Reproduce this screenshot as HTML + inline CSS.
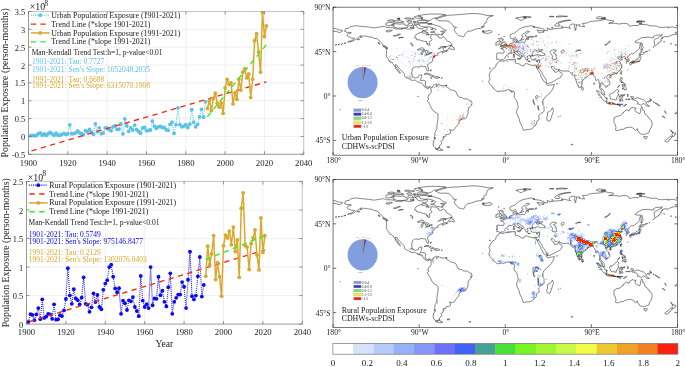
<!DOCTYPE html>
<html><head><meta charset="utf-8"><title>Population Exposure</title>
<style>html,body{margin:0;padding:0;background:#fff;}svg{display:block;}text{font-family:"Liberation Serif","Times New Roman",serif;}</style></head>
<body><svg width="685" height="367" viewBox="0 0 685 367" font-family='"Liberation Serif","Times New Roman",serif'><path d="M67.83 11.5V154.3M107.15 11.5V154.3M146.48 11.5V154.3M185.80 11.5V154.3M225.13 11.5V154.3M264.46 11.5V154.3M28.5 136.45H303.7M28.5 118.60H303.7M28.5 100.75H303.7M28.5 82.90H303.7M28.5 65.05H303.7M28.5 47.20H303.7M28.5 29.35H303.7" stroke="#e4e4e4" stroke-width="0.6" fill="none"/>
<clipPath id="c11"><rect x="28.5" y="9.5" width="275.2" height="144.8"/></clipPath>
<g clip-path="url(#c11)">
<polyline points="30.47,135.66 32.43,135.38 34.40,135.74 36.37,135.49 38.33,133.74 40.30,132.88 42.26,135.24 44.23,133.95 46.20,135.38 48.16,133.74 50.13,132.34 52.10,133.95 54.06,135.24 56.03,133.24 57.99,135.24 59.96,135.24 61.93,134.31 63.89,133.42 65.86,134.42 67.83,133.77 69.79,124.81 71.76,133.74 73.72,133.59 75.69,132.88 77.66,130.92 79.62,132.88 81.59,133.74 83.56,134.66 85.52,130.74 87.49,131.81 89.46,129.49 91.42,131.99 93.39,134.24 95.35,123.95 97.32,131.63 99.29,127.81 101.25,133.67 103.22,132.88 105.19,127.81 107.15,128.24 109.12,129.67 111.08,130.74 113.05,126.81 115.02,125.74 116.98,129.31 118.95,129.31 120.92,123.95 122.88,133.95 124.85,118.96 126.81,125.74 128.78,131.45 130.75,127.88 132.71,130.02 134.68,125.03 136.65,129.67 138.61,131.45 140.58,133.24 142.55,127.88 144.51,127.52 146.48,130.74 148.44,130.38 150.41,130.02 152.38,121.10 154.34,126.10 156.31,128.24 158.28,126.81 160.24,126.45 162.21,127.52 164.17,127.52 166.14,129.67 168.11,130.38 170.07,124.31 172.04,122.17 174.01,133.34 175.97,124.67 177.94,107.89 179.91,124.67 181.87,126.81 183.84,126.10 185.80,124.67 187.77,127.52 189.74,124.13 191.70,109.67 193.67,122.17 195.64,126.81 197.60,124.31 199.57,116.81 201.53,109.32 203.50,117.17 205.47,101.82" stroke="#5bc2e7" stroke-width="1.1" stroke-dasharray="0.9 1.1" fill="none"/>
<circle cx="30.47" cy="135.66" r="1.9" fill="#5bc2e7"/>
<circle cx="32.43" cy="135.38" r="1.9" fill="#5bc2e7"/>
<circle cx="34.40" cy="135.74" r="1.9" fill="#5bc2e7"/>
<circle cx="36.37" cy="135.49" r="1.9" fill="#5bc2e7"/>
<circle cx="38.33" cy="133.74" r="1.9" fill="#5bc2e7"/>
<circle cx="40.30" cy="132.88" r="1.9" fill="#5bc2e7"/>
<circle cx="42.26" cy="135.24" r="1.9" fill="#5bc2e7"/>
<circle cx="44.23" cy="133.95" r="1.9" fill="#5bc2e7"/>
<circle cx="46.20" cy="135.38" r="1.9" fill="#5bc2e7"/>
<circle cx="48.16" cy="133.74" r="1.9" fill="#5bc2e7"/>
<circle cx="50.13" cy="132.34" r="1.9" fill="#5bc2e7"/>
<circle cx="52.10" cy="133.95" r="1.9" fill="#5bc2e7"/>
<circle cx="54.06" cy="135.24" r="1.9" fill="#5bc2e7"/>
<circle cx="56.03" cy="133.24" r="1.9" fill="#5bc2e7"/>
<circle cx="57.99" cy="135.24" r="1.9" fill="#5bc2e7"/>
<circle cx="59.96" cy="135.24" r="1.9" fill="#5bc2e7"/>
<circle cx="61.93" cy="134.31" r="1.9" fill="#5bc2e7"/>
<circle cx="63.89" cy="133.42" r="1.9" fill="#5bc2e7"/>
<circle cx="65.86" cy="134.42" r="1.9" fill="#5bc2e7"/>
<circle cx="67.83" cy="133.77" r="1.9" fill="#5bc2e7"/>
<circle cx="69.79" cy="124.81" r="1.9" fill="#5bc2e7"/>
<circle cx="71.76" cy="133.74" r="1.9" fill="#5bc2e7"/>
<circle cx="73.72" cy="133.59" r="1.9" fill="#5bc2e7"/>
<circle cx="75.69" cy="132.88" r="1.9" fill="#5bc2e7"/>
<circle cx="77.66" cy="130.92" r="1.9" fill="#5bc2e7"/>
<circle cx="79.62" cy="132.88" r="1.9" fill="#5bc2e7"/>
<circle cx="81.59" cy="133.74" r="1.9" fill="#5bc2e7"/>
<circle cx="83.56" cy="134.66" r="1.9" fill="#5bc2e7"/>
<circle cx="85.52" cy="130.74" r="1.9" fill="#5bc2e7"/>
<circle cx="87.49" cy="131.81" r="1.9" fill="#5bc2e7"/>
<circle cx="89.46" cy="129.49" r="1.9" fill="#5bc2e7"/>
<circle cx="91.42" cy="131.99" r="1.9" fill="#5bc2e7"/>
<circle cx="93.39" cy="134.24" r="1.9" fill="#5bc2e7"/>
<circle cx="95.35" cy="123.95" r="1.9" fill="#5bc2e7"/>
<circle cx="97.32" cy="131.63" r="1.9" fill="#5bc2e7"/>
<circle cx="99.29" cy="127.81" r="1.9" fill="#5bc2e7"/>
<circle cx="101.25" cy="133.67" r="1.9" fill="#5bc2e7"/>
<circle cx="103.22" cy="132.88" r="1.9" fill="#5bc2e7"/>
<circle cx="105.19" cy="127.81" r="1.9" fill="#5bc2e7"/>
<circle cx="107.15" cy="128.24" r="1.9" fill="#5bc2e7"/>
<circle cx="109.12" cy="129.67" r="1.9" fill="#5bc2e7"/>
<circle cx="111.08" cy="130.74" r="1.9" fill="#5bc2e7"/>
<circle cx="113.05" cy="126.81" r="1.9" fill="#5bc2e7"/>
<circle cx="115.02" cy="125.74" r="1.9" fill="#5bc2e7"/>
<circle cx="116.98" cy="129.31" r="1.9" fill="#5bc2e7"/>
<circle cx="118.95" cy="129.31" r="1.9" fill="#5bc2e7"/>
<circle cx="120.92" cy="123.95" r="1.9" fill="#5bc2e7"/>
<circle cx="122.88" cy="133.95" r="1.9" fill="#5bc2e7"/>
<circle cx="124.85" cy="118.96" r="1.9" fill="#5bc2e7"/>
<circle cx="126.81" cy="125.74" r="1.9" fill="#5bc2e7"/>
<circle cx="128.78" cy="131.45" r="1.9" fill="#5bc2e7"/>
<circle cx="130.75" cy="127.88" r="1.9" fill="#5bc2e7"/>
<circle cx="132.71" cy="130.02" r="1.9" fill="#5bc2e7"/>
<circle cx="134.68" cy="125.03" r="1.9" fill="#5bc2e7"/>
<circle cx="136.65" cy="129.67" r="1.9" fill="#5bc2e7"/>
<circle cx="138.61" cy="131.45" r="1.9" fill="#5bc2e7"/>
<circle cx="140.58" cy="133.24" r="1.9" fill="#5bc2e7"/>
<circle cx="142.55" cy="127.88" r="1.9" fill="#5bc2e7"/>
<circle cx="144.51" cy="127.52" r="1.9" fill="#5bc2e7"/>
<circle cx="146.48" cy="130.74" r="1.9" fill="#5bc2e7"/>
<circle cx="148.44" cy="130.38" r="1.9" fill="#5bc2e7"/>
<circle cx="150.41" cy="130.02" r="1.9" fill="#5bc2e7"/>
<circle cx="152.38" cy="121.10" r="1.9" fill="#5bc2e7"/>
<circle cx="154.34" cy="126.10" r="1.9" fill="#5bc2e7"/>
<circle cx="156.31" cy="128.24" r="1.9" fill="#5bc2e7"/>
<circle cx="158.28" cy="126.81" r="1.9" fill="#5bc2e7"/>
<circle cx="160.24" cy="126.45" r="1.9" fill="#5bc2e7"/>
<circle cx="162.21" cy="127.52" r="1.9" fill="#5bc2e7"/>
<circle cx="164.17" cy="127.52" r="1.9" fill="#5bc2e7"/>
<circle cx="166.14" cy="129.67" r="1.9" fill="#5bc2e7"/>
<circle cx="168.11" cy="130.38" r="1.9" fill="#5bc2e7"/>
<circle cx="170.07" cy="124.31" r="1.9" fill="#5bc2e7"/>
<circle cx="172.04" cy="122.17" r="1.9" fill="#5bc2e7"/>
<circle cx="174.01" cy="133.34" r="1.9" fill="#5bc2e7"/>
<circle cx="175.97" cy="124.67" r="1.9" fill="#5bc2e7"/>
<circle cx="177.94" cy="107.89" r="1.9" fill="#5bc2e7"/>
<circle cx="179.91" cy="124.67" r="1.9" fill="#5bc2e7"/>
<circle cx="181.87" cy="126.81" r="1.9" fill="#5bc2e7"/>
<circle cx="183.84" cy="126.10" r="1.9" fill="#5bc2e7"/>
<circle cx="185.80" cy="124.67" r="1.9" fill="#5bc2e7"/>
<circle cx="187.77" cy="127.52" r="1.9" fill="#5bc2e7"/>
<circle cx="189.74" cy="124.13" r="1.9" fill="#5bc2e7"/>
<circle cx="191.70" cy="109.67" r="1.9" fill="#5bc2e7"/>
<circle cx="193.67" cy="122.17" r="1.9" fill="#5bc2e7"/>
<circle cx="195.64" cy="126.81" r="1.9" fill="#5bc2e7"/>
<circle cx="197.60" cy="124.31" r="1.9" fill="#5bc2e7"/>
<circle cx="199.57" cy="116.81" r="1.9" fill="#5bc2e7"/>
<circle cx="201.53" cy="109.32" r="1.9" fill="#5bc2e7"/>
<circle cx="203.50" cy="117.17" r="1.9" fill="#5bc2e7"/>
<circle cx="205.47" cy="101.82" r="1.9" fill="#5bc2e7"/>
<path d="M30.47 151.09L266.42 81.83" stroke="#f02818" stroke-width="1.35" stroke-dasharray="5.3 4.4" stroke-dashoffset="-1" fill="none"/>
<polyline points="207.43,108.43 209.40,100.39 211.37,110.39 213.33,98.61 215.30,93.25 217.26,103.25 219.23,107.18 221.20,102.89 223.16,113.42 225.13,87.90 227.10,79.33 229.06,84.33 231.03,82.90 233.00,103.96 234.96,92.54 236.93,99.32 238.89,79.33 240.86,90.04 242.83,72.19 244.79,68.62 246.76,77.90 248.73,73.97 250.69,97.54 252.66,79.33 254.62,40.77 256.59,33.63 258.56,51.84 260.52,72.19 262.49,12.57 264.46,36.49 266.42,25.78" stroke="#d9a82e" stroke-width="1.5" fill="none" stroke-linejoin="round"/>
<circle cx="207.43" cy="108.43" r="1.9" fill="#d9a82e"/>
<circle cx="209.40" cy="100.39" r="1.9" fill="#d9a82e"/>
<circle cx="211.37" cy="110.39" r="1.9" fill="#d9a82e"/>
<circle cx="213.33" cy="98.61" r="1.9" fill="#d9a82e"/>
<circle cx="215.30" cy="93.25" r="1.9" fill="#d9a82e"/>
<circle cx="217.26" cy="103.25" r="1.9" fill="#d9a82e"/>
<circle cx="219.23" cy="107.18" r="1.9" fill="#d9a82e"/>
<circle cx="221.20" cy="102.89" r="1.9" fill="#d9a82e"/>
<circle cx="223.16" cy="113.42" r="1.9" fill="#d9a82e"/>
<circle cx="225.13" cy="87.90" r="1.9" fill="#d9a82e"/>
<circle cx="227.10" cy="79.33" r="1.9" fill="#d9a82e"/>
<circle cx="229.06" cy="84.33" r="1.9" fill="#d9a82e"/>
<circle cx="231.03" cy="82.90" r="1.9" fill="#d9a82e"/>
<circle cx="233.00" cy="103.96" r="1.9" fill="#d9a82e"/>
<circle cx="234.96" cy="92.54" r="1.9" fill="#d9a82e"/>
<circle cx="236.93" cy="99.32" r="1.9" fill="#d9a82e"/>
<circle cx="238.89" cy="79.33" r="1.9" fill="#d9a82e"/>
<circle cx="240.86" cy="90.04" r="1.9" fill="#d9a82e"/>
<circle cx="242.83" cy="72.19" r="1.9" fill="#d9a82e"/>
<circle cx="244.79" cy="68.62" r="1.9" fill="#d9a82e"/>
<circle cx="246.76" cy="77.90" r="1.9" fill="#d9a82e"/>
<circle cx="248.73" cy="73.97" r="1.9" fill="#d9a82e"/>
<circle cx="250.69" cy="97.54" r="1.9" fill="#d9a82e"/>
<circle cx="252.66" cy="79.33" r="1.9" fill="#d9a82e"/>
<circle cx="254.62" cy="40.77" r="1.9" fill="#d9a82e"/>
<circle cx="256.59" cy="33.63" r="1.9" fill="#d9a82e"/>
<circle cx="258.56" cy="51.84" r="1.9" fill="#d9a82e"/>
<circle cx="260.52" cy="72.19" r="1.9" fill="#d9a82e"/>
<circle cx="262.49" cy="12.57" r="1.9" fill="#d9a82e"/>
<circle cx="264.46" cy="36.49" r="1.9" fill="#d9a82e"/>
<circle cx="266.42" cy="25.78" r="1.9" fill="#d9a82e"/>
<path d="M207.43 116.60L266.42 44.70" stroke="#30f020" stroke-width="1.35" stroke-dasharray="5.3 4.4" fill="none"/>
</g>
<path d="M28.5 11.5H303.7V154.3" stroke="#9a9a9a" stroke-width="0.6" fill="none"/>
<path d="M28.5 11.5V154.3H303.7" stroke="#777" stroke-width="0.75" fill="none"/>
<text transform="translate(28.50,165.60) scale(0.955,1)" font-size="9.1" text-anchor="middle" fill="#1a1a1a" >1900</text>
<text transform="translate(67.83,165.60) scale(0.955,1)" font-size="9.1" text-anchor="middle" fill="#1a1a1a" >1920</text>
<text transform="translate(107.15,165.60) scale(0.955,1)" font-size="9.1" text-anchor="middle" fill="#1a1a1a" >1940</text>
<text transform="translate(146.48,165.60) scale(0.955,1)" font-size="9.1" text-anchor="middle" fill="#1a1a1a" >1960</text>
<text transform="translate(185.80,165.60) scale(0.955,1)" font-size="9.1" text-anchor="middle" fill="#1a1a1a" >1980</text>
<text transform="translate(225.13,165.60) scale(0.955,1)" font-size="9.1" text-anchor="middle" fill="#1a1a1a" >2000</text>
<text transform="translate(264.46,165.60) scale(0.955,1)" font-size="9.1" text-anchor="middle" fill="#1a1a1a" >2020</text>
<text transform="translate(303.78,165.60) scale(0.955,1)" font-size="9.1" text-anchor="middle" fill="#1a1a1a" >2040</text>
<text x="25.20" y="157.85" font-size="8.4" text-anchor="end" fill="#1a1a1a" >-0.5</text>
<text x="25.20" y="140.00" font-size="8.4" text-anchor="end" fill="#1a1a1a" >0</text>
<text x="25.20" y="122.15" font-size="8.4" text-anchor="end" fill="#1a1a1a" >0.5</text>
<text x="25.20" y="104.30" font-size="8.4" text-anchor="end" fill="#1a1a1a" >1</text>
<text x="25.20" y="86.45" font-size="8.4" text-anchor="end" fill="#1a1a1a" >1.5</text>
<text x="25.20" y="68.60" font-size="8.4" text-anchor="end" fill="#1a1a1a" >2</text>
<text x="25.20" y="50.75" font-size="8.4" text-anchor="end" fill="#1a1a1a" >2.5</text>
<text x="25.20" y="32.90" font-size="8.4" text-anchor="end" fill="#1a1a1a" >3</text>
<text x="25.20" y="15.05" font-size="8.4" text-anchor="end" fill="#1a1a1a" >3.5</text>
<path d="M28.50 154.3v-3M28.50 11.5v3M67.83 154.3v-3M67.83 11.5v3M107.15 154.3v-3M107.15 11.5v3M146.48 154.3v-3M146.48 11.5v3M185.80 154.3v-3M185.80 11.5v3M225.13 154.3v-3M225.13 11.5v3M264.46 154.3v-3M264.46 11.5v3M303.78 154.3v-3M303.78 11.5v3M28.5 154.30h3M303.7 154.30h-3M28.5 136.45h3M303.7 136.45h-3M28.5 118.60h3M303.7 118.60h-3M28.5 100.75h3M303.7 100.75h-3M28.5 82.90h3M303.7 82.90h-3M28.5 65.05h3M303.7 65.05h-3M28.5 47.20h3M303.7 47.20h-3M28.5 29.35h3M303.7 29.35h-3M28.5 11.50h3M303.7 11.50h-3" stroke="#555" stroke-width="0.6" fill="none"/>
<text x="29.80" y="10.30" font-size="9.8" text-anchor="start" fill="#1a1a1a" >×10</text>
<text x="44.50" y="5.80" font-size="7.2" text-anchor="start" fill="#1a1a1a" >8</text>
<text transform="translate(8.0,82.9) rotate(-90)" font-size="9.8" text-anchor="middle" fill="#1a1a1a">Population Exposure (person-months)</text>
<path d="M30.9 15.2h18.7" stroke="#5bc2e7" stroke-width="1.3" stroke-dasharray="1 1.1"/>
<circle cx="40.25" cy="15.2" r="1.9" fill="#5bc2e7"/>
<text x="51.30" y="17.80" font-size="7.9" text-anchor="start" fill="#1a1a1a" >Urban Population Exposure (1901-2021)</text>
<path d="M30.7 24.07h18.9" stroke="#f02818" stroke-width="1.35" stroke-dasharray="5.3 4.4"/>
<text x="51.30" y="26.67" font-size="7.9" text-anchor="start" fill="#1a1a1a" >Trend Line (*slope 1901-2021)</text>
<path d="M30.9 32.94h18.7" stroke="#d9a82e" stroke-width="1.5"/>
<circle cx="40.25" cy="32.94" r="1.9" fill="#d9a82e"/>
<text x="51.30" y="35.54" font-size="7.9" text-anchor="start" fill="#1a1a1a" >Urban Population Exposure (1991-2021)</text>
<path d="M30.7 41.81h18.9" stroke="#30f020" stroke-width="1.35" stroke-dasharray="5.3 4.4"/>
<text x="51.30" y="44.41" font-size="7.9" text-anchor="start" fill="#1a1a1a" >Trend Line (*slope 1991-2021)</text>
<text x="31.70" y="54.50" font-size="7.5" text-anchor="start" fill="#1a1a1a" >Man-Kendall Trend Test:h=1, p-value&lt;0.01</text>
<text x="32.10" y="64.40" font-size="7.5" text-anchor="start" fill="#5bc2e7" >1901-2021: Tau: 0.7727</text>
<text x="32.10" y="71.50" font-size="7.5" text-anchor="start" fill="#5bc2e7" >1901-2021: Sen's Slope: 1052048.2035</text>
<text x="32.10" y="81.50" font-size="7.5" text-anchor="start" fill="#d9a82e" >1991-2021: Tau: 0.6688</text>
<text x="32.10" y="88.40" font-size="7.5" text-anchor="start" fill="#d9a82e" >1991-2021: Sen's Slope: 6315070.1908</text>
<path d="M65.90 181.45V324.1M105.30 181.45V324.1M144.70 181.45V324.1M184.10 181.45V324.1M223.50 181.45V324.1M262.90 181.45V324.1M26.5 295.57H302.3M26.5 267.04H302.3M26.5 238.51H302.3M26.5 209.98H302.3" stroke="#e4e4e4" stroke-width="0.6" fill="none"/>
<clipPath id="c181"><rect x="26.5" y="179.45" width="275.8" height="144.65000000000003"/></clipPath>
<g clip-path="url(#c181)">
<polyline points="28.47,321.82 30.44,314.06 32.41,314.97 34.38,320.22 36.35,314.40 38.32,308.12 40.29,319.14 42.26,299.39 44.23,317.94 46.20,316.68 48.17,313.83 50.14,314.40 52.11,318.79 54.08,304.36 56.05,319.71 58.02,319.36 59.99,315.26 61.96,316.11 63.93,310.41 65.90,298.99 67.87,268.18 69.84,295.34 71.81,303.79 73.78,289.18 75.75,298.42 77.72,300.13 79.69,304.36 81.66,297.62 83.63,277.31 85.60,303.79 87.57,304.70 89.54,311.78 91.51,307.32 93.48,293.29 95.45,302.02 97.42,295.00 99.39,306.98 101.36,309.26 103.33,289.86 105.30,283.59 107.27,280.16 109.24,267.04 111.21,264.76 113.18,276.74 115.15,288.44 117.12,292.26 119.09,288.15 121.06,313.83 123.03,300.71 125.00,303.27 126.97,310.01 128.94,300.36 130.91,301.28 132.88,297.11 134.85,306.98 136.82,310.98 138.79,316.17 140.76,275.88 142.73,300.71 144.70,306.98 146.67,304.13 148.64,308.12 150.61,267.04 152.58,305.27 154.55,298.42 156.52,298.82 158.49,276.74 160.46,295.17 162.43,290.72 164.40,301.85 166.37,306.41 168.34,287.24 170.31,273.32 172.28,313.83 174.25,301.85 176.22,297.85 178.19,294.60 180.16,294.60 182.13,282.05 184.10,286.73 186.07,308.12 188.04,279.76 190.01,251.63 191.98,296.14 193.95,299.39 195.92,295.57 197.89,276.28 199.86,257.00 201.83,296.54 203.80,284.96" stroke="#0a0af0" stroke-width="1.1" stroke-dasharray="0.9 1.1" fill="none"/>
<circle cx="28.47" cy="321.82" r="1.9" fill="#0a0af0"/>
<circle cx="30.44" cy="314.06" r="1.9" fill="#0a0af0"/>
<circle cx="32.41" cy="314.97" r="1.9" fill="#0a0af0"/>
<circle cx="34.38" cy="320.22" r="1.9" fill="#0a0af0"/>
<circle cx="36.35" cy="314.40" r="1.9" fill="#0a0af0"/>
<circle cx="38.32" cy="308.12" r="1.9" fill="#0a0af0"/>
<circle cx="40.29" cy="319.14" r="1.9" fill="#0a0af0"/>
<circle cx="42.26" cy="299.39" r="1.9" fill="#0a0af0"/>
<circle cx="44.23" cy="317.94" r="1.9" fill="#0a0af0"/>
<circle cx="46.20" cy="316.68" r="1.9" fill="#0a0af0"/>
<circle cx="48.17" cy="313.83" r="1.9" fill="#0a0af0"/>
<circle cx="50.14" cy="314.40" r="1.9" fill="#0a0af0"/>
<circle cx="52.11" cy="318.79" r="1.9" fill="#0a0af0"/>
<circle cx="54.08" cy="304.36" r="1.9" fill="#0a0af0"/>
<circle cx="56.05" cy="319.71" r="1.9" fill="#0a0af0"/>
<circle cx="58.02" cy="319.36" r="1.9" fill="#0a0af0"/>
<circle cx="59.99" cy="315.26" r="1.9" fill="#0a0af0"/>
<circle cx="61.96" cy="316.11" r="1.9" fill="#0a0af0"/>
<circle cx="63.93" cy="310.41" r="1.9" fill="#0a0af0"/>
<circle cx="65.90" cy="298.99" r="1.9" fill="#0a0af0"/>
<circle cx="67.87" cy="268.18" r="1.9" fill="#0a0af0"/>
<circle cx="69.84" cy="295.34" r="1.9" fill="#0a0af0"/>
<circle cx="71.81" cy="303.79" r="1.9" fill="#0a0af0"/>
<circle cx="73.78" cy="289.18" r="1.9" fill="#0a0af0"/>
<circle cx="75.75" cy="298.42" r="1.9" fill="#0a0af0"/>
<circle cx="77.72" cy="300.13" r="1.9" fill="#0a0af0"/>
<circle cx="79.69" cy="304.36" r="1.9" fill="#0a0af0"/>
<circle cx="81.66" cy="297.62" r="1.9" fill="#0a0af0"/>
<circle cx="83.63" cy="277.31" r="1.9" fill="#0a0af0"/>
<circle cx="85.60" cy="303.79" r="1.9" fill="#0a0af0"/>
<circle cx="87.57" cy="304.70" r="1.9" fill="#0a0af0"/>
<circle cx="89.54" cy="311.78" r="1.9" fill="#0a0af0"/>
<circle cx="91.51" cy="307.32" r="1.9" fill="#0a0af0"/>
<circle cx="93.48" cy="293.29" r="1.9" fill="#0a0af0"/>
<circle cx="95.45" cy="302.02" r="1.9" fill="#0a0af0"/>
<circle cx="97.42" cy="295.00" r="1.9" fill="#0a0af0"/>
<circle cx="99.39" cy="306.98" r="1.9" fill="#0a0af0"/>
<circle cx="101.36" cy="309.26" r="1.9" fill="#0a0af0"/>
<circle cx="103.33" cy="289.86" r="1.9" fill="#0a0af0"/>
<circle cx="105.30" cy="283.59" r="1.9" fill="#0a0af0"/>
<circle cx="107.27" cy="280.16" r="1.9" fill="#0a0af0"/>
<circle cx="109.24" cy="267.04" r="1.9" fill="#0a0af0"/>
<circle cx="111.21" cy="264.76" r="1.9" fill="#0a0af0"/>
<circle cx="113.18" cy="276.74" r="1.9" fill="#0a0af0"/>
<circle cx="115.15" cy="288.44" r="1.9" fill="#0a0af0"/>
<circle cx="117.12" cy="292.26" r="1.9" fill="#0a0af0"/>
<circle cx="119.09" cy="288.15" r="1.9" fill="#0a0af0"/>
<circle cx="121.06" cy="313.83" r="1.9" fill="#0a0af0"/>
<circle cx="123.03" cy="300.71" r="1.9" fill="#0a0af0"/>
<circle cx="125.00" cy="303.27" r="1.9" fill="#0a0af0"/>
<circle cx="126.97" cy="310.01" r="1.9" fill="#0a0af0"/>
<circle cx="128.94" cy="300.36" r="1.9" fill="#0a0af0"/>
<circle cx="130.91" cy="301.28" r="1.9" fill="#0a0af0"/>
<circle cx="132.88" cy="297.11" r="1.9" fill="#0a0af0"/>
<circle cx="134.85" cy="306.98" r="1.9" fill="#0a0af0"/>
<circle cx="136.82" cy="310.98" r="1.9" fill="#0a0af0"/>
<circle cx="138.79" cy="316.17" r="1.9" fill="#0a0af0"/>
<circle cx="140.76" cy="275.88" r="1.9" fill="#0a0af0"/>
<circle cx="142.73" cy="300.71" r="1.9" fill="#0a0af0"/>
<circle cx="144.70" cy="306.98" r="1.9" fill="#0a0af0"/>
<circle cx="146.67" cy="304.13" r="1.9" fill="#0a0af0"/>
<circle cx="148.64" cy="308.12" r="1.9" fill="#0a0af0"/>
<circle cx="150.61" cy="267.04" r="1.9" fill="#0a0af0"/>
<circle cx="152.58" cy="305.27" r="1.9" fill="#0a0af0"/>
<circle cx="154.55" cy="298.42" r="1.9" fill="#0a0af0"/>
<circle cx="156.52" cy="298.82" r="1.9" fill="#0a0af0"/>
<circle cx="158.49" cy="276.74" r="1.9" fill="#0a0af0"/>
<circle cx="160.46" cy="295.17" r="1.9" fill="#0a0af0"/>
<circle cx="162.43" cy="290.72" r="1.9" fill="#0a0af0"/>
<circle cx="164.40" cy="301.85" r="1.9" fill="#0a0af0"/>
<circle cx="166.37" cy="306.41" r="1.9" fill="#0a0af0"/>
<circle cx="168.34" cy="287.24" r="1.9" fill="#0a0af0"/>
<circle cx="170.31" cy="273.32" r="1.9" fill="#0a0af0"/>
<circle cx="172.28" cy="313.83" r="1.9" fill="#0a0af0"/>
<circle cx="174.25" cy="301.85" r="1.9" fill="#0a0af0"/>
<circle cx="176.22" cy="297.85" r="1.9" fill="#0a0af0"/>
<circle cx="178.19" cy="294.60" r="1.9" fill="#0a0af0"/>
<circle cx="180.16" cy="294.60" r="1.9" fill="#0a0af0"/>
<circle cx="182.13" cy="282.05" r="1.9" fill="#0a0af0"/>
<circle cx="184.10" cy="286.73" r="1.9" fill="#0a0af0"/>
<circle cx="186.07" cy="308.12" r="1.9" fill="#0a0af0"/>
<circle cx="188.04" cy="279.76" r="1.9" fill="#0a0af0"/>
<circle cx="190.01" cy="251.63" r="1.9" fill="#0a0af0"/>
<circle cx="191.98" cy="296.14" r="1.9" fill="#0a0af0"/>
<circle cx="193.95" cy="299.39" r="1.9" fill="#0a0af0"/>
<circle cx="195.92" cy="295.57" r="1.9" fill="#0a0af0"/>
<circle cx="197.89" cy="276.28" r="1.9" fill="#0a0af0"/>
<circle cx="199.86" cy="257.00" r="1.9" fill="#0a0af0"/>
<circle cx="201.83" cy="296.54" r="1.9" fill="#0a0af0"/>
<circle cx="203.80" cy="284.96" r="1.9" fill="#0a0af0"/>
<path d="M28.47 321.82L264.87 249.92" stroke="#f02818" stroke-width="1.35" stroke-dasharray="5.3 4.4" stroke-dashoffset="-1" fill="none"/>
<polyline points="205.77,276.17 207.74,246.21 209.71,264.76 211.68,253.92 213.65,235.66 215.62,279.59 217.59,262.76 219.56,276.74 221.53,296.14 223.50,245.64 225.47,235.09 227.44,237.94 229.41,231.09 231.38,244.79 233.35,227.10 235.32,251.63 237.29,239.88 239.26,277.31 241.23,208.27 243.20,192.86 245.17,245.64 247.14,247.07 249.11,269.49 251.08,243.65 253.05,237.94 255.02,229.95 256.99,255.06 258.96,269.89 260.93,217.97 262.90,252.38 264.87,235.66" stroke="#d9a82e" stroke-width="1.5" fill="none" stroke-linejoin="round"/>
<circle cx="205.77" cy="276.17" r="1.9" fill="#d9a82e"/>
<circle cx="207.74" cy="246.21" r="1.9" fill="#d9a82e"/>
<circle cx="209.71" cy="264.76" r="1.9" fill="#d9a82e"/>
<circle cx="211.68" cy="253.92" r="1.9" fill="#d9a82e"/>
<circle cx="213.65" cy="235.66" r="1.9" fill="#d9a82e"/>
<circle cx="215.62" cy="279.59" r="1.9" fill="#d9a82e"/>
<circle cx="217.59" cy="262.76" r="1.9" fill="#d9a82e"/>
<circle cx="219.56" cy="276.74" r="1.9" fill="#d9a82e"/>
<circle cx="221.53" cy="296.14" r="1.9" fill="#d9a82e"/>
<circle cx="223.50" cy="245.64" r="1.9" fill="#d9a82e"/>
<circle cx="225.47" cy="235.09" r="1.9" fill="#d9a82e"/>
<circle cx="227.44" cy="237.94" r="1.9" fill="#d9a82e"/>
<circle cx="229.41" cy="231.09" r="1.9" fill="#d9a82e"/>
<circle cx="231.38" cy="244.79" r="1.9" fill="#d9a82e"/>
<circle cx="233.35" cy="227.10" r="1.9" fill="#d9a82e"/>
<circle cx="235.32" cy="251.63" r="1.9" fill="#d9a82e"/>
<circle cx="237.29" cy="239.88" r="1.9" fill="#d9a82e"/>
<circle cx="239.26" cy="277.31" r="1.9" fill="#d9a82e"/>
<circle cx="241.23" cy="208.27" r="1.9" fill="#d9a82e"/>
<circle cx="243.20" cy="192.86" r="1.9" fill="#d9a82e"/>
<circle cx="245.17" cy="245.64" r="1.9" fill="#d9a82e"/>
<circle cx="247.14" cy="247.07" r="1.9" fill="#d9a82e"/>
<circle cx="249.11" cy="269.49" r="1.9" fill="#d9a82e"/>
<circle cx="251.08" cy="243.65" r="1.9" fill="#d9a82e"/>
<circle cx="253.05" cy="237.94" r="1.9" fill="#d9a82e"/>
<circle cx="255.02" cy="229.95" r="1.9" fill="#d9a82e"/>
<circle cx="256.99" cy="255.06" r="1.9" fill="#d9a82e"/>
<circle cx="258.96" cy="269.89" r="1.9" fill="#d9a82e"/>
<circle cx="260.93" cy="217.97" r="1.9" fill="#d9a82e"/>
<circle cx="262.90" cy="252.38" r="1.9" fill="#d9a82e"/>
<circle cx="264.87" cy="235.66" r="1.9" fill="#d9a82e"/>
<path d="M205.77 259.62L264.87 235.66" stroke="#30f020" stroke-width="1.35" stroke-dasharray="5.3 4.4" fill="none"/>
</g>
<path d="M26.5 181.45H302.3V324.1" stroke="#9a9a9a" stroke-width="0.6" fill="none"/>
<path d="M26.5 181.45V324.1H302.3" stroke="#777" stroke-width="0.75" fill="none"/>
<text transform="translate(26.50,335.40) scale(0.955,1)" font-size="9.1" text-anchor="middle" fill="#1a1a1a" >1900</text>
<text transform="translate(65.90,335.40) scale(0.955,1)" font-size="9.1" text-anchor="middle" fill="#1a1a1a" >1920</text>
<text transform="translate(105.30,335.40) scale(0.955,1)" font-size="9.1" text-anchor="middle" fill="#1a1a1a" >1940</text>
<text transform="translate(144.70,335.40) scale(0.955,1)" font-size="9.1" text-anchor="middle" fill="#1a1a1a" >1960</text>
<text transform="translate(184.10,335.40) scale(0.955,1)" font-size="9.1" text-anchor="middle" fill="#1a1a1a" >1980</text>
<text transform="translate(223.50,335.40) scale(0.955,1)" font-size="9.1" text-anchor="middle" fill="#1a1a1a" >2000</text>
<text transform="translate(262.90,335.40) scale(0.955,1)" font-size="9.1" text-anchor="middle" fill="#1a1a1a" >2020</text>
<text transform="translate(302.30,335.40) scale(0.955,1)" font-size="9.1" text-anchor="middle" fill="#1a1a1a" >2040</text>
<text x="23.20" y="327.65" font-size="8.4" text-anchor="end" fill="#1a1a1a" >0</text>
<text x="23.20" y="299.12" font-size="8.4" text-anchor="end" fill="#1a1a1a" >0.5</text>
<text x="23.20" y="270.59" font-size="8.4" text-anchor="end" fill="#1a1a1a" >1</text>
<text x="23.20" y="242.06" font-size="8.4" text-anchor="end" fill="#1a1a1a" >1.5</text>
<text x="23.20" y="213.53" font-size="8.4" text-anchor="end" fill="#1a1a1a" >2</text>
<text x="23.20" y="185.00" font-size="8.4" text-anchor="end" fill="#1a1a1a" >2.5</text>
<path d="M26.50 324.1v-3M26.50 181.45v3M65.90 324.1v-3M65.90 181.45v3M105.30 324.1v-3M105.30 181.45v3M144.70 324.1v-3M144.70 181.45v3M184.10 324.1v-3M184.10 181.45v3M223.50 324.1v-3M223.50 181.45v3M262.90 324.1v-3M262.90 181.45v3M302.30 324.1v-3M302.30 181.45v3M26.5 324.10h3M302.3 324.10h-3M26.5 295.57h3M302.3 295.57h-3M26.5 267.04h3M302.3 267.04h-3M26.5 238.51h3M302.3 238.51h-3M26.5 209.98h3M302.3 209.98h-3M26.5 181.45h3M302.3 181.45h-3" stroke="#555" stroke-width="0.6" fill="none"/>
<text x="27.80" y="180.95" font-size="9.8" text-anchor="start" fill="#1a1a1a" >×10</text>
<text x="42.50" y="176.45" font-size="7.2" text-anchor="start" fill="#1a1a1a" >8</text>
<text transform="translate(8.7,252.8) rotate(-90)" font-size="9.8" text-anchor="middle" fill="#1a1a1a">Population Exposure (person-months)</text>
<text x="164.40" y="346.70" font-size="9.6" text-anchor="middle" fill="#1a1a1a" >Year</text>
<path d="M28.8 185.14999999999998h18.9" stroke="#0a0af0" stroke-width="1.3" stroke-dasharray="1 1.1"/>
<circle cx="38.25" cy="185.14999999999998" r="1.9" fill="#0a0af0"/>
<text x="49.30" y="187.75" font-size="7.9" text-anchor="start" fill="#1a1a1a" >Rural Population Exposure (1901-2021)</text>
<path d="M29.5 194.01999999999998h18.2" stroke="#f02818" stroke-width="1.35" stroke-dasharray="5.3 4.4"/>
<text x="49.30" y="196.62" font-size="7.9" text-anchor="start" fill="#1a1a1a" >Trend Line (*slope 1901-2021)</text>
<path d="M28.8 202.89h18.9" stroke="#d9a82e" stroke-width="1.5"/>
<circle cx="38.25" cy="202.89" r="1.9" fill="#d9a82e"/>
<text x="49.30" y="205.49" font-size="7.9" text-anchor="start" fill="#1a1a1a" >Rural Population Exposure (1991-2021)</text>
<path d="M29.5 211.76h18.2" stroke="#30f020" stroke-width="1.35" stroke-dasharray="5.3 4.4"/>
<text x="49.30" y="214.36" font-size="7.9" text-anchor="start" fill="#1a1a1a" >Trend Line (*slope 1991-2021)</text>
<text x="28.60" y="224.85" font-size="7.5" text-anchor="start" fill="#1a1a1a" >Man-Kendall Trend Test:h=1, p-value&lt;0.01</text>
<text x="28.70" y="236.75" font-size="7.5" text-anchor="start" fill="#0a0af0" >1901-2021: Tau: 0.5749</text>
<text x="28.70" y="243.95" font-size="7.5" text-anchor="start" fill="#0a0af0" >1901-2021: Sen's Slope: 975146.8477</text>
<text x="28.70" y="254.65" font-size="7.5" text-anchor="start" fill="#d9a82e" >1991-2021: Tau: 0.2129</text>
<text x="28.70" y="261.65" font-size="7.5" text-anchor="start" fill="#d9a82e" >1991-2021: Sen's Slope: 1302076.0403</text>
<clipPath id="m1"><rect x="333.05" y="7.2" width="344.45" height="148.0"/></clipPath>
<g clip-path="url(#m1)">
<g><path fill="#4162f6" d="M510.2 45.4h0.8v0.8h-0.8zM506.4 44.5h0.8v0.8h-0.8zM501.8 48.4h0.8v0.8h-0.8zM506.3 48.4h0.55v0.55h-0.55zM510.9 44.4h0.55v0.55h-0.55zM506.9 46.0h0.8v0.8h-0.8zM514.3 51.7h0.8v0.8h-0.8zM513.0 50.6h0.55v0.55h-0.55zM515.5 48.8h0.8v0.8h-0.8zM509.8 49.3h0.55v0.55h-0.55zM524.5 46.2h0.55v0.55h-0.55zM530.4 51.1h0.8v0.8h-0.8zM515.3 45.4h0.55v0.55h-0.55zM528.6 45.7h0.55v0.55h-0.55zM524.3 52.5h0.8v0.8h-0.8zM523.7 43.6h0.55v0.55h-0.55zM506.2 48.3h0.8v0.8h-0.8zM536.9 55.1h0.55v0.55h-0.55zM518.0 49.5h0.55v0.55h-0.55zM522.6 48.3h0.8v0.8h-0.8zM517.4 54.2h0.8v0.8h-0.8zM510.3 46.9h0.8v0.8h-0.8zM523.4 48.6h0.8v0.8h-0.8zM515.5 43.9h0.55v0.55h-0.55zM532.7 51.3h0.8v0.8h-0.8zM517.5 46.0h0.8v0.8h-0.8zM514.0 47.1h0.8v0.8h-0.8zM522.8 49.1h0.55v0.55h-0.55zM513.1 48.6h0.8v0.8h-0.8zM518.3 43.8h0.55v0.55h-0.55zM529.9 49.7h0.8v0.8h-0.8zM538.5 49.1h0.8v0.8h-0.8zM524.3 43.7h0.55v0.55h-0.55zM512.6 46.2h0.55v0.55h-0.55zM544.0 44.5h0.8v0.8h-0.8zM569.1 44.1h0.55v0.55h-0.55zM551.6 42.0h0.8v0.8h-0.8zM532.6 43.6h0.8v0.8h-0.8zM542.8 49.9h0.55v0.55h-0.55zM555.7 41.8h0.8v0.8h-0.8zM540.0 59.2h0.55v0.55h-0.55zM547.2 58.8h0.55v0.55h-0.55zM546.4 55.8h0.55v0.55h-0.55zM534.2 58.4h0.8v0.8h-0.8zM533.8 59.1h0.8v0.8h-0.8zM540.2 60.8h0.55v0.55h-0.55zM535.6 58.1h0.55v0.55h-0.55zM552.5 60.0h0.55v0.55h-0.55zM549.7 63.4h0.55v0.55h-0.55zM539.4 62.1h0.55v0.55h-0.55zM585.2 70.5h0.55v0.55h-0.55zM583.7 70.0h0.55v0.55h-0.55zM587.2 69.0h0.55v0.55h-0.55zM590.5 72.6h0.8v0.8h-0.8zM591.4 73.1h0.8v0.8h-0.8zM582.5 78.9h0.55v0.55h-0.55zM584.6 74.0h0.8v0.8h-0.8zM586.2 75.8h0.8v0.8h-0.8zM577.8 78.9h0.55v0.55h-0.55zM585.3 77.3h0.8v0.8h-0.8zM577.9 82.9h0.55v0.55h-0.55zM574.8 73.4h0.55v0.55h-0.55zM579.9 70.2h0.55v0.55h-0.55zM575.7 75.3h0.8v0.8h-0.8zM618.6 70.3h0.55v0.55h-0.55zM619.8 67.9h0.55v0.55h-0.55zM613.0 69.1h0.55v0.55h-0.55zM618.2 56.8h0.55v0.55h-0.55zM625.1 57.9h0.8v0.8h-0.8zM609.9 64.9h0.8v0.8h-0.8zM617.4 70.3h0.55v0.55h-0.55zM610.6 60.4h0.8v0.8h-0.8zM617.7 60.9h0.55v0.55h-0.55zM615.8 56.5h0.55v0.55h-0.55zM619.9 56.6h0.55v0.55h-0.55zM610.7 70.7h0.55v0.55h-0.55zM604.8 65.9h0.8v0.8h-0.8zM605.5 66.5h0.8v0.8h-0.8zM604.7 64.5h0.8v0.8h-0.8zM603.7 66.8h0.8v0.8h-0.8zM603.7 64.9h0.55v0.55h-0.55zM612.0 72.9h0.55v0.55h-0.55zM614.5 72.0h0.8v0.8h-0.8zM624.6 53.1h0.55v0.55h-0.55zM620.8 51.9h0.8v0.8h-0.8zM621.3 53.9h0.8v0.8h-0.8zM627.9 59.9h0.55v0.55h-0.55zM628.2 60.0h0.55v0.55h-0.55zM637.0 61.0h0.8v0.8h-0.8zM601.7 81.7h0.8v0.8h-0.8zM423.4 61.2h0.8v0.8h-0.8zM424.5 55.5h0.8v0.8h-0.8zM431.5 55.7h0.8v0.8h-0.8zM431.9 58.0h0.55v0.55h-0.55zM419.2 60.9h0.8v0.8h-0.8zM423.9 61.3h0.55v0.55h-0.55zM430.3 53.5h0.8v0.8h-0.8zM424.5 54.6h0.55v0.55h-0.55zM410.9 55.2h0.8v0.8h-0.8zM401.4 54.6h0.8v0.8h-0.8zM409.6 57.5h0.55v0.55h-0.55zM398.6 55.2h0.8v0.8h-0.8zM414.0 55.9h0.8v0.8h-0.8zM433.9 87.0h0.8v0.8h-0.8zM439.0 86.4h0.55v0.55h-0.55zM461.0 117.7h0.8v0.8h-0.8zM458.8 122.4h0.8v0.8h-0.8zM462.2 115.3h0.8v0.8h-0.8zM503.6 90.0h0.55v0.55h-0.55zM539.5 96.2h0.8v0.8h-0.8zM533.7 123.3h0.8v0.8h-0.8zM576.8 56.6h0.55v0.55h-0.55zM534.9 124.6h0.8v0.8h-0.8z"/><path fill="#45a096" d="M505.6 44.6h0.6v0.6h-0.6zM521.1 48.6h0.6v0.6h-0.6zM508.7 45.3h0.6v0.6h-0.6zM503.4 44.8h0.85v0.85h-0.85zM510.0 47.5h0.85v0.85h-0.85zM514.8 45.6h0.6v0.6h-0.6zM551.3 67.4h0.6v0.6h-0.6zM537.7 66.6h0.6v0.6h-0.6zM580.5 71.9h0.85v0.85h-0.85zM587.7 68.6h0.85v0.85h-0.85zM591.1 73.4h0.85v0.85h-0.85zM592.9 72.2h0.85v0.85h-0.85zM574.0 67.9h0.6v0.6h-0.6zM618.6 67.7h0.6v0.6h-0.6zM607.3 67.8h0.85v0.85h-0.85zM612.0 103.4h0.6v0.6h-0.6zM433.0 56.3h0.6v0.6h-0.6zM433.5 56.0h0.85v0.85h-0.85zM437.1 86.4h0.6v0.6h-0.6zM460.7 118.1h0.85v0.85h-0.85zM467.8 106.9h0.85v0.85h-0.85zM530.9 125.6h0.6v0.6h-0.6zM510.5 60.2h0.85v0.85h-0.85z"/><path fill="#48df38" d="M511.7 43.7h0.85v0.85h-0.85zM506.7 46.6h0.6v0.6h-0.6zM500.8 44.9h0.6v0.6h-0.6zM503.2 45.6h0.85v0.85h-0.85zM509.6 46.6h0.6v0.6h-0.6zM510.7 46.3h0.6v0.6h-0.6zM508.4 47.1h0.6v0.6h-0.6zM507.1 46.2h0.6v0.6h-0.6zM508.3 47.1h0.85v0.85h-0.85zM510.1 47.7h0.85v0.85h-0.85zM504.7 43.9h0.85v0.85h-0.85zM504.4 44.8h0.6v0.6h-0.6zM508.3 45.7h0.85v0.85h-0.85zM505.2 44.5h0.6v0.6h-0.6zM509.9 44.9h0.6v0.6h-0.6zM514.9 48.3h0.85v0.85h-0.85zM513.4 48.7h0.85v0.85h-0.85zM514.6 46.7h0.85v0.85h-0.85zM514.7 50.8h0.85v0.85h-0.85zM510.7 51.5h0.85v0.85h-0.85zM515.5 48.9h0.6v0.6h-0.6zM514.5 44.7h0.6v0.6h-0.6zM520.2 51.0h0.6v0.6h-0.6zM520.7 44.6h0.6v0.6h-0.6zM547.5 42.1h0.6v0.6h-0.6zM505.3 43.8h0.6v0.6h-0.6zM503.0 45.1h0.85v0.85h-0.85zM511.8 44.5h0.6v0.6h-0.6zM508.4 45.7h0.6v0.6h-0.6zM510.1 45.5h0.85v0.85h-0.85zM510.0 45.0h0.6v0.6h-0.6zM510.3 45.7h0.85v0.85h-0.85zM511.3 45.7h0.85v0.85h-0.85zM513.3 45.8h0.6v0.6h-0.6zM513.1 46.0h0.6v0.6h-0.6zM510.9 48.8h0.85v0.85h-0.85zM514.0 43.5h0.6v0.6h-0.6zM511.7 48.2h0.85v0.85h-0.85zM514.5 51.0h0.85v0.85h-0.85zM516.6 51.9h0.85v0.85h-0.85zM546.3 65.1h0.6v0.6h-0.6zM548.4 66.1h0.85v0.85h-0.85zM545.3 60.2h0.6v0.6h-0.6zM581.7 68.4h0.85v0.85h-0.85zM584.3 69.9h0.6v0.6h-0.6zM574.1 71.0h0.6v0.6h-0.6zM587.9 68.3h0.6v0.6h-0.6zM582.6 70.1h0.85v0.85h-0.85zM577.1 71.2h0.6v0.6h-0.6zM586.1 70.2h0.6v0.6h-0.6zM584.1 68.5h0.6v0.6h-0.6zM583.0 71.8h0.6v0.6h-0.6zM583.6 70.1h0.85v0.85h-0.85zM585.6 68.3h0.6v0.6h-0.6zM591.2 72.8h0.6v0.6h-0.6zM591.7 72.4h0.85v0.85h-0.85zM590.4 71.6h0.6v0.6h-0.6zM591.8 73.5h0.6v0.6h-0.6zM588.9 72.9h0.6v0.6h-0.6zM592.5 73.0h0.6v0.6h-0.6zM591.2 72.3h0.6v0.6h-0.6zM578.2 74.0h0.6v0.6h-0.6zM584.4 76.2h0.6v0.6h-0.6zM581.4 79.0h0.85v0.85h-0.85zM581.4 78.6h0.85v0.85h-0.85zM577.9 75.3h0.85v0.85h-0.85zM581.5 74.4h0.85v0.85h-0.85zM574.9 65.1h0.85v0.85h-0.85zM607.1 52.3h0.85v0.85h-0.85zM611.4 57.6h0.85v0.85h-0.85zM619.6 69.2h0.85v0.85h-0.85zM618.8 71.1h0.6v0.6h-0.6zM621.3 67.4h0.6v0.6h-0.6zM615.4 63.5h0.85v0.85h-0.85zM617.5 57.7h0.6v0.6h-0.6zM618.1 65.3h0.85v0.85h-0.85zM620.8 53.8h0.6v0.6h-0.6zM607.4 64.7h0.85v0.85h-0.85zM606.7 66.6h0.6v0.6h-0.6zM605.5 67.2h0.85v0.85h-0.85zM608.8 70.7h0.85v0.85h-0.85zM615.9 73.4h0.85v0.85h-0.85zM611.3 74.2h0.6v0.6h-0.6zM616.9 72.3h0.85v0.85h-0.85zM617.0 72.4h0.6v0.6h-0.6zM617.4 72.0h0.6v0.6h-0.6zM611.5 71.8h0.6v0.6h-0.6zM625.4 48.6h0.6v0.6h-0.6zM628.5 45.4h0.85v0.85h-0.85zM638.9 60.1h0.6v0.6h-0.6zM638.2 61.2h0.85v0.85h-0.85zM635.5 60.9h0.85v0.85h-0.85zM639.1 60.8h0.85v0.85h-0.85zM636.8 61.0h0.85v0.85h-0.85zM636.1 61.7h0.85v0.85h-0.85zM632.5 62.8h0.6v0.6h-0.6zM610.0 103.2h0.6v0.6h-0.6zM609.3 103.4h0.85v0.85h-0.85zM607.9 103.3h0.6v0.6h-0.6zM607.7 103.2h0.85v0.85h-0.85zM411.6 51.5h0.85v0.85h-0.85zM422.9 60.8h0.85v0.85h-0.85zM433.4 56.4h0.85v0.85h-0.85zM389.9 60.6h0.6v0.6h-0.6zM389.4 60.6h0.85v0.85h-0.85zM408.9 61.4h0.6v0.6h-0.6zM409.1 77.3h0.85v0.85h-0.85zM406.7 76.6h0.85v0.85h-0.85zM438.3 87.2h0.6v0.6h-0.6zM459.3 116.4h0.6v0.6h-0.6zM463.0 116.8h0.85v0.85h-0.85zM504.5 84.7h0.6v0.6h-0.6zM513.2 89.9h0.85v0.85h-0.85zM511.4 90.2h0.85v0.85h-0.85zM536.5 99.8h0.85v0.85h-0.85zM530.7 123.1h0.6v0.6h-0.6zM532.5 124.8h0.6v0.6h-0.6zM532.7 122.0h0.6v0.6h-0.6zM513.1 59.8h0.6v0.6h-0.6zM571.2 55.6h0.85v0.85h-0.85zM436.6 77.2h0.6v0.6h-0.6zM438.5 77.4h0.6v0.6h-0.6z"/><path fill="#8496f8" d="M510.4 44.6h0.55v0.55h-0.55zM508.4 45.6h0.8v0.8h-0.8zM512.5 45.7h0.55v0.55h-0.55zM512.1 48.5h0.55v0.55h-0.55zM514.9 48.4h0.55v0.55h-0.55zM518.9 48.9h0.55v0.55h-0.55zM511.0 44.7h0.55v0.55h-0.55zM513.8 52.2h0.55v0.55h-0.55zM527.0 50.0h0.8v0.8h-0.8zM521.3 51.7h0.55v0.55h-0.55zM522.1 47.3h0.55v0.55h-0.55zM520.1 49.7h0.8v0.8h-0.8zM521.0 48.1h0.55v0.55h-0.55zM507.1 49.3h0.55v0.55h-0.55zM530.3 48.9h0.55v0.55h-0.55zM513.2 44.6h0.8v0.8h-0.8zM531.8 44.4h0.55v0.55h-0.55zM512.2 47.9h0.8v0.8h-0.8zM522.2 51.1h0.8v0.8h-0.8zM522.1 45.7h0.8v0.8h-0.8zM533.8 49.1h0.8v0.8h-0.8zM528.0 47.2h0.8v0.8h-0.8zM513.2 52.2h0.55v0.55h-0.55zM523.1 47.6h0.8v0.8h-0.8zM530.3 44.8h0.55v0.55h-0.55zM527.3 45.2h0.55v0.55h-0.55zM517.5 49.9h0.8v0.8h-0.8zM516.8 47.5h0.8v0.8h-0.8zM527.0 38.3h0.55v0.55h-0.55zM531.0 39.1h0.8v0.8h-0.8zM538.3 40.8h0.8v0.8h-0.8zM516.7 51.5h0.55v0.55h-0.55zM536.0 56.5h0.55v0.55h-0.55zM526.2 57.6h0.55v0.55h-0.55zM533.5 55.9h0.55v0.55h-0.55zM540.0 59.0h0.8v0.8h-0.8zM544.9 58.3h0.55v0.55h-0.55zM553.8 61.3h0.8v0.8h-0.8zM555.0 61.9h0.8v0.8h-0.8zM537.0 66.1h0.55v0.55h-0.55zM587.2 67.6h0.8v0.8h-0.8zM577.6 70.1h0.55v0.55h-0.55zM592.3 71.8h0.8v0.8h-0.8zM592.3 72.0h0.8v0.8h-0.8zM575.5 75.0h0.8v0.8h-0.8zM578.1 84.9h0.8v0.8h-0.8zM584.2 69.8h0.55v0.55h-0.55zM580.0 86.9h0.55v0.55h-0.55zM569.4 62.1h0.8v0.8h-0.8zM570.8 66.1h0.55v0.55h-0.55zM573.0 63.0h0.55v0.55h-0.55zM576.8 62.0h0.55v0.55h-0.55zM616.2 68.5h0.55v0.55h-0.55zM607.5 69.4h0.55v0.55h-0.55zM610.5 61.7h0.55v0.55h-0.55zM614.8 73.3h0.55v0.55h-0.55zM611.4 64.8h0.55v0.55h-0.55zM615.7 67.5h0.55v0.55h-0.55zM618.7 63.5h0.8v0.8h-0.8zM617.1 57.2h0.55v0.55h-0.55zM614.0 53.3h0.55v0.55h-0.55zM608.1 51.1h0.55v0.55h-0.55zM615.6 60.3h0.8v0.8h-0.8zM616.6 65.5h0.8v0.8h-0.8zM618.6 61.6h0.55v0.55h-0.55zM607.1 64.2h0.8v0.8h-0.8zM605.7 64.9h0.55v0.55h-0.55zM624.6 52.4h0.55v0.55h-0.55zM621.1 52.3h0.8v0.8h-0.8zM628.2 58.6h0.8v0.8h-0.8zM634.5 61.3h0.8v0.8h-0.8zM607.2 81.7h0.55v0.55h-0.55zM607.1 80.0h0.55v0.55h-0.55zM604.7 75.6h0.8v0.8h-0.8zM607.5 74.9h0.8v0.8h-0.8zM413.6 52.7h0.55v0.55h-0.55zM419.4 54.3h0.8v0.8h-0.8zM413.3 58.6h0.55v0.55h-0.55zM427.8 59.5h0.8v0.8h-0.8zM419.0 59.2h0.8v0.8h-0.8zM414.7 59.1h0.55v0.55h-0.55zM414.7 54.1h0.8v0.8h-0.8zM415.2 52.6h0.8v0.8h-0.8zM418.1 60.8h0.55v0.55h-0.55zM389.8 59.9h0.8v0.8h-0.8zM392.3 62.6h0.55v0.55h-0.55zM400.6 60.7h0.55v0.55h-0.55zM397.1 59.1h0.55v0.55h-0.55zM410.4 63.0h0.55v0.55h-0.55zM411.1 74.1h0.55v0.55h-0.55zM409.7 75.6h0.55v0.55h-0.55zM435.5 86.3h0.8v0.8h-0.8zM459.5 115.0h0.8v0.8h-0.8zM463.5 117.1h0.8v0.8h-0.8zM467.8 109.8h0.8v0.8h-0.8zM446.8 125.3h0.55v0.55h-0.55zM444.0 129.2h0.8v0.8h-0.8zM447.0 115.4h0.55v0.55h-0.55zM498.7 90.4h0.8v0.8h-0.8zM510.3 89.8h0.8v0.8h-0.8zM539.2 90.4h0.8v0.8h-0.8zM533.4 120.8h0.55v0.55h-0.55zM534.2 121.7h0.55v0.55h-0.55zM507.4 60.2h0.55v0.55h-0.55zM565.9 53.1h0.8v0.8h-0.8zM574.5 55.5h0.8v0.8h-0.8zM572.7 54.9h0.8v0.8h-0.8z"/><path fill="#94b1f9" d="M504.5 45.2h0.8v0.8h-0.8zM509.2 45.1h0.8v0.8h-0.8zM509.8 46.9h0.55v0.55h-0.55zM505.7 44.1h0.55v0.55h-0.55zM509.3 49.0h0.55v0.55h-0.55zM508.0 46.1h0.8v0.8h-0.8zM502.4 43.4h0.55v0.55h-0.55zM514.2 42.9h0.8v0.8h-0.8zM505.0 47.2h0.8v0.8h-0.8zM502.3 45.1h0.55v0.55h-0.55zM511.2 49.6h0.55v0.55h-0.55zM508.1 50.1h0.55v0.55h-0.55zM508.8 49.8h0.8v0.8h-0.8zM515.7 49.8h0.8v0.8h-0.8zM518.6 45.8h0.8v0.8h-0.8zM519.5 47.2h0.8v0.8h-0.8zM514.0 43.9h0.55v0.55h-0.55zM509.9 50.2h0.8v0.8h-0.8zM509.4 48.4h0.8v0.8h-0.8zM513.4 46.6h0.8v0.8h-0.8zM512.8 46.1h0.8v0.8h-0.8zM526.8 53.1h0.8v0.8h-0.8zM511.6 48.3h0.8v0.8h-0.8zM527.9 46.6h0.8v0.8h-0.8zM521.0 50.5h0.55v0.55h-0.55zM531.0 49.6h0.55v0.55h-0.55zM518.8 55.5h0.8v0.8h-0.8zM513.9 50.0h0.55v0.55h-0.55zM522.4 51.7h0.8v0.8h-0.8zM510.9 49.4h0.8v0.8h-0.8zM513.5 48.4h0.8v0.8h-0.8zM524.4 46.8h0.55v0.55h-0.55zM519.5 45.4h0.55v0.55h-0.55zM510.8 52.8h0.55v0.55h-0.55zM518.7 47.9h0.8v0.8h-0.8zM517.4 48.6h0.8v0.8h-0.8zM526.1 49.3h0.55v0.55h-0.55zM525.8 44.4h0.8v0.8h-0.8zM524.5 49.9h0.8v0.8h-0.8zM520.6 43.0h0.55v0.55h-0.55zM522.7 45.0h0.8v0.8h-0.8zM512.2 43.5h0.8v0.8h-0.8zM524.1 53.3h0.8v0.8h-0.8zM526.6 51.8h0.8v0.8h-0.8zM511.1 52.0h0.8v0.8h-0.8zM522.7 50.2h0.55v0.55h-0.55zM523.5 46.0h0.8v0.8h-0.8zM525.7 51.5h0.55v0.55h-0.55zM524.9 49.7h0.8v0.8h-0.8zM523.6 52.9h0.8v0.8h-0.8zM519.7 46.7h0.8v0.8h-0.8zM519.8 49.6h0.55v0.55h-0.55zM521.8 42.6h0.55v0.55h-0.55zM514.5 51.6h0.55v0.55h-0.55zM526.4 48.2h0.8v0.8h-0.8zM530.7 49.8h0.55v0.55h-0.55zM533.0 42.0h0.55v0.55h-0.55zM518.1 47.4h0.8v0.8h-0.8zM516.0 46.6h0.8v0.8h-0.8zM525.8 44.8h0.55v0.55h-0.55zM538.2 44.6h0.8v0.8h-0.8zM542.7 40.7h0.55v0.55h-0.55zM582.5 40.9h0.55v0.55h-0.55zM546.9 35.9h0.8v0.8h-0.8zM563.9 39.3h0.55v0.55h-0.55zM557.5 40.7h0.55v0.55h-0.55zM539.6 38.2h0.8v0.8h-0.8zM549.4 43.8h0.8v0.8h-0.8zM545.2 51.3h0.8v0.8h-0.8zM526.5 43.8h0.8v0.8h-0.8zM533.3 40.0h0.8v0.8h-0.8zM543.5 58.2h0.8v0.8h-0.8zM549.6 58.3h0.55v0.55h-0.55zM535.5 57.4h0.8v0.8h-0.8zM541.9 57.6h0.55v0.55h-0.55zM558.3 61.3h0.8v0.8h-0.8zM537.4 59.7h0.55v0.55h-0.55zM528.7 55.3h0.8v0.8h-0.8zM541.1 59.1h0.55v0.55h-0.55zM536.1 59.7h0.8v0.8h-0.8zM538.1 55.3h0.55v0.55h-0.55zM524.2 48.8h0.55v0.55h-0.55zM549.8 60.2h0.8v0.8h-0.8zM548.0 56.6h0.8v0.8h-0.8zM551.8 57.8h0.55v0.55h-0.55zM556.8 62.6h0.8v0.8h-0.8zM546.1 58.0h0.55v0.55h-0.55zM545.1 64.7h0.8v0.8h-0.8zM545.0 58.1h0.55v0.55h-0.55zM553.0 59.5h0.55v0.55h-0.55zM551.3 63.0h0.8v0.8h-0.8zM556.1 66.3h0.8v0.8h-0.8zM559.9 63.5h0.55v0.55h-0.55zM536.6 65.9h0.55v0.55h-0.55zM586.9 69.3h0.8v0.8h-0.8zM595.0 69.2h0.55v0.55h-0.55zM585.2 72.9h0.8v0.8h-0.8zM589.1 69.8h0.8v0.8h-0.8zM585.8 68.7h0.55v0.55h-0.55zM582.7 69.1h0.8v0.8h-0.8zM579.1 71.9h0.55v0.55h-0.55zM590.1 70.3h0.55v0.55h-0.55zM581.7 68.7h0.8v0.8h-0.8zM584.1 69.6h0.8v0.8h-0.8zM586.1 69.5h0.8v0.8h-0.8zM584.8 70.1h0.8v0.8h-0.8zM580.1 71.6h0.8v0.8h-0.8zM590.9 70.8h0.55v0.55h-0.55zM591.9 73.3h0.55v0.55h-0.55zM590.6 73.7h0.8v0.8h-0.8zM582.9 75.1h0.55v0.55h-0.55zM577.5 81.8h0.8v0.8h-0.8zM581.3 82.7h0.55v0.55h-0.55zM579.7 75.9h0.55v0.55h-0.55zM577.9 78.3h0.8v0.8h-0.8zM582.0 77.3h0.8v0.8h-0.8zM584.1 77.2h0.8v0.8h-0.8zM578.8 81.8h0.8v0.8h-0.8zM581.0 80.7h0.8v0.8h-0.8zM574.7 65.0h0.8v0.8h-0.8zM571.0 60.6h0.55v0.55h-0.55zM573.1 64.2h0.8v0.8h-0.8zM577.4 63.0h0.8v0.8h-0.8zM574.2 66.6h0.8v0.8h-0.8zM617.0 61.2h0.8v0.8h-0.8zM616.0 65.6h0.55v0.55h-0.55zM619.3 61.5h0.8v0.8h-0.8zM617.8 59.9h0.55v0.55h-0.55zM614.1 63.5h0.8v0.8h-0.8zM613.3 61.0h0.55v0.55h-0.55zM616.7 68.1h0.8v0.8h-0.8zM612.8 66.1h0.8v0.8h-0.8zM614.0 59.0h0.55v0.55h-0.55zM615.3 66.7h0.8v0.8h-0.8zM615.4 68.7h0.55v0.55h-0.55zM619.9 64.0h0.8v0.8h-0.8zM616.5 71.6h0.55v0.55h-0.55zM618.6 55.9h0.55v0.55h-0.55zM613.9 69.3h0.8v0.8h-0.8zM610.7 69.6h0.8v0.8h-0.8zM617.1 56.4h0.8v0.8h-0.8zM617.1 62.2h0.8v0.8h-0.8zM617.0 58.4h0.55v0.55h-0.55zM612.3 68.3h0.55v0.55h-0.55zM621.4 65.7h0.8v0.8h-0.8zM616.7 66.6h0.55v0.55h-0.55zM614.6 67.3h0.55v0.55h-0.55zM614.8 63.3h0.8v0.8h-0.8zM620.1 63.7h0.55v0.55h-0.55zM619.1 66.2h0.55v0.55h-0.55zM612.4 68.7h0.8v0.8h-0.8zM603.5 65.2h0.55v0.55h-0.55zM608.6 66.7h0.8v0.8h-0.8zM603.0 64.8h0.8v0.8h-0.8zM607.6 66.4h0.8v0.8h-0.8zM607.7 63.7h0.55v0.55h-0.55zM607.6 65.8h0.8v0.8h-0.8zM604.6 65.5h0.55v0.55h-0.55zM603.2 68.2h0.8v0.8h-0.8zM607.3 66.4h0.8v0.8h-0.8zM625.0 49.2h0.55v0.55h-0.55zM625.8 57.5h0.55v0.55h-0.55zM626.1 50.5h0.55v0.55h-0.55zM627.0 54.9h0.55v0.55h-0.55zM622.1 54.0h0.55v0.55h-0.55zM621.1 50.7h0.8v0.8h-0.8zM623.4 49.4h0.55v0.55h-0.55zM627.0 59.7h0.55v0.55h-0.55zM611.1 103.7h0.55v0.55h-0.55zM600.1 80.0h0.55v0.55h-0.55zM603.1 83.1h0.8v0.8h-0.8zM602.2 77.8h0.8v0.8h-0.8zM598.3 73.5h0.8v0.8h-0.8zM601.6 70.4h0.55v0.55h-0.55zM607.0 79.0h0.8v0.8h-0.8zM605.9 86.9h0.55v0.55h-0.55zM599.3 82.7h0.55v0.55h-0.55zM604.6 80.5h0.8v0.8h-0.8zM599.0 81.9h0.55v0.55h-0.55zM603.4 77.6h0.8v0.8h-0.8zM606.8 80.5h0.8v0.8h-0.8zM425.2 66.2h0.8v0.8h-0.8zM418.3 60.3h0.8v0.8h-0.8zM425.4 55.1h0.8v0.8h-0.8zM426.4 61.1h0.55v0.55h-0.55zM420.5 53.6h0.55v0.55h-0.55zM424.5 63.5h0.8v0.8h-0.8zM407.0 56.8h0.8v0.8h-0.8zM423.4 59.0h0.55v0.55h-0.55zM429.8 56.8h0.8v0.8h-0.8zM428.1 52.9h0.55v0.55h-0.55zM414.0 51.5h0.8v0.8h-0.8zM427.3 60.9h0.8v0.8h-0.8zM426.8 64.3h0.55v0.55h-0.55zM412.9 61.6h0.55v0.55h-0.55zM404.8 51.2h0.55v0.55h-0.55zM434.5 53.4h0.8v0.8h-0.8zM429.4 58.0h0.8v0.8h-0.8zM393.2 59.0h0.8v0.8h-0.8zM390.1 56.9h0.55v0.55h-0.55zM396.1 56.3h0.8v0.8h-0.8zM390.6 55.1h0.55v0.55h-0.55zM395.4 59.4h0.55v0.55h-0.55zM390.9 48.7h0.55v0.55h-0.55zM400.9 58.3h0.55v0.55h-0.55zM411.6 73.4h0.8v0.8h-0.8zM409.1 75.8h0.55v0.55h-0.55zM408.0 76.6h0.8v0.8h-0.8zM443.7 86.6h0.8v0.8h-0.8zM438.9 84.6h0.55v0.55h-0.55zM441.4 86.9h0.55v0.55h-0.55zM455.6 118.1h0.55v0.55h-0.55zM459.3 118.4h0.55v0.55h-0.55zM470.6 104.1h0.8v0.8h-0.8zM437.4 134.6h0.8v0.8h-0.8zM503.1 85.7h0.55v0.55h-0.55zM493.7 87.0h0.8v0.8h-0.8zM504.3 84.5h0.55v0.55h-0.55zM509.4 86.6h0.55v0.55h-0.55zM541.2 93.5h0.8v0.8h-0.8zM532.5 123.2h0.8v0.8h-0.8zM532.7 124.6h0.8v0.8h-0.8zM505.1 61.0h0.55v0.55h-0.55zM508.3 61.2h0.55v0.55h-0.55zM507.9 61.0h0.55v0.55h-0.55zM569.7 56.6h0.55v0.55h-0.55zM570.5 58.8h0.8v0.8h-0.8zM573.3 56.0h0.55v0.55h-0.55zM567.9 55.4h0.8v0.8h-0.8zM568.6 54.0h0.55v0.55h-0.55z"/><path fill="#b5cbfa" d="M511.3 44.5h0.8v0.8h-0.8zM509.5 45.2h0.8v0.8h-0.8zM508.0 46.7h0.55v0.55h-0.55zM504.7 44.6h0.55v0.55h-0.55zM506.3 44.4h0.8v0.8h-0.8zM504.3 44.8h0.8v0.8h-0.8zM511.4 45.1h0.55v0.55h-0.55zM508.7 47.8h0.8v0.8h-0.8zM503.8 44.1h0.8v0.8h-0.8zM511.5 45.8h0.55v0.55h-0.55zM512.3 44.9h0.8v0.8h-0.8zM505.3 47.7h0.8v0.8h-0.8zM506.5 44.3h0.8v0.8h-0.8zM506.9 46.0h0.55v0.55h-0.55zM505.6 44.1h0.55v0.55h-0.55zM502.3 45.4h0.8v0.8h-0.8zM511.6 47.3h0.8v0.8h-0.8zM515.8 43.5h0.8v0.8h-0.8zM505.8 44.6h0.55v0.55h-0.55zM509.1 47.1h0.8v0.8h-0.8zM505.4 47.9h0.55v0.55h-0.55zM513.9 46.0h0.55v0.55h-0.55zM511.4 48.3h0.55v0.55h-0.55zM514.4 46.5h0.8v0.8h-0.8zM511.3 46.9h0.55v0.55h-0.55zM513.2 47.3h0.55v0.55h-0.55zM511.1 51.5h0.8v0.8h-0.8zM517.7 47.4h0.8v0.8h-0.8zM511.6 53.2h0.55v0.55h-0.55zM514.6 47.7h0.8v0.8h-0.8zM509.1 51.9h0.8v0.8h-0.8zM515.0 46.1h0.55v0.55h-0.55zM520.5 45.5h0.55v0.55h-0.55zM514.2 49.1h0.8v0.8h-0.8zM511.2 50.8h0.8v0.8h-0.8zM513.3 45.9h0.55v0.55h-0.55zM517.3 46.3h0.55v0.55h-0.55zM515.4 47.7h0.55v0.55h-0.55zM512.6 49.0h0.8v0.8h-0.8zM530.9 49.0h0.8v0.8h-0.8zM526.2 47.2h0.55v0.55h-0.55zM529.3 48.2h0.8v0.8h-0.8zM525.8 52.1h0.8v0.8h-0.8zM517.9 47.0h0.55v0.55h-0.55zM515.2 46.8h0.55v0.55h-0.55zM523.5 45.3h0.8v0.8h-0.8zM530.0 47.0h0.55v0.55h-0.55zM519.3 49.2h0.55v0.55h-0.55zM524.2 51.8h0.55v0.55h-0.55zM529.8 48.7h0.8v0.8h-0.8zM524.9 45.8h0.8v0.8h-0.8zM519.6 48.1h0.55v0.55h-0.55zM519.8 46.2h0.8v0.8h-0.8zM524.2 46.5h0.55v0.55h-0.55zM510.7 46.4h0.55v0.55h-0.55zM507.4 48.6h0.8v0.8h-0.8zM525.9 46.2h0.55v0.55h-0.55zM501.3 48.3h0.55v0.55h-0.55zM518.2 43.5h0.55v0.55h-0.55zM523.2 45.9h0.55v0.55h-0.55zM519.4 50.7h0.55v0.55h-0.55zM512.1 46.3h0.55v0.55h-0.55zM521.6 48.7h0.8v0.8h-0.8zM518.7 50.9h0.8v0.8h-0.8zM521.5 47.1h0.8v0.8h-0.8zM524.7 46.0h0.8v0.8h-0.8zM511.4 48.5h0.55v0.55h-0.55zM521.6 48.7h0.8v0.8h-0.8zM526.0 50.7h0.55v0.55h-0.55zM530.8 42.9h0.55v0.55h-0.55zM531.6 49.7h0.8v0.8h-0.8zM519.1 44.7h0.55v0.55h-0.55zM505.4 51.7h0.55v0.55h-0.55zM519.4 50.7h0.55v0.55h-0.55zM520.5 46.2h0.55v0.55h-0.55zM507.7 49.6h0.8v0.8h-0.8zM509.3 48.6h0.8v0.8h-0.8zM525.3 54.7h0.55v0.55h-0.55zM523.3 45.6h0.55v0.55h-0.55zM524.7 53.1h0.55v0.55h-0.55zM529.6 49.2h0.8v0.8h-0.8zM522.2 46.1h0.8v0.8h-0.8zM515.5 47.1h0.55v0.55h-0.55zM522.1 50.2h0.55v0.55h-0.55zM519.3 48.1h0.8v0.8h-0.8zM525.6 46.1h0.8v0.8h-0.8zM516.2 49.9h0.8v0.8h-0.8zM527.5 49.4h0.55v0.55h-0.55zM513.5 49.1h0.8v0.8h-0.8zM519.3 44.1h0.55v0.55h-0.55zM525.6 53.4h0.8v0.8h-0.8zM520.8 44.2h0.8v0.8h-0.8zM521.5 51.7h0.8v0.8h-0.8zM528.0 46.2h0.8v0.8h-0.8zM521.0 51.6h0.55v0.55h-0.55zM516.8 46.7h0.55v0.55h-0.55zM524.8 49.7h0.8v0.8h-0.8zM524.5 52.0h0.55v0.55h-0.55zM517.1 49.3h0.55v0.55h-0.55zM520.7 44.4h0.8v0.8h-0.8zM517.2 45.6h0.55v0.55h-0.55zM519.2 51.1h0.8v0.8h-0.8zM524.5 43.5h0.55v0.55h-0.55zM523.8 46.8h0.8v0.8h-0.8zM511.6 46.9h0.8v0.8h-0.8zM517.8 51.1h0.55v0.55h-0.55zM526.0 51.9h0.8v0.8h-0.8zM523.3 47.4h0.55v0.55h-0.55zM518.1 43.7h0.55v0.55h-0.55zM523.4 46.4h0.55v0.55h-0.55zM516.0 44.3h0.55v0.55h-0.55zM512.8 50.6h0.8v0.8h-0.8zM515.8 44.3h0.55v0.55h-0.55zM546.8 47.1h0.55v0.55h-0.55zM540.3 36.7h0.55v0.55h-0.55zM523.7 43.0h0.8v0.8h-0.8zM555.6 49.1h0.8v0.8h-0.8zM555.5 42.5h0.55v0.55h-0.55zM546.1 46.0h0.8v0.8h-0.8zM535.7 41.8h0.55v0.55h-0.55zM561.0 45.3h0.8v0.8h-0.8zM533.3 44.8h0.8v0.8h-0.8zM536.7 36.7h0.55v0.55h-0.55zM542.9 41.8h0.8v0.8h-0.8zM532.9 44.1h0.55v0.55h-0.55zM557.8 44.7h0.55v0.55h-0.55zM542.8 41.2h0.8v0.8h-0.8zM558.8 41.9h0.55v0.55h-0.55zM550.8 49.5h0.55v0.55h-0.55zM541.8 41.4h0.55v0.55h-0.55zM549.1 37.2h0.8v0.8h-0.8zM535.8 55.4h0.55v0.55h-0.55zM536.1 57.9h0.8v0.8h-0.8zM545.0 58.0h0.8v0.8h-0.8zM541.4 56.6h0.55v0.55h-0.55zM545.3 54.3h0.8v0.8h-0.8zM527.3 59.5h0.8v0.8h-0.8zM543.2 57.6h0.8v0.8h-0.8zM535.2 58.0h0.55v0.55h-0.55zM546.4 56.2h0.55v0.55h-0.55zM540.0 59.1h0.8v0.8h-0.8zM538.1 55.9h0.55v0.55h-0.55zM538.5 56.0h0.55v0.55h-0.55zM545.1 60.9h0.55v0.55h-0.55zM540.8 57.8h0.55v0.55h-0.55zM543.4 60.6h0.55v0.55h-0.55zM539.0 56.0h0.55v0.55h-0.55zM542.8 57.2h0.8v0.8h-0.8zM548.0 59.5h0.55v0.55h-0.55zM541.8 58.2h0.8v0.8h-0.8zM545.6 56.6h0.8v0.8h-0.8zM552.1 62.5h0.8v0.8h-0.8zM548.9 67.3h0.55v0.55h-0.55zM550.5 59.9h0.8v0.8h-0.8zM561.0 61.7h0.8v0.8h-0.8zM548.9 62.5h0.55v0.55h-0.55zM553.8 65.2h0.8v0.8h-0.8zM549.1 62.2h0.8v0.8h-0.8zM558.2 61.2h0.55v0.55h-0.55zM555.8 61.1h0.55v0.55h-0.55zM558.4 58.3h0.8v0.8h-0.8zM539.2 64.3h0.55v0.55h-0.55zM588.5 72.7h0.8v0.8h-0.8zM584.5 70.0h0.8v0.8h-0.8zM588.6 69.6h0.8v0.8h-0.8zM578.6 70.5h0.8v0.8h-0.8zM586.4 72.7h0.55v0.55h-0.55zM592.1 68.6h0.55v0.55h-0.55zM589.6 70.6h0.55v0.55h-0.55zM584.9 70.4h0.55v0.55h-0.55zM586.8 70.0h0.8v0.8h-0.8zM583.6 67.6h0.55v0.55h-0.55zM581.1 71.4h0.8v0.8h-0.8zM568.0 68.1h0.8v0.8h-0.8zM583.7 70.3h0.55v0.55h-0.55zM582.7 69.4h0.8v0.8h-0.8zM587.4 71.1h0.55v0.55h-0.55zM591.9 72.2h0.8v0.8h-0.8zM582.1 70.3h0.55v0.55h-0.55zM590.7 71.9h0.8v0.8h-0.8zM579.6 82.2h0.8v0.8h-0.8zM578.8 71.4h0.55v0.55h-0.55zM579.7 86.3h0.55v0.55h-0.55zM576.8 78.7h0.55v0.55h-0.55zM582.2 80.5h0.8v0.8h-0.8zM581.1 82.9h0.55v0.55h-0.55zM585.0 76.3h0.8v0.8h-0.8zM579.8 77.9h0.55v0.55h-0.55zM575.3 72.8h0.8v0.8h-0.8zM582.3 76.7h0.55v0.55h-0.55zM581.1 81.3h0.55v0.55h-0.55zM579.0 81.2h0.8v0.8h-0.8zM577.6 77.4h0.55v0.55h-0.55zM580.7 82.2h0.8v0.8h-0.8zM580.0 76.6h0.8v0.8h-0.8zM578.0 78.4h0.8v0.8h-0.8zM574.7 64.6h0.55v0.55h-0.55zM575.8 67.5h0.8v0.8h-0.8zM573.3 64.6h0.55v0.55h-0.55zM574.9 68.3h0.8v0.8h-0.8zM576.9 67.3h0.8v0.8h-0.8zM618.6 60.2h0.55v0.55h-0.55zM613.7 67.3h0.8v0.8h-0.8zM614.0 69.4h0.8v0.8h-0.8zM619.2 69.9h0.55v0.55h-0.55zM620.9 59.3h0.8v0.8h-0.8zM612.2 63.3h0.8v0.8h-0.8zM619.5 63.3h0.55v0.55h-0.55zM608.3 60.8h0.55v0.55h-0.55zM616.0 68.0h0.8v0.8h-0.8zM614.8 57.7h0.55v0.55h-0.55zM614.3 62.4h0.8v0.8h-0.8zM609.5 64.6h0.8v0.8h-0.8zM609.2 71.0h0.55v0.55h-0.55zM619.7 68.7h0.8v0.8h-0.8zM616.5 69.9h0.8v0.8h-0.8zM614.1 71.9h0.55v0.55h-0.55zM617.8 63.2h0.8v0.8h-0.8zM617.9 58.6h0.55v0.55h-0.55zM613.1 72.4h0.55v0.55h-0.55zM615.1 65.5h0.55v0.55h-0.55zM615.8 66.8h0.8v0.8h-0.8zM607.8 58.0h0.55v0.55h-0.55zM615.6 58.8h0.8v0.8h-0.8zM617.3 63.9h0.55v0.55h-0.55zM618.5 53.7h0.8v0.8h-0.8zM616.1 69.5h0.8v0.8h-0.8zM614.2 60.0h0.55v0.55h-0.55zM616.1 61.1h0.8v0.8h-0.8zM612.7 60.7h0.55v0.55h-0.55zM619.9 68.4h0.55v0.55h-0.55zM608.7 64.2h0.8v0.8h-0.8zM615.0 62.7h0.55v0.55h-0.55zM605.2 66.9h0.55v0.55h-0.55zM604.8 66.5h0.55v0.55h-0.55zM603.5 66.6h0.8v0.8h-0.8zM605.4 65.8h0.55v0.55h-0.55zM602.7 64.3h0.55v0.55h-0.55zM606.4 63.0h0.55v0.55h-0.55zM606.5 65.6h0.8v0.8h-0.8zM605.3 67.5h0.55v0.55h-0.55zM606.0 65.7h0.55v0.55h-0.55zM605.7 68.0h0.55v0.55h-0.55zM611.9 74.0h0.8v0.8h-0.8zM625.0 55.6h0.8v0.8h-0.8zM624.0 48.7h0.8v0.8h-0.8zM622.1 49.5h0.55v0.55h-0.55zM625.3 52.8h0.55v0.55h-0.55zM623.7 55.4h0.55v0.55h-0.55zM623.6 53.4h0.8v0.8h-0.8zM626.6 59.0h0.55v0.55h-0.55zM628.9 60.3h0.55v0.55h-0.55zM626.5 61.2h0.8v0.8h-0.8zM628.1 59.3h0.8v0.8h-0.8zM609.8 103.1h0.8v0.8h-0.8zM603.8 81.6h0.55v0.55h-0.55zM604.9 81.3h0.55v0.55h-0.55zM606.0 82.6h0.55v0.55h-0.55zM600.8 72.3h0.55v0.55h-0.55zM605.5 84.0h0.55v0.55h-0.55zM602.1 73.1h0.55v0.55h-0.55zM606.8 85.3h0.8v0.8h-0.8zM607.1 86.1h0.55v0.55h-0.55zM600.6 84.8h0.8v0.8h-0.8zM601.8 79.7h0.55v0.55h-0.55zM623.0 88.2h0.8v0.8h-0.8zM621.8 78.0h0.55v0.55h-0.55zM623.3 86.1h0.8v0.8h-0.8zM621.1 80.0h0.55v0.55h-0.55zM621.8 82.1h0.55v0.55h-0.55zM421.7 56.1h0.55v0.55h-0.55zM421.4 62.4h0.55v0.55h-0.55zM428.1 62.3h0.55v0.55h-0.55zM416.0 63.1h0.55v0.55h-0.55zM420.7 60.7h0.55v0.55h-0.55zM416.9 53.6h0.8v0.8h-0.8zM415.3 60.3h0.55v0.55h-0.55zM430.0 47.9h0.55v0.55h-0.55zM417.0 59.9h0.8v0.8h-0.8zM425.7 54.1h0.8v0.8h-0.8zM411.4 59.8h0.55v0.55h-0.55zM412.5 65.1h0.8v0.8h-0.8zM416.5 65.2h0.55v0.55h-0.55zM430.3 61.6h0.8v0.8h-0.8zM427.9 67.5h0.8v0.8h-0.8zM422.8 52.9h0.55v0.55h-0.55zM421.1 59.6h0.8v0.8h-0.8zM422.2 59.6h0.8v0.8h-0.8zM422.7 61.1h0.8v0.8h-0.8zM421.7 59.4h0.55v0.55h-0.55zM417.1 60.8h0.8v0.8h-0.8zM427.4 55.4h0.55v0.55h-0.55zM412.9 61.1h0.8v0.8h-0.8zM427.3 49.3h0.55v0.55h-0.55zM425.6 65.9h0.55v0.55h-0.55zM412.6 48.9h0.55v0.55h-0.55zM433.6 53.5h0.8v0.8h-0.8zM425.4 61.9h0.55v0.55h-0.55zM413.7 53.4h0.8v0.8h-0.8zM428.3 57.4h0.8v0.8h-0.8zM415.4 56.4h0.55v0.55h-0.55zM423.1 60.7h0.8v0.8h-0.8zM432.6 57.0h0.8v0.8h-0.8zM418.2 54.5h0.55v0.55h-0.55zM395.1 57.9h0.8v0.8h-0.8zM397.7 55.3h0.8v0.8h-0.8zM402.9 51.0h0.8v0.8h-0.8zM396.4 48.2h0.8v0.8h-0.8zM404.7 56.5h0.8v0.8h-0.8zM420.1 52.6h0.8v0.8h-0.8zM402.1 63.0h0.8v0.8h-0.8zM411.1 73.9h0.55v0.55h-0.55zM411.4 76.0h0.8v0.8h-0.8zM407.1 76.0h0.55v0.55h-0.55zM408.5 76.7h0.55v0.55h-0.55zM407.6 74.6h0.55v0.55h-0.55zM425.4 85.8h0.8v0.8h-0.8zM409.7 77.6h0.8v0.8h-0.8zM435.9 77.6h0.55v0.55h-0.55zM424.5 83.7h0.8v0.8h-0.8zM418.7 79.5h0.8v0.8h-0.8zM438.5 87.0h0.55v0.55h-0.55zM461.9 117.0h0.55v0.55h-0.55zM460.3 116.6h0.8v0.8h-0.8zM460.0 117.3h0.8v0.8h-0.8zM462.0 118.3h0.8v0.8h-0.8zM464.7 118.4h0.55v0.55h-0.55zM459.0 115.2h0.55v0.55h-0.55zM460.6 119.4h0.55v0.55h-0.55zM460.1 119.4h0.55v0.55h-0.55zM438.3 114.5h0.55v0.55h-0.55zM437.8 138.9h0.55v0.55h-0.55zM447.5 119.0h0.55v0.55h-0.55zM439.4 130.0h0.8v0.8h-0.8zM438.5 138.5h0.8v0.8h-0.8zM506.1 84.9h0.55v0.55h-0.55zM507.3 89.3h0.55v0.55h-0.55zM512.7 87.2h0.55v0.55h-0.55zM512.7 87.9h0.55v0.55h-0.55zM508.6 88.9h0.55v0.55h-0.55zM509.7 89.9h0.8v0.8h-0.8zM513.6 88.4h0.55v0.55h-0.55zM509.5 89.8h0.55v0.55h-0.55zM542.6 103.3h0.8v0.8h-0.8zM541.5 98.6h0.8v0.8h-0.8zM532.7 123.5h0.55v0.55h-0.55zM535.0 121.4h0.55v0.55h-0.55zM507.5 62.1h0.8v0.8h-0.8zM506.3 60.5h0.8v0.8h-0.8zM514.3 60.6h0.55v0.55h-0.55zM515.4 61.2h0.55v0.55h-0.55zM507.0 61.3h0.8v0.8h-0.8zM577.2 54.1h0.55v0.55h-0.55zM574.0 53.6h0.55v0.55h-0.55zM571.1 53.9h0.55v0.55h-0.55zM566.4 55.2h0.55v0.55h-0.55zM648.7 130.4h0.55v0.55h-0.55z"/><path fill="#d6e2fb" d="M512.4 44.8h0.8v0.8h-0.8zM509.5 44.5h0.55v0.55h-0.55zM502.1 44.4h0.55v0.55h-0.55zM502.9 45.3h0.55v0.55h-0.55zM504.4 45.4h0.55v0.55h-0.55zM509.0 47.8h0.8v0.8h-0.8zM509.3 44.9h0.55v0.55h-0.55zM505.4 44.3h0.55v0.55h-0.55zM509.2 45.6h0.8v0.8h-0.8zM513.2 47.0h0.8v0.8h-0.8zM511.7 44.8h0.8v0.8h-0.8zM509.0 46.3h0.8v0.8h-0.8zM510.3 45.3h0.8v0.8h-0.8zM509.9 44.9h0.8v0.8h-0.8zM503.4 44.9h0.8v0.8h-0.8zM508.0 46.2h0.55v0.55h-0.55zM514.0 48.1h0.8v0.8h-0.8zM513.3 49.4h0.55v0.55h-0.55zM515.6 53.6h0.55v0.55h-0.55zM515.5 49.4h0.8v0.8h-0.8zM517.5 46.0h0.8v0.8h-0.8zM516.1 51.1h0.55v0.55h-0.55zM518.3 48.6h0.55v0.55h-0.55zM516.7 49.7h0.8v0.8h-0.8zM508.7 50.0h0.8v0.8h-0.8zM506.3 51.6h0.8v0.8h-0.8zM512.2 49.5h0.8v0.8h-0.8zM510.3 48.3h0.8v0.8h-0.8zM517.6 47.7h0.55v0.55h-0.55zM517.1 49.4h0.8v0.8h-0.8zM518.6 50.4h0.55v0.55h-0.55zM509.8 49.5h0.55v0.55h-0.55zM513.3 48.1h0.8v0.8h-0.8zM514.6 46.5h0.8v0.8h-0.8zM527.1 45.9h0.55v0.55h-0.55zM527.3 52.4h0.55v0.55h-0.55zM513.7 47.9h0.55v0.55h-0.55zM507.0 46.5h0.8v0.8h-0.8zM536.0 45.3h0.8v0.8h-0.8zM517.7 48.2h0.55v0.55h-0.55zM521.9 45.6h0.8v0.8h-0.8zM516.2 43.5h0.55v0.55h-0.55zM516.3 47.1h0.8v0.8h-0.8zM514.3 50.9h0.8v0.8h-0.8zM523.4 50.8h0.8v0.8h-0.8zM526.5 48.5h0.55v0.55h-0.55zM526.8 51.3h0.55v0.55h-0.55zM519.6 48.6h0.55v0.55h-0.55zM520.2 49.9h0.8v0.8h-0.8zM528.1 48.8h0.8v0.8h-0.8zM516.8 51.1h0.8v0.8h-0.8zM530.6 48.5h0.55v0.55h-0.55zM512.3 47.3h0.8v0.8h-0.8zM519.0 44.9h0.55v0.55h-0.55zM524.8 45.2h0.8v0.8h-0.8zM524.2 49.1h0.8v0.8h-0.8zM521.2 47.6h0.55v0.55h-0.55zM520.4 44.7h0.8v0.8h-0.8zM524.8 49.1h0.55v0.55h-0.55zM521.5 48.7h0.8v0.8h-0.8zM519.7 47.7h0.55v0.55h-0.55zM524.1 45.9h0.8v0.8h-0.8zM527.2 46.7h0.8v0.8h-0.8zM518.1 49.9h0.8v0.8h-0.8zM513.3 44.3h0.55v0.55h-0.55zM518.0 45.7h0.55v0.55h-0.55zM516.7 44.1h0.55v0.55h-0.55zM522.6 50.8h0.8v0.8h-0.8zM531.0 58.4h0.55v0.55h-0.55zM534.6 48.5h0.8v0.8h-0.8zM518.2 50.3h0.55v0.55h-0.55zM519.3 43.0h0.8v0.8h-0.8zM510.8 50.3h0.8v0.8h-0.8zM527.3 42.6h0.55v0.55h-0.55zM518.6 44.8h0.8v0.8h-0.8zM515.9 42.8h0.8v0.8h-0.8zM521.9 44.0h0.8v0.8h-0.8zM516.2 48.6h0.8v0.8h-0.8zM519.5 48.2h0.8v0.8h-0.8zM530.8 50.8h0.55v0.55h-0.55zM522.4 49.2h0.55v0.55h-0.55zM518.9 47.8h0.55v0.55h-0.55zM530.8 49.7h0.55v0.55h-0.55zM510.7 52.1h0.8v0.8h-0.8zM526.7 46.1h0.55v0.55h-0.55zM517.2 44.8h0.55v0.55h-0.55zM506.8 49.3h0.8v0.8h-0.8zM531.8 45.4h0.55v0.55h-0.55zM527.0 40.5h0.8v0.8h-0.8zM522.1 47.5h0.55v0.55h-0.55zM525.8 49.0h0.55v0.55h-0.55zM520.0 46.3h0.55v0.55h-0.55zM530.2 49.7h0.8v0.8h-0.8zM532.8 46.0h0.55v0.55h-0.55zM521.4 46.9h0.8v0.8h-0.8zM510.1 47.0h0.8v0.8h-0.8zM517.9 50.5h0.55v0.55h-0.55zM513.1 46.2h0.8v0.8h-0.8zM518.9 45.6h0.8v0.8h-0.8zM546.4 50.5h0.8v0.8h-0.8zM538.2 41.8h0.8v0.8h-0.8zM532.2 41.4h0.55v0.55h-0.55zM542.4 39.7h0.8v0.8h-0.8zM543.0 40.7h0.8v0.8h-0.8zM552.2 42.0h0.55v0.55h-0.55zM524.7 44.5h0.55v0.55h-0.55zM552.8 41.9h0.8v0.8h-0.8zM561.9 43.8h0.55v0.55h-0.55zM512.4 44.7h0.55v0.55h-0.55zM546.1 62.2h0.55v0.55h-0.55zM539.6 57.8h0.55v0.55h-0.55zM541.6 66.1h0.8v0.8h-0.8zM536.9 55.8h0.8v0.8h-0.8zM541.9 57.0h0.8v0.8h-0.8zM537.7 57.2h0.8v0.8h-0.8zM547.0 60.2h0.8v0.8h-0.8zM532.0 51.6h0.8v0.8h-0.8zM534.2 55.5h0.55v0.55h-0.55zM539.9 55.9h0.8v0.8h-0.8zM549.2 56.5h0.55v0.55h-0.55zM536.6 54.9h0.8v0.8h-0.8zM536.1 58.2h0.8v0.8h-0.8zM538.7 57.5h0.8v0.8h-0.8zM560.2 63.3h0.55v0.55h-0.55zM548.5 60.2h0.8v0.8h-0.8zM547.2 58.5h0.55v0.55h-0.55zM546.4 61.0h0.55v0.55h-0.55zM553.5 63.7h0.8v0.8h-0.8zM550.3 61.4h0.55v0.55h-0.55zM556.3 60.9h0.55v0.55h-0.55zM539.0 66.0h0.55v0.55h-0.55zM539.1 66.2h0.8v0.8h-0.8zM535.1 66.0h0.8v0.8h-0.8zM582.8 70.9h0.8v0.8h-0.8zM587.8 71.4h0.8v0.8h-0.8zM579.9 70.6h0.55v0.55h-0.55zM582.9 69.5h0.8v0.8h-0.8zM584.6 68.0h0.55v0.55h-0.55zM587.8 68.2h0.55v0.55h-0.55zM581.6 67.9h0.8v0.8h-0.8zM584.3 69.4h0.55v0.55h-0.55zM574.9 67.6h0.8v0.8h-0.8zM577.0 72.1h0.8v0.8h-0.8zM583.0 71.0h0.8v0.8h-0.8zM584.4 73.0h0.55v0.55h-0.55zM581.2 66.4h0.8v0.8h-0.8zM578.7 70.7h0.55v0.55h-0.55zM589.8 71.0h0.55v0.55h-0.55zM580.4 75.0h0.8v0.8h-0.8zM581.7 84.3h0.8v0.8h-0.8zM579.7 71.6h0.55v0.55h-0.55zM580.5 80.6h0.8v0.8h-0.8zM584.9 73.9h0.8v0.8h-0.8zM578.8 72.1h0.55v0.55h-0.55zM578.7 80.2h0.55v0.55h-0.55zM577.7 82.9h0.55v0.55h-0.55zM583.1 79.6h0.8v0.8h-0.8zM580.7 80.5h0.8v0.8h-0.8zM576.0 69.1h0.8v0.8h-0.8zM573.7 66.2h0.8v0.8h-0.8zM571.3 68.9h0.8v0.8h-0.8zM572.8 67.5h0.55v0.55h-0.55zM574.2 64.1h0.55v0.55h-0.55zM576.0 63.1h0.8v0.8h-0.8zM570.5 62.9h0.8v0.8h-0.8zM575.1 66.7h0.55v0.55h-0.55zM576.2 65.6h0.55v0.55h-0.55zM575.0 65.0h0.8v0.8h-0.8zM575.6 67.7h0.55v0.55h-0.55zM578.9 65.2h0.55v0.55h-0.55zM615.1 66.9h0.8v0.8h-0.8zM613.7 67.4h0.8v0.8h-0.8zM609.5 59.2h0.55v0.55h-0.55zM614.4 72.2h0.8v0.8h-0.8zM612.6 67.1h0.55v0.55h-0.55zM616.8 68.2h0.8v0.8h-0.8zM614.0 64.3h0.8v0.8h-0.8zM618.0 65.9h0.55v0.55h-0.55zM617.9 62.2h0.55v0.55h-0.55zM614.6 67.1h0.55v0.55h-0.55zM617.1 65.2h0.8v0.8h-0.8zM619.9 54.2h0.55v0.55h-0.55zM615.0 56.2h0.8v0.8h-0.8zM612.3 72.3h0.8v0.8h-0.8zM613.8 59.0h0.55v0.55h-0.55zM616.3 56.6h0.8v0.8h-0.8zM613.6 59.6h0.55v0.55h-0.55zM609.7 60.6h0.55v0.55h-0.55zM608.2 60.0h0.55v0.55h-0.55zM615.3 55.3h0.8v0.8h-0.8zM615.2 54.1h0.8v0.8h-0.8zM616.4 70.4h0.55v0.55h-0.55zM619.2 63.3h0.8v0.8h-0.8zM621.7 67.6h0.55v0.55h-0.55zM624.9 54.6h0.55v0.55h-0.55zM616.3 58.7h0.8v0.8h-0.8zM620.1 65.3h0.8v0.8h-0.8zM616.2 68.8h0.55v0.55h-0.55zM612.4 60.9h0.55v0.55h-0.55zM618.5 64.4h0.8v0.8h-0.8zM619.9 62.4h0.8v0.8h-0.8zM607.6 64.2h0.55v0.55h-0.55zM619.9 69.1h0.55v0.55h-0.55zM616.5 63.8h0.55v0.55h-0.55zM603.6 65.0h0.8v0.8h-0.8zM605.3 67.1h0.55v0.55h-0.55zM607.2 67.0h0.8v0.8h-0.8zM605.7 66.2h0.8v0.8h-0.8zM601.2 64.8h0.55v0.55h-0.55zM606.4 66.0h0.8v0.8h-0.8zM604.0 66.2h0.55v0.55h-0.55zM603.7 67.1h0.8v0.8h-0.8zM606.4 65.3h0.8v0.8h-0.8zM604.7 66.3h0.55v0.55h-0.55zM616.2 72.9h0.8v0.8h-0.8zM630.3 51.8h0.8v0.8h-0.8zM622.1 52.4h0.55v0.55h-0.55zM627.3 51.1h0.8v0.8h-0.8zM625.8 51.8h0.8v0.8h-0.8zM623.6 55.2h0.55v0.55h-0.55zM625.9 53.8h0.55v0.55h-0.55zM624.5 54.8h0.55v0.55h-0.55zM622.8 53.1h0.8v0.8h-0.8zM624.7 51.9h0.8v0.8h-0.8zM628.2 52.5h0.55v0.55h-0.55zM625.2 51.3h0.55v0.55h-0.55zM623.3 51.7h0.8v0.8h-0.8zM627.7 60.4h0.8v0.8h-0.8zM638.7 60.6h0.55v0.55h-0.55zM599.5 87.8h0.8v0.8h-0.8zM606.7 81.4h0.8v0.8h-0.8zM602.6 83.4h0.8v0.8h-0.8zM607.6 79.4h0.55v0.55h-0.55zM596.9 76.7h0.55v0.55h-0.55zM621.5 79.0h0.55v0.55h-0.55zM432.6 60.2h0.55v0.55h-0.55zM412.6 55.4h0.55v0.55h-0.55zM428.8 56.3h0.55v0.55h-0.55zM427.5 49.6h0.8v0.8h-0.8zM429.0 59.8h0.55v0.55h-0.55zM430.0 62.7h0.8v0.8h-0.8zM414.0 55.4h0.8v0.8h-0.8zM429.9 49.9h0.8v0.8h-0.8zM424.6 55.2h0.8v0.8h-0.8zM416.4 52.8h0.55v0.55h-0.55zM416.5 55.5h0.8v0.8h-0.8zM422.3 58.5h0.8v0.8h-0.8zM422.6 60.2h0.55v0.55h-0.55zM420.3 55.0h0.55v0.55h-0.55zM421.3 63.9h0.8v0.8h-0.8zM430.0 58.4h0.55v0.55h-0.55zM421.5 52.2h0.55v0.55h-0.55zM418.1 58.3h0.55v0.55h-0.55zM434.8 51.0h0.55v0.55h-0.55zM433.8 56.5h0.55v0.55h-0.55zM409.3 49.9h0.8v0.8h-0.8zM402.1 56.4h0.8v0.8h-0.8zM427.6 50.1h0.8v0.8h-0.8zM403.5 59.3h0.8v0.8h-0.8zM434.3 55.9h0.55v0.55h-0.55zM436.9 54.8h0.55v0.55h-0.55zM399.3 62.8h0.8v0.8h-0.8zM402.8 54.2h0.8v0.8h-0.8zM412.7 61.7h0.8v0.8h-0.8zM405.8 51.7h0.55v0.55h-0.55zM403.4 53.3h0.55v0.55h-0.55zM402.9 53.5h0.8v0.8h-0.8zM391.1 50.5h0.8v0.8h-0.8zM400.7 53.2h0.8v0.8h-0.8zM411.4 76.7h0.8v0.8h-0.8zM411.8 77.7h0.8v0.8h-0.8zM408.2 75.2h0.55v0.55h-0.55zM407.0 76.6h0.55v0.55h-0.55zM409.5 75.8h0.8v0.8h-0.8zM410.7 75.6h0.55v0.55h-0.55zM437.8 86.4h0.55v0.55h-0.55zM441.5 86.4h0.8v0.8h-0.8zM456.5 119.2h0.55v0.55h-0.55zM459.4 119.8h0.8v0.8h-0.8zM456.1 119.2h0.8v0.8h-0.8zM462.8 117.9h0.55v0.55h-0.55zM460.7 118.4h0.55v0.55h-0.55zM468.8 104.5h0.8v0.8h-0.8zM465.6 100.2h0.55v0.55h-0.55zM466.4 100.2h0.55v0.55h-0.55zM466.7 104.3h0.8v0.8h-0.8zM467.8 103.1h0.55v0.55h-0.55zM447.6 124.2h0.55v0.55h-0.55zM443.0 106.2h0.55v0.55h-0.55zM439.3 113.7h0.8v0.8h-0.8zM438.4 113.1h0.8v0.8h-0.8zM436.6 106.7h0.8v0.8h-0.8zM447.0 117.9h0.8v0.8h-0.8zM514.4 89.8h0.8v0.8h-0.8zM506.4 87.0h0.8v0.8h-0.8zM512.4 89.1h0.55v0.55h-0.55zM515.9 86.0h0.8v0.8h-0.8zM506.5 84.4h0.8v0.8h-0.8zM508.5 86.6h0.55v0.55h-0.55zM512.2 88.5h0.8v0.8h-0.8zM505.7 90.0h0.8v0.8h-0.8zM512.4 91.2h0.8v0.8h-0.8zM536.2 91.6h0.8v0.8h-0.8zM536.3 91.9h0.55v0.55h-0.55zM533.1 122.4h0.8v0.8h-0.8zM511.9 60.4h0.55v0.55h-0.55zM568.5 53.2h0.55v0.55h-0.55zM567.2 57.7h0.55v0.55h-0.55zM564.5 55.8h0.8v0.8h-0.8zM575.4 53.7h0.8v0.8h-0.8zM565.8 53.7h0.8v0.8h-0.8zM568.8 54.9h0.55v0.55h-0.55zM563.0 54.6h0.55v0.55h-0.55zM576.3 57.5h0.8v0.8h-0.8zM573.1 53.7h0.55v0.55h-0.55zM570.1 52.4h0.55v0.55h-0.55zM647.9 126.3h0.55v0.55h-0.55zM647.2 126.4h0.55v0.55h-0.55zM438.7 77.4h0.8v0.8h-0.8zM437.3 77.1h0.8v0.8h-0.8zM532.8 125.8h0.55v0.55h-0.55z"/><path fill="#eec830" d="M508.8 46.2h0.85v0.85h-0.85zM502.8 44.7h0.85v0.85h-0.85zM510.6 45.8h0.85v0.85h-0.85zM513.4 48.2h0.85v0.85h-0.85zM515.2 47.0h0.6v0.6h-0.6zM505.6 45.0h0.6v0.6h-0.6zM503.2 45.6h0.85v0.85h-0.85zM511.2 45.2h0.6v0.6h-0.6zM512.7 46.2h0.6v0.6h-0.6zM512.7 46.6h0.85v0.85h-0.85zM540.6 60.5h0.85v0.85h-0.85zM544.8 67.0h0.6v0.6h-0.6zM539.7 65.0h0.85v0.85h-0.85zM536.1 67.8h0.6v0.6h-0.6zM588.9 70.4h0.6v0.6h-0.6zM586.6 71.0h0.85v0.85h-0.85zM590.1 72.4h0.6v0.6h-0.6zM592.8 71.8h0.85v0.85h-0.85zM590.4 72.9h0.6v0.6h-0.6zM589.8 71.9h0.6v0.6h-0.6zM582.9 73.4h0.85v0.85h-0.85zM581.0 84.2h0.6v0.6h-0.6zM581.4 77.6h0.85v0.85h-0.85zM581.8 83.6h0.85v0.85h-0.85zM618.3 60.3h0.85v0.85h-0.85zM617.0 65.0h0.6v0.6h-0.6zM614.7 67.5h0.85v0.85h-0.85zM607.8 63.9h0.85v0.85h-0.85zM604.9 64.4h0.6v0.6h-0.6zM614.2 73.9h0.6v0.6h-0.6zM627.4 61.0h0.6v0.6h-0.6zM628.4 60.2h0.6v0.6h-0.6zM627.9 59.7h0.6v0.6h-0.6zM633.1 61.4h0.85v0.85h-0.85zM608.7 102.7h0.6v0.6h-0.6zM609.8 103.1h0.85v0.85h-0.85zM609.9 102.9h0.85v0.85h-0.85zM608.8 103.1h0.6v0.6h-0.6zM603.7 79.5h0.6v0.6h-0.6zM604.2 81.6h0.85v0.85h-0.85zM601.3 76.1h0.6v0.6h-0.6zM405.7 65.1h0.6v0.6h-0.6zM410.4 66.1h0.6v0.6h-0.6zM437.5 86.7h0.6v0.6h-0.6zM459.0 120.1h0.85v0.85h-0.85zM462.0 118.9h0.6v0.6h-0.6zM534.2 120.9h0.85v0.85h-0.85zM567.2 53.2h0.6v0.6h-0.6zM570.8 56.1h0.6v0.6h-0.6zM569.0 54.7h0.6v0.6h-0.6zM437.2 77.3h0.6v0.6h-0.6zM534.4 125.4h0.6v0.6h-0.6z"/><path fill="#f08020" d="M502.7 45.0h0.85v0.85h-0.85zM510.8 46.1h0.85v0.85h-0.85zM506.9 46.9h0.6v0.6h-0.6zM504.7 43.8h0.6v0.6h-0.6zM507.4 47.4h0.6v0.6h-0.6zM509.0 46.5h0.85v0.85h-0.85zM512.8 49.2h0.85v0.85h-0.85zM512.8 50.2h0.6v0.6h-0.6zM515.3 52.9h0.85v0.85h-0.85zM513.5 46.7h0.6v0.6h-0.6zM516.3 51.1h0.85v0.85h-0.85zM514.8 49.1h0.6v0.6h-0.6zM514.3 50.3h0.85v0.85h-0.85zM510.8 50.4h0.85v0.85h-0.85zM510.2 50.7h0.85v0.85h-0.85zM513.5 50.3h0.85v0.85h-0.85zM537.8 48.3h0.85v0.85h-0.85zM505.9 44.5h0.6v0.6h-0.6zM505.2 45.5h0.6v0.6h-0.6zM510.9 45.3h0.85v0.85h-0.85zM509.0 45.3h0.85v0.85h-0.85zM509.0 45.9h0.85v0.85h-0.85zM510.4 45.1h0.6v0.6h-0.6zM510.2 45.1h0.6v0.6h-0.6zM514.3 45.8h0.6v0.6h-0.6zM512.5 47.1h0.85v0.85h-0.85zM515.3 48.0h0.6v0.6h-0.6zM514.1 51.5h0.6v0.6h-0.6zM546.1 58.3h0.6v0.6h-0.6zM549.4 61.9h0.85v0.85h-0.85zM550.1 63.6h0.85v0.85h-0.85zM552.5 60.2h0.85v0.85h-0.85zM557.1 60.1h0.85v0.85h-0.85zM538.5 65.0h0.6v0.6h-0.6zM539.7 64.7h0.6v0.6h-0.6zM540.4 64.2h0.85v0.85h-0.85zM538.5 65.7h0.85v0.85h-0.85zM538.2 66.0h0.85v0.85h-0.85zM536.6 65.3h0.6v0.6h-0.6zM593.1 68.6h0.6v0.6h-0.6zM574.3 70.8h0.6v0.6h-0.6zM574.5 70.0h0.6v0.6h-0.6zM583.6 71.1h0.85v0.85h-0.85zM582.5 68.7h0.85v0.85h-0.85zM585.5 68.5h0.85v0.85h-0.85zM581.5 71.7h0.6v0.6h-0.6zM594.5 67.6h0.6v0.6h-0.6zM583.4 71.2h0.85v0.85h-0.85zM582.0 69.5h0.6v0.6h-0.6zM589.5 72.6h0.6v0.6h-0.6zM591.6 72.5h0.6v0.6h-0.6zM592.4 71.9h0.85v0.85h-0.85zM590.5 73.6h0.85v0.85h-0.85zM590.1 72.6h0.85v0.85h-0.85zM590.9 71.7h0.85v0.85h-0.85zM592.3 72.0h0.85v0.85h-0.85zM591.2 72.6h0.85v0.85h-0.85zM579.6 75.0h0.6v0.6h-0.6zM578.5 81.8h0.85v0.85h-0.85zM581.0 74.6h0.6v0.6h-0.6zM579.4 87.2h0.6v0.6h-0.6zM578.7 79.2h0.85v0.85h-0.85zM610.5 64.6h0.85v0.85h-0.85zM616.0 69.7h0.6v0.6h-0.6zM611.8 62.7h0.85v0.85h-0.85zM613.4 62.8h0.85v0.85h-0.85zM610.5 58.7h0.6v0.6h-0.6zM611.3 62.9h0.6v0.6h-0.6zM611.3 67.7h0.85v0.85h-0.85zM613.1 64.7h0.85v0.85h-0.85zM621.8 57.3h0.6v0.6h-0.6zM604.3 67.8h0.85v0.85h-0.85zM608.6 65.7h0.6v0.6h-0.6zM609.8 73.6h0.6v0.6h-0.6zM615.7 73.3h0.6v0.6h-0.6zM611.7 74.4h0.85v0.85h-0.85zM626.7 53.0h0.6v0.6h-0.6zM625.6 57.0h0.85v0.85h-0.85zM627.2 58.7h0.85v0.85h-0.85zM627.2 60.5h0.85v0.85h-0.85zM626.5 58.8h0.85v0.85h-0.85zM634.1 61.4h0.6v0.6h-0.6zM632.2 62.0h0.6v0.6h-0.6zM634.2 61.5h0.85v0.85h-0.85zM634.3 61.6h0.6v0.6h-0.6zM633.4 62.3h0.85v0.85h-0.85zM633.3 61.4h0.6v0.6h-0.6zM636.0 61.5h0.6v0.6h-0.6zM638.4 61.1h0.6v0.6h-0.6zM636.0 61.6h0.6v0.6h-0.6zM635.0 61.7h0.6v0.6h-0.6zM610.2 103.7h0.6v0.6h-0.6zM609.5 103.0h0.85v0.85h-0.85zM612.8 103.3h0.85v0.85h-0.85zM608.7 102.9h0.6v0.6h-0.6zM608.1 81.5h0.85v0.85h-0.85zM599.9 83.1h0.6v0.6h-0.6zM429.8 56.8h0.6v0.6h-0.6zM434.2 55.3h0.6v0.6h-0.6zM433.1 55.9h0.85v0.85h-0.85zM434.5 55.7h0.85v0.85h-0.85zM434.1 55.4h0.85v0.85h-0.85zM432.1 55.1h0.6v0.6h-0.6zM433.9 56.3h0.85v0.85h-0.85zM391.4 58.5h0.85v0.85h-0.85zM392.6 59.1h0.85v0.85h-0.85zM413.6 58.3h0.6v0.6h-0.6zM410.4 77.6h0.6v0.6h-0.6zM435.9 86.1h0.85v0.85h-0.85zM432.7 87.4h0.6v0.6h-0.6zM460.3 119.2h0.6v0.6h-0.6zM463.6 115.4h0.6v0.6h-0.6zM461.3 119.6h0.6v0.6h-0.6zM460.5 116.1h0.6v0.6h-0.6zM460.5 118.8h0.6v0.6h-0.6zM457.9 118.4h0.6v0.6h-0.6zM526.6 89.1h0.85v0.85h-0.85zM533.6 122.9h0.85v0.85h-0.85zM531.3 121.9h0.6v0.6h-0.6zM531.2 123.3h0.85v0.85h-0.85zM512.8 60.9h0.6v0.6h-0.6zM574.2 56.2h0.6v0.6h-0.6zM436.2 78.1h0.6v0.6h-0.6z"/><path fill="#f0a228" d="M509.0 45.7h0.6v0.6h-0.6zM509.5 45.7h0.85v0.85h-0.85zM511.2 46.4h0.6v0.6h-0.6zM514.3 47.3h0.85v0.85h-0.85zM506.2 44.7h0.6v0.6h-0.6zM503.4 44.8h0.85v0.85h-0.85zM512.1 46.0h0.85v0.85h-0.85zM514.4 51.3h0.85v0.85h-0.85zM547.6 56.4h0.6v0.6h-0.6zM537.0 55.2h0.85v0.85h-0.85zM525.2 55.0h0.6v0.6h-0.6zM545.7 59.3h0.6v0.6h-0.6zM537.7 66.3h0.85v0.85h-0.85zM538.3 65.2h0.6v0.6h-0.6zM579.5 72.4h0.85v0.85h-0.85zM579.1 72.3h0.85v0.85h-0.85zM579.7 70.8h0.85v0.85h-0.85zM591.4 73.8h0.85v0.85h-0.85zM591.2 72.1h0.6v0.6h-0.6zM591.9 71.9h0.85v0.85h-0.85zM578.3 86.4h0.6v0.6h-0.6zM578.6 73.7h0.85v0.85h-0.85zM574.6 63.1h0.6v0.6h-0.6zM572.6 62.3h0.85v0.85h-0.85zM575.6 68.2h0.85v0.85h-0.85zM613.1 58.7h0.6v0.6h-0.6zM614.3 62.4h0.6v0.6h-0.6zM618.8 65.3h0.85v0.85h-0.85zM619.8 64.8h0.6v0.6h-0.6zM619.6 66.3h0.6v0.6h-0.6zM606.2 63.2h0.85v0.85h-0.85zM603.6 66.2h0.6v0.6h-0.6zM607.4 71.5h0.85v0.85h-0.85zM612.3 74.0h0.85v0.85h-0.85zM622.2 53.9h0.85v0.85h-0.85zM624.9 51.7h0.6v0.6h-0.6zM628.6 60.6h0.6v0.6h-0.6zM627.5 61.1h0.6v0.6h-0.6zM634.9 61.5h0.6v0.6h-0.6zM632.6 61.4h0.85v0.85h-0.85zM635.2 60.9h0.85v0.85h-0.85zM608.6 103.4h0.85v0.85h-0.85zM434.0 53.8h0.6v0.6h-0.6zM433.0 85.7h0.6v0.6h-0.6zM469.7 101.4h0.6v0.6h-0.6z"/><path fill="#fc2010" d="M509.9 47.8h0.6v0.6h-0.6zM504.9 44.9h0.85v0.85h-0.85zM502.2 46.2h0.6v0.6h-0.6zM504.7 47.5h0.6v0.6h-0.6zM505.0 47.2h0.6v0.6h-0.6zM511.8 44.5h0.85v0.85h-0.85zM509.9 47.7h0.6v0.6h-0.6zM501.3 44.9h0.6v0.6h-0.6zM503.0 45.4h0.6v0.6h-0.6zM514.0 44.5h0.85v0.85h-0.85zM508.6 45.9h0.85v0.85h-0.85zM507.1 46.0h0.6v0.6h-0.6zM506.4 44.2h0.85v0.85h-0.85zM502.9 42.2h0.85v0.85h-0.85zM506.6 44.4h0.6v0.6h-0.6zM504.7 44.9h0.6v0.6h-0.6zM506.1 47.9h0.85v0.85h-0.85zM517.0 50.6h0.6v0.6h-0.6zM517.7 44.2h0.6v0.6h-0.6zM511.0 52.0h0.85v0.85h-0.85zM516.1 47.3h0.85v0.85h-0.85zM510.6 51.7h0.85v0.85h-0.85zM515.3 45.4h0.85v0.85h-0.85zM518.5 47.3h0.6v0.6h-0.6zM511.2 49.9h0.85v0.85h-0.85zM518.2 49.5h0.6v0.6h-0.6zM516.4 51.1h0.6v0.6h-0.6zM522.7 47.4h0.85v0.85h-0.85zM522.3 47.9h0.6v0.6h-0.6zM518.6 46.1h0.85v0.85h-0.85zM514.9 45.6h0.85v0.85h-0.85zM527.1 45.8h0.85v0.85h-0.85zM535.9 41.2h0.85v0.85h-0.85zM504.8 44.9h0.85v0.85h-0.85zM503.8 44.8h0.85v0.85h-0.85zM504.3 44.1h0.85v0.85h-0.85zM506.0 45.4h0.6v0.6h-0.6zM508.5 45.6h0.85v0.85h-0.85zM510.2 45.2h0.6v0.6h-0.6zM509.0 45.1h0.85v0.85h-0.85zM508.9 45.7h0.6v0.6h-0.6zM507.9 45.6h0.6v0.6h-0.6zM510.2 45.0h0.6v0.6h-0.6zM510.8 46.5h0.6v0.6h-0.6zM514.2 46.5h0.6v0.6h-0.6zM512.6 46.3h0.85v0.85h-0.85zM513.0 46.4h0.85v0.85h-0.85zM511.2 45.0h0.85v0.85h-0.85zM512.1 46.6h0.85v0.85h-0.85zM513.8 50.5h0.6v0.6h-0.6zM514.7 51.1h0.85v0.85h-0.85zM514.3 51.4h0.85v0.85h-0.85zM535.3 58.2h0.6v0.6h-0.6zM527.4 59.4h0.85v0.85h-0.85zM539.4 54.9h0.85v0.85h-0.85zM541.8 58.2h0.6v0.6h-0.6zM538.2 56.3h0.85v0.85h-0.85zM545.3 59.8h0.85v0.85h-0.85zM556.0 62.1h0.85v0.85h-0.85zM555.8 61.5h0.6v0.6h-0.6zM541.3 62.9h0.6v0.6h-0.6zM534.5 65.7h0.85v0.85h-0.85zM536.2 66.3h0.85v0.85h-0.85zM538.8 66.3h0.6v0.6h-0.6zM540.3 66.0h0.85v0.85h-0.85zM534.8 65.6h0.6v0.6h-0.6zM538.0 65.3h0.6v0.6h-0.6zM540.4 65.3h0.6v0.6h-0.6zM538.7 66.4h0.6v0.6h-0.6zM538.8 66.1h0.85v0.85h-0.85zM580.6 69.4h0.6v0.6h-0.6zM591.1 73.0h0.6v0.6h-0.6zM580.2 70.1h0.85v0.85h-0.85zM584.8 70.0h0.85v0.85h-0.85zM572.3 72.2h0.85v0.85h-0.85zM593.8 68.4h0.85v0.85h-0.85zM587.0 70.2h0.6v0.6h-0.6zM591.4 69.7h0.6v0.6h-0.6zM568.9 66.6h0.6v0.6h-0.6zM584.2 71.3h0.6v0.6h-0.6zM582.8 71.7h0.85v0.85h-0.85zM586.1 73.4h0.85v0.85h-0.85zM590.7 68.2h0.6v0.6h-0.6zM585.5 69.5h0.85v0.85h-0.85zM584.3 69.3h0.6v0.6h-0.6zM586.9 71.1h0.85v0.85h-0.85zM591.0 69.7h0.85v0.85h-0.85zM587.7 69.8h0.85v0.85h-0.85zM585.1 68.3h0.6v0.6h-0.6zM590.3 72.3h0.85v0.85h-0.85zM591.9 71.6h0.85v0.85h-0.85zM592.8 72.4h0.6v0.6h-0.6zM592.3 71.7h0.6v0.6h-0.6zM591.1 72.2h0.6v0.6h-0.6zM591.7 73.0h0.85v0.85h-0.85zM592.0 73.3h0.85v0.85h-0.85zM591.6 72.0h0.85v0.85h-0.85zM592.5 72.5h0.85v0.85h-0.85zM592.8 73.4h0.85v0.85h-0.85zM592.2 73.7h0.6v0.6h-0.6zM592.8 72.8h0.6v0.6h-0.6zM591.7 69.8h0.85v0.85h-0.85zM591.3 73.3h0.85v0.85h-0.85zM581.7 82.2h0.6v0.6h-0.6zM581.2 77.5h0.6v0.6h-0.6zM579.2 82.3h0.6v0.6h-0.6zM580.7 82.5h0.6v0.6h-0.6zM581.6 72.3h0.85v0.85h-0.85zM576.2 79.2h0.85v0.85h-0.85zM573.6 63.4h0.6v0.6h-0.6zM574.6 62.1h0.85v0.85h-0.85zM575.7 68.6h0.85v0.85h-0.85zM571.9 64.3h0.6v0.6h-0.6zM616.2 61.6h0.85v0.85h-0.85zM616.5 63.2h0.85v0.85h-0.85zM615.8 62.4h0.6v0.6h-0.6zM616.2 68.1h0.6v0.6h-0.6zM614.3 62.9h0.6v0.6h-0.6zM614.1 49.5h0.85v0.85h-0.85zM615.4 62.1h0.85v0.85h-0.85zM614.9 63.9h0.6v0.6h-0.6zM620.3 63.4h0.6v0.6h-0.6zM625.1 54.2h0.85v0.85h-0.85zM606.5 65.7h0.6v0.6h-0.6zM610.5 66.5h0.6v0.6h-0.6zM606.6 64.2h0.6v0.6h-0.6zM609.3 67.3h0.85v0.85h-0.85zM621.1 73.5h0.85v0.85h-0.85zM615.9 73.0h0.85v0.85h-0.85zM612.3 72.6h0.6v0.6h-0.6zM616.8 73.1h0.6v0.6h-0.6zM614.4 71.9h0.85v0.85h-0.85zM609.6 73.8h0.6v0.6h-0.6zM613.4 72.6h0.85v0.85h-0.85zM618.0 50.8h0.6v0.6h-0.6zM626.8 59.3h0.85v0.85h-0.85zM626.7 59.6h0.6v0.6h-0.6zM632.5 61.3h0.6v0.6h-0.6zM634.1 61.6h0.6v0.6h-0.6zM637.4 61.0h0.85v0.85h-0.85zM638.3 60.7h0.6v0.6h-0.6zM637.4 59.8h0.6v0.6h-0.6zM632.5 61.9h0.6v0.6h-0.6zM636.1 60.6h0.6v0.6h-0.6zM632.3 61.4h0.85v0.85h-0.85zM632.9 61.3h0.85v0.85h-0.85zM607.9 103.2h0.6v0.6h-0.6zM608.3 102.7h0.6v0.6h-0.6zM613.4 103.1h0.85v0.85h-0.85zM612.0 102.7h0.6v0.6h-0.6zM609.9 103.6h0.85v0.85h-0.85zM612.9 103.0h0.6v0.6h-0.6zM608.9 103.5h0.85v0.85h-0.85zM609.1 102.7h0.85v0.85h-0.85zM609.8 103.5h0.6v0.6h-0.6zM612.1 103.0h0.85v0.85h-0.85zM608.9 102.6h0.85v0.85h-0.85zM604.1 77.3h0.85v0.85h-0.85zM408.8 61.4h0.85v0.85h-0.85zM433.5 56.0h0.6v0.6h-0.6zM432.8 54.4h0.6v0.6h-0.6zM433.1 55.9h0.6v0.6h-0.6zM433.2 56.6h0.85v0.85h-0.85zM432.5 57.0h0.6v0.6h-0.6zM434.6 55.3h0.6v0.6h-0.6zM434.2 56.3h0.85v0.85h-0.85zM430.7 56.8h0.6v0.6h-0.6zM434.3 53.7h0.6v0.6h-0.6zM433.7 55.4h0.85v0.85h-0.85zM433.8 55.8h0.6v0.6h-0.6zM389.2 56.3h0.6v0.6h-0.6zM392.4 59.7h0.6v0.6h-0.6zM391.6 62.3h0.6v0.6h-0.6zM396.8 57.1h0.85v0.85h-0.85zM406.0 77.4h0.6v0.6h-0.6zM409.9 76.1h0.6v0.6h-0.6zM409.8 73.9h0.6v0.6h-0.6zM410.6 77.4h0.85v0.85h-0.85zM412.2 76.9h0.6v0.6h-0.6zM437.6 89.5h0.85v0.85h-0.85zM442.5 86.4h0.85v0.85h-0.85zM461.4 118.0h0.6v0.6h-0.6zM459.0 117.5h0.6v0.6h-0.6zM463.0 113.8h0.6v0.6h-0.6zM457.5 119.5h0.85v0.85h-0.85zM459.5 119.1h0.6v0.6h-0.6zM458.6 119.9h0.85v0.85h-0.85zM462.3 116.4h0.85v0.85h-0.85zM466.7 103.8h0.6v0.6h-0.6zM441.3 123.2h0.85v0.85h-0.85zM443.7 133.8h0.6v0.6h-0.6zM446.7 131.4h0.6v0.6h-0.6zM509.8 89.9h0.6v0.6h-0.6zM503.3 87.8h0.6v0.6h-0.6zM511.4 90.8h0.85v0.85h-0.85zM510.9 91.4h0.85v0.85h-0.85zM541.0 95.6h0.6v0.6h-0.6zM531.7 120.7h0.85v0.85h-0.85zM534.2 120.0h0.85v0.85h-0.85zM512.7 60.5h0.6v0.6h-0.6zM580.3 52.9h0.85v0.85h-0.85zM576.3 54.6h0.85v0.85h-0.85zM438.4 77.3h0.6v0.6h-0.6zM535.0 125.4h0.6v0.6h-0.6z"/></g>
<path d="M426.8 43.8L428.3 43.7L427.3 43.5L426.8 43.8M346.0 42.8L344.7 43.3L343.8 43.7L345.0 43.1L346.0 42.8M342.6 43.9L341.2 44.3L342.1 44.0L342.6 43.9M339.7 44.4L338.0 44.6L339.0 44.3L339.7 44.4M336.9 44.8L335.2 45.0L336.1 44.7L336.9 44.8M670.3 43.7L671.6 43.9L670.8 44.1L670.3 43.7M674.9 44.7L676.5 45.2L675.6 44.8L674.9 44.7M344.5 31.4L345.7 28.6L349.3 27.9L350.8 26.6L355.5 25.7L359.8 26.1L363.7 26.6L368.5 26.9L370.4 27.3L374.2 27.9L377.1 27.4L380.9 26.8L382.8 26.4L385.7 26.9L386.6 27.5L390.5 27.4L393.3 27.9L395.2 28.9L397.2 29.1L400.0 28.9L401.9 29.4L401.9 28.4L404.8 28.4L407.7 29.1L411.5 28.9L413.4 28.6L413.9 27.4L412.9 25.5L414.9 25.0L416.8 25.9L417.2 27.4L418.7 28.4L421.1 28.4L421.6 29.4L423.5 27.9L426.8 27.2L427.3 28.4L426.8 29.9L424.9 30.6L423.0 30.4L422.5 31.4L421.1 32.4L419.2 32.9L417.2 34.0L415.3 35.3L414.9 36.8L414.7 38.0L416.3 38.1L416.8 39.8L419.2 39.8L422.0 40.7L423.9 41.4L426.5 41.6L426.8 43.7L427.8 44.7L428.7 45.4L429.7 45.2L429.7 42.7L429.2 41.7L431.1 40.7L432.1 39.8L431.1 38.3L430.2 37.8L431.1 36.3L430.6 34.5L433.5 34.5L435.4 34.8L436.9 35.6L438.3 35.8L438.8 37.8L440.2 38.3L442.1 37.8L443.1 36.5L444.0 37.3L446.0 38.8L446.4 40.3L447.9 41.4L449.8 41.9L450.7 42.7L451.7 44.2L451.7 45.2L449.3 45.5L447.9 46.4L445.0 46.4L441.6 46.5L439.7 47.7L438.3 49.1L439.3 48.6L442.1 47.5L443.8 47.8L443.1 48.6L443.4 49.6L444.0 50.4L446.0 50.8L446.9 51.3L447.9 50.4L447.6 49.6L446.6 50.7L446.9 51.3L444.5 52.0L442.6 53.1L441.9 52.6L443.6 51.3L441.2 51.6L439.3 52.6L437.8 53.3L437.5 54.1L438.3 54.8L436.9 55.2L434.5 55.9L434.5 57.0L433.2 58.0L432.6 59.5L432.8 61.0L431.6 62.0L429.7 63.1L427.8 64.4L427.5 65.9L428.3 68.1L428.7 69.9L428.3 71.1L427.6 71.1L427.0 70.1L426.1 68.6L426.1 67.4L424.9 66.4L423.5 66.7L422.0 66.0L420.1 66.1L419.6 67.2L418.2 67.1L415.8 66.7L414.4 67.1L412.5 68.4L412.1 70.3L411.7 73.3L412.0 74.8L412.9 76.8L413.9 77.5L415.3 78.0L417.2 77.6L418.2 77.3L418.7 75.8L419.2 75.2L421.1 74.8L422.0 75.0L421.6 76.8L421.1 78.2L420.6 79.7L420.3 80.4L422.0 80.4L423.9 80.3L425.6 81.2L425.4 83.7L425.2 85.1L426.3 86.8L427.8 87.3L429.0 86.7L430.6 86.8L431.3 87.6L431.8 88.1L433.0 85.6L433.7 85.1L435.4 84.7L436.9 83.8L436.9 85.1L436.6 86.6L437.3 86.1L438.3 84.7L438.5 84.0L439.9 85.3L442.1 85.5L443.6 85.9L446.0 85.4L446.4 86.3L447.4 87.6L448.8 88.1L450.3 89.8L452.7 90.2L455.0 90.9L456.0 91.8L457.0 94.0L457.4 95.5L458.9 96.5L459.3 97.3L462.2 97.5L463.2 98.7L465.6 98.9L467.5 99.0L469.4 100.4L471.5 101.1L472.0 103.4L471.6 105.2L469.9 106.9L468.4 108.8L468.0 111.3L468.0 113.6L467.0 115.7L466.0 117.7L465.1 118.7L462.7 118.9L460.8 119.9L459.1 121.5L458.7 123.6L457.4 125.1L455.5 127.6L454.1 129.5L452.7 130.4L450.7 130.0L449.5 129.5L450.5 131.7L450.3 133.5L448.8 134.3L446.0 134.5L445.7 136.3L443.1 136.5L443.1 137.9L444.3 137.9L442.9 138.9L442.6 140.4L440.7 141.4L442.1 142.9L440.7 144.8L439.3 145.8L439.7 147.6L437.8 148.0L437.3 149.1L434.9 147.8L433.5 146.3L433.0 143.9L434.0 142.2L433.0 141.9L434.9 139.4L435.4 137.4L434.5 136.5L434.9 135.0L434.9 132.7L435.9 131.0L436.9 128.6L436.9 125.6L437.3 123.1L437.8 120.7L438.0 116.7L438.0 114.1L436.4 112.8L433.5 111.3L432.3 109.6L431.4 107.8L430.2 105.4L428.9 102.9L427.8 101.9L427.5 100.4L428.4 99.4L428.7 98.5L427.8 98.2L428.3 96.5L428.7 95.2L429.9 94.5L430.2 93.5L431.3 92.3L431.1 90.1L431.3 89.1L430.6 88.6L430.4 87.8L429.2 87.1L428.4 87.8L428.5 88.7L427.8 88.8L427.1 88.1L425.9 87.8L425.2 87.6L425.2 86.8L423.9 86.1L423.2 85.6L423.2 84.9L422.0 83.7L421.6 83.0L420.1 82.8L418.2 82.2L416.8 81.4L415.3 80.2L414.4 80.0L412.9 80.5L411.0 79.9L409.6 79.3L407.7 78.2L406.1 77.5L404.3 76.3L404.5 74.8L403.9 73.3L401.9 71.3L400.7 69.9L399.5 68.9L398.1 67.4L397.2 65.4L395.5 64.7L395.5 66.4L397.2 68.4L398.6 70.3L399.5 71.8L400.5 73.1L399.7 73.3L398.1 71.5L397.8 70.3L396.2 69.4L395.2 68.4L395.9 67.9L394.3 65.9L393.3 63.9L391.9 62.5L390.0 62.0L388.7 60.0L388.1 58.7L386.8 57.0L386.3 56.0L386.4 53.6L386.6 50.6L386.0 48.2L387.6 48.6L387.6 47.7L386.2 46.7L383.8 45.7L382.8 44.2L380.9 42.4L379.9 41.2L378.0 39.8L377.1 38.6L374.7 38.5L373.2 37.8L371.3 37.0L368.5 36.8L365.6 36.0L363.7 36.0L362.2 37.1L360.3 37.5L360.8 36.0L361.8 35.6L359.8 36.3L358.4 37.5L357.4 38.3L355.5 39.5L353.6 40.7L351.2 41.5L348.8 42.0L347.6 42.1L349.3 41.2L351.7 40.7L353.6 39.3L354.6 38.1L353.1 38.2L351.2 38.1L350.3 37.3L348.8 37.0L347.4 36.0L346.9 35.0L347.6 34.1L348.4 33.6L350.8 33.3L351.2 32.4L349.3 32.4L346.9 32.4L346.0 31.7L344.5 31.4M411.5 19.2L414.4 19.1L413.9 18.3L412.0 18.4L411.5 19.2M594.1 82.7L594.3 84.2L593.9 84.6L594.0 83.4L594.1 82.7M443.7 46.9L446.0 47.5L446.1 47.3L443.7 46.9M641.6 106.6L642.6 108.3L642.7 110.1L644.3 110.8L644.5 112.3L645.2 114.5L646.4 115.1L647.8 116.2L648.3 117.7L649.6 118.3L649.8 119.5L651.5 120.7L651.9 122.1L652.2 124.1L651.7 126.1L651.2 127.8L650.0 129.3L649.3 131.0L648.8 132.7L647.8 133.3L646.4 133.5L645.3 134.6L644.0 133.8L642.6 134.3L640.7 133.9L639.2 133.0L638.7 131.5L637.8 131.0L637.6 129.8L637.3 128.6L636.8 129.5L635.4 130.3L634.9 130.2L633.7 128.6L632.1 127.6L630.6 127.1L628.7 127.3L625.8 127.9L623.9 128.6L623.4 129.4L621.0 129.4L619.6 129.9L618.2 130.5L616.7 130.5L615.4 129.8L616.0 128.1L615.8 126.6L615.2 124.6L614.4 123.1L613.7 121.7L614.2 120.2L613.9 119.2L614.2 117.7L614.8 117.5L616.7 116.4L618.7 116.0L620.1 115.6L621.5 114.7L622.3 113.3L623.4 113.1L623.4 112.1L624.9 111.3L625.8 110.0L627.3 109.8L628.0 110.8L629.2 110.7L629.7 109.3L630.4 108.2L631.6 108.0L632.1 107.2L633.0 107.6L634.4 108.0L636.2 108.0L635.4 109.1L634.9 110.6L635.9 111.6L637.3 112.5L638.7 113.4L640.0 113.3L640.7 111.3L640.7 109.3L641.0 108.1L641.6 106.6M422.0 18.7L419.2 18.8L415.3 17.8L414.4 16.6L417.2 15.9L419.2 16.8L422.0 17.6L422.0 18.7M443.1 35.0L439.7 34.5L436.4 34.0L434.5 32.6L431.1 32.6L430.6 31.9L434.5 31.4L434.9 30.4L435.9 29.4L434.0 28.6L431.6 27.4L429.7 26.9L426.8 26.9L423.9 26.9L421.1 26.4L419.6 25.5L419.2 24.0L421.1 23.2L423.9 23.2L426.8 23.3L428.7 24.5L430.6 24.0L433.5 24.5L436.4 25.5L439.3 26.4L441.2 27.4L442.6 28.9L445.0 29.9L446.4 30.4L445.0 31.4L443.1 31.1L440.7 31.4L443.1 32.4L444.5 32.1L443.6 33.5L441.6 33.8L443.1 35.0M430.4 69.8L431.4 69.9L430.8 71.1L430.5 71.3L430.4 69.8M614.8 104.0L616.0 104.2L615.5 104.7L614.8 104.0M606.0 97.6L607.4 98.5L606.9 99.0L606.0 97.6M385.7 25.0L387.6 25.7L390.0 25.5L392.4 24.3L394.8 23.5L392.9 22.7L389.5 22.5L386.2 23.0L385.7 25.0M406.7 21.8L410.6 22.0L412.0 21.2L410.6 20.3L407.7 20.5L406.7 21.8M601.0 18.7L603.8 19.0L605.7 18.5L603.8 17.9L601.0 18.7M397.2 18.6L400.0 18.5L399.5 18.1L397.2 18.2L397.2 18.6M609.6 94.5L610.2 94.0L611.8 93.5L613.4 92.8L614.4 91.6L615.8 90.6L617.0 89.1L617.9 89.9L619.1 90.8L618.4 91.6L617.9 92.5L618.2 93.8L619.1 95.0L617.9 95.3L617.7 96.8L616.7 97.5L616.6 99.3L616.3 99.9L614.9 100.0L613.9 99.3L612.2 99.5L610.7 98.9L610.5 97.5L609.8 96.5L609.6 94.5M653.2 101.4L654.3 102.4L653.8 102.7L653.2 101.4M625.8 99.2L627.0 99.3L626.6 99.7L625.8 99.6L625.8 99.2M427.8 23.8L431.1 24.2L432.1 23.5L429.2 23.3L427.8 23.8M489.2 68.0L489.9 67.9L489.5 68.4L489.2 68.0M490.2 68.3L490.5 68.3L490.4 68.6L490.2 68.3M482.5 80.9L482.9 81.0L482.8 81.3L482.5 80.9M552.2 50.1L554.1 49.8L556.0 50.1L556.2 51.3L554.3 52.1L553.4 52.3L554.1 53.4L555.5 53.9L555.7 55.3L556.8 55.6L556.0 56.5L556.3 57.5L556.9 59.2L555.0 59.8L553.6 59.3L552.2 58.9L552.1 58.0L552.6 56.1L551.7 54.8L550.7 53.6L550.2 52.3L550.0 51.8L550.7 51.0L552.2 50.1M434.3 137.3L434.9 137.7L434.8 138.8L434.1 138.6L434.3 137.3M425.9 34.5L427.8 34.1L428.7 34.3L426.8 34.8L425.9 34.5M546.6 107.3L546.9 107.5L546.7 107.7L546.6 107.3M412.9 22.2L415.8 22.3L415.8 21.5L413.4 21.4L412.9 22.2M513.5 54.1L514.3 53.6L514.4 54.7L513.7 55.1L513.5 54.1M527.8 61.0L530.4 61.3L529.0 61.6L527.8 61.3L527.8 61.0M424.0 74.4L425.9 73.3L427.8 73.2L429.7 73.9L431.6 74.8L433.0 75.6L434.3 76.1L433.5 76.4L431.1 76.4L430.6 75.6L428.7 74.6L426.8 74.0L425.4 74.1L424.0 74.4M536.2 61.5L538.3 60.9L537.5 61.6L536.6 61.8L536.2 61.5M428.3 21.5L426.8 22.5L421.1 22.5L417.2 22.2L417.2 20.7L421.1 20.5L424.9 20.7L428.3 21.5M404.8 18.8L409.6 19.2L411.0 18.3L407.7 17.8L404.8 18.3L404.8 18.8M428.7 20.7L430.6 20.2L432.6 19.0L433.5 18.1L437.3 17.6L441.2 16.1L446.0 14.8L440.2 14.1L430.6 14.0L423.0 14.8L418.2 15.6L421.1 16.6L423.0 18.1L421.1 19.2L423.9 19.7L428.7 20.7M530.0 25.8L532.1 25.9L534.9 26.6L533.0 27.1L536.8 27.5L539.7 27.9L543.5 29.1L544.7 30.1L543.5 30.7L541.6 30.8L537.8 30.2L536.8 30.4L538.8 31.9L538.6 32.5L540.7 33.0L541.6 32.1L544.0 32.3L543.5 31.1L545.5 30.4L547.4 30.7L547.6 29.4L546.9 28.3L549.3 28.7L549.8 29.9L551.2 29.2L556.0 28.6L556.9 28.7L559.8 28.3L562.7 28.2L563.6 27.1L567.0 27.6L569.4 28.1L570.6 28.6L569.4 27.3L569.4 25.9L570.8 24.5L572.3 24.0L574.9 24.2L574.8 25.9L574.2 27.9L575.6 28.9L574.6 30.3L576.1 29.9L575.8 28.4L576.6 26.4L576.1 24.7L577.5 24.8L579.9 24.8L578.9 25.9L581.8 26.4L584.7 26.7L583.7 25.3L582.3 23.5L587.6 23.0L588.5 22.0L592.3 21.3L596.2 20.9L600.0 20.7L601.9 20.0L605.1 19.3L606.7 19.7L608.6 20.3L612.4 20.5L613.9 21.2L612.4 22.5L609.6 23.0L608.6 23.7L610.5 23.2L613.4 23.3L615.3 23.4L619.1 24.0L623.4 23.4L626.8 23.6L628.7 24.5L629.2 25.9L630.6 26.1L632.5 25.5L635.4 25.5L638.3 25.5L639.2 24.5L642.1 24.4L645.9 24.7L648.8 25.3L650.7 25.9L654.5 25.9L657.4 26.2L658.4 27.3L660.3 27.3L663.1 27.4L666.0 27.1L668.4 26.9L667.9 27.9L670.8 27.1L673.7 27.1L676.5 27.9L677.5 28.1M333.0 28.1L335.9 28.7L338.8 29.9L341.2 30.0L342.8 30.8L341.7 31.4L340.2 32.5L337.8 32.1L336.9 31.4L334.5 31.4L334.0 30.6L333.0 31.9M677.5 31.9L676.1 32.4L675.1 32.2L676.5 33.8L677.0 34.5L674.6 34.3L671.8 35.0L669.8 35.8L668.4 36.8L665.1 36.5L663.1 37.0L661.7 38.3L661.2 39.0L660.8 40.5L661.5 40.7L660.3 41.9L658.4 42.7L658.4 43.7L656.9 44.5L655.2 45.7L654.5 44.2L654.2 41.7L654.2 39.8L655.5 39.0L657.4 38.3L659.3 36.8L661.9 35.8L662.2 34.3L660.3 35.1L658.7 35.0L657.9 35.1L655.5 35.3L655.0 35.8L653.1 37.0L653.6 37.6L650.7 37.8L649.8 37.3L647.8 37.1L645.0 37.5L642.1 37.5L639.7 38.8L637.3 40.3L634.9 41.9L636.4 42.7L636.8 43.0L638.7 42.5L640.5 43.5L640.2 44.7L639.7 46.2L639.7 48.1L638.3 49.6L637.3 50.6L635.4 52.1L634.4 53.1L632.5 53.8L631.6 53.4L630.3 54.1L629.4 55.1L629.2 56.0L627.3 56.8L628.0 58.0L629.0 59.5L629.1 61.0L628.7 61.5L627.3 61.8L626.1 62.0L626.3 60.5L626.3 59.0L624.9 58.5L625.2 57.0L624.2 56.5L622.0 57.5L621.2 57.7L622.0 56.0L621.0 55.6L619.1 57.2L617.9 57.5L618.7 58.5L619.1 59.3L620.9 58.7L622.5 59.2L622.5 59.6L620.6 60.3L619.4 61.5L620.4 62.5L621.0 63.9L621.8 64.9L622.0 65.6L621.0 65.9L622.0 66.6L621.5 68.1L620.6 69.4L619.6 70.8L618.2 71.8L616.7 73.3L614.8 73.8L613.9 74.1L612.0 74.8L610.8 75.0L610.5 76.0L610.2 74.8L608.9 74.7L607.7 75.3L606.4 77.3L607.2 78.4L608.9 80.2L609.8 82.7L609.8 84.4L608.1 85.6L607.4 85.7L607.2 86.6L605.7 87.4L605.5 86.1L604.3 85.5L603.3 84.2L601.9 83.5L601.4 82.7L601.0 83.2L600.7 85.1L600.2 86.8L601.1 87.7L601.4 88.9L602.6 89.3L603.3 90.1L604.2 91.3L604.3 93.2L605.0 94.6L604.2 94.6L602.4 93.2L601.4 91.6L601.2 90.1L600.5 89.1L599.3 88.1L599.5 86.6L599.6 84.7L599.2 82.7L598.9 81.2L598.6 79.7L597.6 79.7L596.5 80.4L595.5 80.2L595.7 78.4L594.9 76.8L593.6 75.3L593.1 74.0L591.9 74.0L590.4 74.5L589.0 74.8L588.3 75.8L587.1 76.6L585.6 77.9L584.0 79.5L582.3 80.4L581.9 82.2L582.0 84.2L581.6 85.8L580.9 86.9L580.1 87.3L579.4 88.0L578.5 87.1L577.7 84.7L576.8 83.2L576.4 81.2L575.6 79.7L574.9 77.3L574.8 75.3L574.5 74.5L573.2 75.5L571.6 74.3L572.4 73.4L571.1 73.0L569.9 72.3L569.1 71.5L568.9 70.9L566.5 71.0L564.1 71.2L561.5 70.8L560.1 70.5L559.6 69.4L557.6 69.8L556.0 69.4L554.6 68.6L553.9 67.4L552.9 66.2L552.0 66.1L551.2 66.6L551.7 68.1L553.1 69.7L553.4 70.6L554.1 70.3L554.6 71.0L554.4 72.0L555.5 72.2L556.9 72.1L558.2 71.0L559.0 70.1L559.3 71.5L560.3 72.5L561.3 72.7L562.5 73.8L561.4 75.8L560.6 77.3L559.3 78.2L558.1 78.7L556.5 79.5L555.0 80.6L552.2 82.0L550.7 82.7L548.3 83.4L546.9 83.5L546.6 82.7L546.2 80.7L545.9 79.2L544.5 77.3L542.8 75.0L542.1 72.8L541.0 71.3L540.0 69.9L538.8 68.4L538.6 66.9L538.1 68.4L537.4 68.2L536.8 67.4L536.5 66.4L536.6 67.4L537.3 68.6L538.1 70.3L539.2 72.3L539.5 73.3L540.7 74.8L541.0 76.8L542.1 78.2L543.1 80.7L544.5 81.7L546.4 83.7L546.7 84.7L547.9 85.6L550.2 84.9L552.2 84.9L554.3 84.3L554.1 85.6L553.1 88.1L551.7 90.6L550.2 92.5L548.8 94.0L547.4 95.0L545.9 96.5L545.0 97.8L543.7 98.8L543.1 100.4L542.4 102.2L543.1 102.9L542.9 104.9L544.0 106.4L544.0 108.8L544.2 110.8L543.1 112.3L540.7 113.6L539.7 114.7L538.6 115.7L539.1 117.7L539.2 119.7L536.8 121.2L536.7 122.1L536.4 124.1L534.9 125.6L533.5 127.4L532.1 128.6L530.2 129.3L528.2 129.5L526.3 129.7L524.4 130.3L523.0 129.8L522.8 128.6L522.5 127.6L521.5 125.1L520.1 122.6L519.1 118.7L518.2 116.7L516.8 113.8L516.6 111.8L517.2 109.3L518.4 106.9L517.7 104.9L517.0 101.9L516.8 100.9L515.8 99.7L514.4 98.0L513.9 96.7L514.4 95.0L514.7 93.0L513.9 91.8L512.0 91.8L511.0 91.8L509.6 89.9L507.7 89.8L506.2 90.2L504.3 90.9L502.9 91.2L501.4 90.9L499.5 91.3L498.1 91.7L496.7 91.1L494.8 89.4L493.3 88.6L492.5 87.1L491.4 85.6L490.9 85.1L489.5 83.9L489.2 82.7L488.6 81.5L489.5 80.2L490.0 78.2L489.7 77.0L489.0 75.3L490.0 72.8L491.1 70.8L492.8 68.7L494.8 67.6L495.7 66.9L496.0 65.4L496.4 63.9L498.1 62.7L499.5 61.0L500.2 60.6L502.4 61.3L504.3 61.0L506.2 60.1L508.1 59.7L511.0 59.5L513.4 59.5L514.8 59.2L515.8 59.6L515.3 60.5L515.6 62.0L514.8 62.5L515.8 63.1L517.7 63.5L519.8 64.1L520.6 65.2L522.5 65.9L524.2 65.6L524.4 64.4L525.8 63.5L527.3 63.8L529.2 64.6L531.1 65.1L533.0 65.5L534.9 64.9L536.2 65.2L537.8 65.1L538.5 64.4L538.8 63.4L539.5 61.9L539.6 60.5L539.9 59.8L538.8 59.9L537.8 60.3L536.4 60.4L534.9 59.7L534.5 60.2L533.0 60.0L531.6 59.7L531.1 58.5L530.4 57.3L530.3 56.5L531.6 56.1L533.0 55.9L533.1 55.3L534.9 55.3L537.3 54.6L538.8 54.6L540.2 55.3L541.6 55.5L543.5 55.5L545.0 55.0L545.0 53.9L543.5 53.1L542.1 52.2L541.2 51.6L540.5 51.3L541.6 50.6L542.8 49.5L541.2 49.6L539.1 50.2L539.2 51.2L540.2 51.3L539.0 51.7L537.5 52.2L536.4 51.2L537.4 50.6L535.9 50.1L534.7 50.1L533.7 51.3L532.7 52.6L532.1 53.8L532.1 54.7L533.0 55.3L532.1 55.5L530.9 55.9L530.2 56.2L530.2 55.7L528.7 55.6L528.0 56.3L527.1 56.1L527.1 57.0L527.6 57.7L528.2 58.4L528.2 58.8L527.3 59.0L527.5 60.0L526.8 60.0L526.0 59.7L525.6 58.7L525.4 58.0L524.9 57.2L523.9 56.2L523.9 54.9L523.0 54.1L521.5 53.4L520.1 52.6L519.4 51.6L518.5 51.0L517.1 51.3L517.2 52.4L518.4 53.1L519.1 54.3L520.6 54.7L520.8 55.1L522.5 55.8L523.0 56.4L522.5 56.6L521.5 56.0L521.2 56.8L521.6 57.5L521.1 58.2L520.3 58.6L520.3 58.2L520.6 57.5L520.1 56.5L519.1 55.8L517.7 55.3L516.8 54.6L515.8 54.1L515.1 53.1L514.4 52.3L513.6 52.2L512.5 52.8L511.5 53.4L510.1 53.2L509.1 53.1L508.1 53.6L508.3 54.6L507.4 55.2L506.0 55.8L505.0 57.0L505.3 57.8L504.6 58.8L503.4 59.7L501.0 59.8L500.1 60.4L499.2 59.9L498.6 59.3L496.8 59.5L496.9 58.0L496.3 57.7L496.9 56.0L496.9 54.6L496.5 53.6L497.6 52.9L500.0 53.1L501.9 53.2L503.6 53.2L504.0 52.1L504.2 50.9L503.6 50.1L503.2 49.4L501.9 48.9L500.8 48.6L500.8 48.1L502.4 47.9L503.7 48.0L503.6 47.0L504.1 47.3L505.5 47.2L506.7 46.5L506.9 45.8L508.6 45.3L509.3 44.7L509.9 43.7L511.0 43.3L512.2 43.1L513.4 42.9L513.7 42.2L513.1 41.2L513.0 39.8L514.4 39.6L515.3 39.1L515.3 40.3L514.8 41.2L514.6 41.9L515.6 42.7L516.8 42.5L518.2 42.3L519.0 42.8L520.6 42.4L522.5 41.9L523.2 42.3L524.4 42.3L525.4 41.5L525.4 40.0L526.0 39.2L526.9 39.1L527.8 39.8L528.5 39.6L528.7 38.5L527.8 38.1L527.8 37.6L529.7 37.2L532.1 37.3L534.0 36.9L532.5 36.2L530.6 36.4L528.7 36.8L527.1 36.9L525.7 36.1L525.7 34.3L526.8 33.3L528.7 32.1L529.6 31.6L528.4 31.1L526.6 31.2L525.7 32.4L524.4 33.3L523.0 33.8L522.0 34.8L521.7 36.0L523.0 36.8L523.3 37.3L522.5 37.8L521.3 38.3L521.1 39.6L520.6 40.5L519.1 40.7L518.9 41.3L517.7 41.3L517.4 40.5L516.8 39.5L516.1 38.2L515.4 37.5L515.3 37.0L514.4 37.9L513.1 38.7L512.0 38.8L510.6 38.1L510.1 36.8L510.1 35.3L510.3 34.6L512.0 33.9L513.4 33.3L514.8 32.9L516.1 31.9L517.2 30.9L518.2 29.9L519.4 28.9L521.1 28.2L523.0 27.3L524.9 26.9L527.3 26.4L530.0 25.8M446.9 146.8L449.8 146.7L449.3 147.5L447.4 147.5L446.9 146.8M498.3 34.6L499.1 34.5L498.8 35.0L498.3 34.6M674.9 113.3L676.1 113.2L676.2 113.9L675.0 114.0L674.9 113.3M616.3 104.3L619.1 104.2L623.0 104.2L622.8 104.7L619.1 104.7L616.7 104.8L616.3 104.3M549.3 16.6L552.2 16.9L554.1 16.5L551.2 16.2L549.3 16.6M556.0 16.8L559.8 17.0L562.7 16.5L564.6 16.8L567.5 16.3L561.7 15.9L557.9 16.1L556.0 16.8M417.7 96.3L418.3 96.6L418.0 97.0L417.7 96.3M499.8 46.6L501.9 46.4L503.4 46.1L505.3 45.9L506.6 45.5L505.8 45.2L506.9 44.1L505.6 43.7L505.4 43.1L505.1 42.4L504.0 41.7L503.4 40.8L502.4 40.7L502.9 40.3L503.4 39.2L501.9 39.1L501.4 39.1L502.2 38.2L500.5 38.2L499.7 39.1L499.9 40.3L499.3 40.3L500.0 41.3L500.7 41.2L500.7 41.9L501.9 41.8L502.4 42.7L502.4 43.3L501.0 43.4L501.2 44.2L500.3 44.9L501.9 45.2L502.4 45.4L501.2 45.6L499.8 46.6M522.7 39.8L523.5 38.9L523.3 39.5L522.7 39.8M435.4 18.8L440.2 17.6L443.1 16.6L447.9 15.3L454.6 14.9L462.2 14.3L471.8 13.5L479.4 13.8L484.2 14.8L488.1 15.6L493.3 15.6L489.0 17.1L487.1 18.5L487.1 20.0L486.1 21.5L486.6 22.5L484.2 23.5L483.7 24.8L484.2 26.4L481.4 26.6L483.3 27.2L480.4 28.4L476.6 28.8L473.7 29.9L470.8 31.0L467.5 31.4L466.5 32.6L465.1 34.0L464.1 36.3L463.2 36.9L461.3 36.1L458.9 35.8L457.4 34.3L456.0 32.9L455.0 31.4L454.1 29.9L455.0 28.2L456.5 27.4L453.1 26.6L453.1 25.5L451.7 24.0L450.3 22.5L448.8 21.2L445.0 20.8L441.2 21.0L438.3 20.5L437.3 19.5L435.4 18.8M378.0 42.7L379.3 42.7L379.9 44.5L378.5 43.7L378.0 42.7M609.3 77.0L610.5 76.2L611.5 76.6L610.8 77.7L610.0 78.0L609.3 77.5L609.3 77.0M627.3 94.1L628.2 94.5L628.4 95.7L627.7 96.8L627.4 95.2L627.3 94.1M356.0 76.1L357.0 76.7L356.3 77.4L356.0 76.7L356.0 76.1M355.3 75.4L356.0 75.5L355.6 75.7L355.3 75.4M498.4 38.5L499.2 38.4L498.6 39.0L498.4 38.5M434.1 77.6L435.4 76.4L437.3 76.5L438.8 77.0L439.8 77.6L438.3 77.9L436.9 78.5L435.9 78.0L434.1 77.6M639.5 55.1L640.2 54.8L640.2 54.1L642.3 54.6L644.3 53.4L644.3 52.4L642.6 52.3L641.0 51.2L640.9 52.1L640.6 53.3L639.6 53.4L639.1 54.1L639.5 55.1M630.5 62.6L631.1 61.9L632.5 61.0L634.9 60.9L636.1 59.7L636.6 59.0L637.8 59.1L638.7 58.0L639.2 56.7L639.2 55.8L640.4 55.2L640.7 56.0L641.1 57.0L640.7 58.2L640.2 59.5L640.0 60.5L639.7 61.3L639.0 61.5L638.9 61.0L638.3 61.5L637.8 61.8L636.5 61.9L636.2 62.2L635.4 62.9L634.6 62.7L634.6 61.9L633.5 61.9L632.1 62.3L630.5 62.6M483.7 30.5L485.7 31.3L487.9 30.8L490.0 30.4L491.2 30.9L492.3 31.7L491.4 32.5L489.5 33.1L487.3 33.4L485.7 33.1L483.7 33.0L484.2 32.4L482.3 32.0L484.2 31.5L482.1 31.3L483.3 30.7L483.7 30.5M499.5 44.5L499.3 43.4L499.7 42.2L499.1 41.5L497.4 41.5L497.1 42.3L495.7 42.5L496.2 43.5L495.9 44.4L495.5 44.9L496.2 45.2L497.6 44.9L499.1 44.6L499.5 44.5M430.4 77.9L432.3 78.1L431.4 78.4L430.4 77.9M605.9 102.7L606.9 101.9L607.7 101.9L609.1 102.4L611.0 102.8L611.5 102.4L612.9 102.8L614.8 103.7L614.6 104.5L612.9 104.3L610.5 104.0L608.6 103.7L607.2 103.3L605.9 102.7M626.0 63.1L626.7 62.9L626.4 63.2L626.0 63.1M661.7 37.8L662.8 38.0L662.2 38.5L661.7 37.8M571.1 144.3L572.7 144.4L572.4 144.9L571.3 144.9L571.1 144.3M413.9 28.1L411.5 28.2L410.1 27.6L412.0 26.9L413.9 27.4L413.9 28.1M357.4 39.3L359.4 38.8L359.6 39.5L357.9 40.0L357.4 39.3M551.5 27.9L552.9 28.1L552.6 27.4L551.7 27.5L551.5 27.9M663.6 41.4L664.7 41.9L664.1 41.5L663.6 41.4M636.8 22.3L639.2 22.2L642.1 21.5L640.2 21.0L637.3 21.4L636.8 22.3M645.0 52.1L646.4 51.4L647.6 51.1L646.4 51.7L645.0 52.1M648.8 50.6L649.9 50.0L649.3 50.5L648.8 50.6M653.1 47.4L654.5 46.2L653.9 46.5L653.1 47.4M630.5 62.6L631.3 62.9L631.4 63.9L630.6 65.1L630.1 65.2L629.9 64.4L629.5 63.7L629.3 63.1L630.1 62.7L630.5 62.6M620.7 77.7L622.2 77.7L622.3 79.2L621.5 80.4L621.7 82.0L623.0 82.2L623.9 83.2L623.7 83.5L623.0 82.8L622.0 82.5L621.0 82.5L620.7 81.9L620.2 81.2L620.0 79.9L620.5 78.9L620.7 77.7M639.2 23.6L642.1 23.8L641.1 23.2L639.2 23.6M561.1 52.6L561.2 51.1L562.5 50.1L563.9 50.1L564.3 51.6L563.2 52.8L561.7 53.1L561.1 52.6M398.6 38.2L401.0 37.7L403.4 37.4L401.0 37.3L398.6 37.9L398.6 38.2M604.6 45.2L606.2 44.9L608.1 43.7L609.6 42.2L610.3 40.9L609.6 41.0L608.6 42.4L607.0 43.7L605.3 44.7L604.6 45.2M575.6 51.6L576.6 50.3L578.5 49.9L580.9 50.0L579.9 50.4L577.5 50.6L576.4 51.6L575.6 51.6M425.5 54.8L426.8 55.1L428.7 54.4L429.8 53.8L428.3 54.0L426.8 54.4L425.5 54.8M386.2 31.7L388.5 31.9L390.9 31.1L392.4 30.4L390.5 29.9L388.1 30.6L386.2 30.8L386.2 31.7M393.3 35.8L395.2 35.8L396.7 34.8L399.5 34.0L400.5 34.3L398.1 35.3L396.2 35.9L394.3 36.0L393.3 35.8M424.3 50.7L425.4 50.5L427.3 50.6L428.7 51.6L428.4 52.1L427.3 51.8L427.1 53.3L426.3 53.5L425.2 52.8L425.6 51.6L424.3 50.7M534.8 36.8L535.4 35.8L536.7 35.5L536.8 36.3L535.9 36.7L534.8 36.8M537.8 105.5L538.4 106.4L538.3 107.8L538.8 109.3L539.0 110.2L538.5 110.1L538.1 108.8L537.8 107.3L537.8 105.5M421.3 54.6L421.2 53.1L421.8 51.6L423.0 50.7L424.0 50.8L423.5 51.8L422.6 53.1L422.7 54.3L422.0 54.9L421.3 54.6M428.9 53.3L430.6 53.3L432.3 53.0L432.1 52.4L430.6 52.7L429.4 52.9L428.9 53.3M417.2 49.9L419.2 48.8L421.1 47.9L423.0 47.9L424.1 48.8L424.2 50.0L422.5 50.1L421.1 49.7L419.2 50.0L417.2 49.9M533.2 99.4L533.7 100.4L533.6 101.9L534.5 103.4L534.9 104.6L534.5 104.6L533.6 103.2L533.1 101.4L533.2 99.4M535.6 97.0L535.9 95.8L537.3 95.6L538.1 96.3L537.8 97.5L537.1 98.5L535.9 98.7L535.6 97.0M412.7 46.3L412.9 44.9L412.0 43.5L410.7 42.9L410.6 43.7L411.5 44.7L412.2 45.9L412.7 46.3M398.1 19.6L400.0 19.5L400.0 18.7L397.2 18.7L398.1 19.6M552.4 107.8L553.3 109.8L553.5 111.3L552.8 112.8L552.2 114.7L551.2 117.7L550.2 120.7L548.8 121.2L547.4 120.7L546.9 119.2L546.7 117.7L547.7 115.7L547.4 113.8L547.9 112.0L549.3 111.5L550.7 110.5L551.7 109.1L552.4 107.8M507.6 56.9L508.5 56.7L508.2 57.2L507.6 56.9M428.4 35.1L429.4 34.8L429.0 34.4L428.4 35.1M560.1 115.8L560.6 115.9L560.3 116.2L560.1 115.8M403.9 22.0L400.0 22.5L396.2 22.3L393.3 21.7L395.2 20.7L400.0 20.7L401.9 21.2L403.9 22.0M622.0 89.1L623.4 87.5L625.2 86.4L626.1 87.6L626.3 89.1L625.8 89.9L625.4 90.3L625.2 89.3L623.9 89.6L623.9 88.6L623.0 88.6L622.0 89.1M647.2 101.4L648.8 100.9L650.9 100.1L650.7 101.2L648.8 102.1L647.2 101.4M662.2 115.9L664.6 117.2L665.1 118.0L663.6 117.4L662.2 115.9M448.6 49.0L451.7 49.0L454.1 49.9L454.9 49.0L454.1 48.1L453.8 47.2L451.9 46.8L452.0 45.3L450.7 45.9L449.8 47.4L448.6 48.3L448.6 49.0M649.6 98.6L651.2 99.5L651.7 100.5L651.0 99.9L649.6 98.6M636.4 21.5L640.2 22.1L643.1 22.0L645.0 21.5L642.1 21.0L638.3 21.0L636.4 21.5M630.6 96.8L632.1 96.4L633.5 96.8L633.7 98.5L634.4 99.3L636.4 97.8L638.3 98.0L640.2 98.6L642.1 99.4L643.5 99.7L644.8 100.9L645.9 101.8L646.7 102.6L645.9 102.9L646.9 104.4L648.3 105.5L649.6 106.3L648.3 106.2L646.4 105.9L645.0 104.2L643.5 103.6L642.6 104.2L641.6 105.1L640.2 105.0L638.7 103.9L637.3 104.2L638.1 102.9L637.3 101.4L635.4 100.5L633.0 99.7L632.3 99.9L631.6 98.9L633.0 98.5L632.1 98.2L630.6 96.8M598.3 94.6L598.9 95.4L598.6 95.2L598.3 94.6M554.6 25.5L556.0 26.1L558.9 26.2L560.3 25.5L557.9 24.0L559.3 23.0L561.7 22.0L565.6 21.0L570.8 20.2L568.4 20.0L563.6 20.7L559.8 21.5L557.9 22.5L556.0 23.7L554.6 25.5M670.5 129.9L672.0 131.0L672.6 132.4L673.5 132.2L673.7 133.1L675.6 133.1L676.0 134.0L674.6 134.8L674.6 135.5L673.0 137.0L672.5 136.7L672.9 135.7L671.6 134.8L672.3 134.2L672.5 133.0L671.8 131.8L670.5 129.9M670.5 136.0L672.0 136.9L670.8 138.4L670.6 139.2L669.2 139.7L668.6 141.3L667.0 142.0L665.5 141.6L664.6 141.2L666.3 139.4L668.4 138.4L669.4 137.2L670.5 136.0M353.9 74.8L354.4 74.8L354.2 75.0L353.9 74.8M627.5 70.2L628.0 69.6L627.7 70.1L627.5 70.2M521.0 40.5L521.6 39.5L521.4 40.2L521.0 40.5M617.4 87.7L618.7 86.6L619.6 84.9L619.3 85.6L618.2 87.1L617.4 87.7M431.1 29.6L433.0 29.4L433.0 28.7L431.6 28.7L431.1 29.6M387.6 20.8L391.4 21.2L394.3 20.5L392.4 19.7L389.5 20.0L387.6 20.8M412.5 25.2L410.6 25.7L407.7 24.5L408.6 23.3L411.5 23.2L412.9 24.0L412.5 25.2M441.0 77.7L442.4 77.9L441.6 78.2L441.0 77.7M558.1 116.7L558.7 116.7L558.5 117.1L558.1 116.7M526.3 38.2L527.5 38.2L527.0 38.7L526.3 38.5L526.3 38.2M641.1 42.4L642.1 43.4L642.4 45.2L642.6 46.7L643.5 47.7L642.1 49.1L642.6 50.1L641.6 49.8L641.1 50.6L641.1 48.8L641.3 47.7L641.1 45.7L641.0 43.4L641.1 42.4M339.9 109.3L340.5 109.4L340.2 109.6L339.9 109.3M513.1 55.6L514.6 55.5L514.5 57.3L513.4 57.5L513.1 55.6M627.7 99.0L630.4 99.1L629.7 99.5L627.7 99.4L627.7 99.0M596.2 18.1L600.0 19.0L603.8 18.5L605.7 17.8L601.9 17.1L598.1 16.6L596.2 18.1M468.9 149.3L470.8 149.6L470.5 150.1L468.9 149.5L468.9 149.3M503.8 36.3L504.4 36.2L504.1 36.9L503.8 36.3M632.1 62.6L633.5 62.2L634.2 62.7L633.7 63.1L632.5 63.6L632.0 63.1L632.1 62.6M599.7 97.0L600.3 97.8L599.9 97.6L599.7 97.0M517.2 58.5L520.2 58.3L519.7 59.8L517.2 58.7L517.2 58.5M556.3 83.6L557.4 83.6L556.9 83.9L556.3 83.6M655.0 102.9L656.9 103.6L658.8 104.9L659.8 105.9L658.4 105.4L656.5 104.1L655.0 102.9M418.7 24.3L415.3 24.8L413.9 23.5L415.3 22.9L418.2 23.0L418.7 24.3M428.3 33.1L425.9 32.9L423.0 33.3L421.6 32.4L423.5 31.1L425.4 31.4L427.3 32.4L428.3 33.1M581.6 86.4L582.1 86.5L583.1 87.6L583.6 88.8L583.3 89.7L582.3 90.2L581.8 89.8L581.6 88.6L581.7 87.3L581.6 86.4M619.9 95.5L620.9 94.7L623.0 95.1L624.9 94.4L624.4 95.5L623.0 95.6L621.0 95.6L620.4 96.9L621.5 96.9L623.2 96.7L622.0 97.8L621.5 98.0L622.5 99.5L623.0 100.2L622.7 101.1L621.7 100.7L621.0 99.5L620.9 98.7L620.4 99.0L620.5 101.4L619.6 101.4L619.6 99.5L618.9 98.7L619.4 97.3L619.9 95.5M596.5 90.5L598.6 90.9L599.3 91.9L601.0 93.3L601.7 93.9L603.8 95.3L604.6 96.5L605.3 97.8L606.7 99.0L606.7 101.7L606.0 101.7L605.3 101.4L603.3 100.1L601.9 98.5L601.2 96.9L600.0 95.5L599.5 94.2L598.1 93.0L596.6 91.3L596.5 90.5M619.1 105.3L620.9 105.8L620.1 106.2L619.1 105.7L619.1 105.3M617.0 104.3L619.1 104.2L619.1 104.7L617.2 104.9L617.0 104.3M515.8 18.1L518.7 19.0L519.6 20.0L521.5 20.4L523.5 19.0L525.8 18.5L524.4 17.6L526.3 16.8L522.5 16.9L519.6 17.3L515.8 18.1M523.0 17.3L527.3 17.8L531.1 17.1L528.2 16.6L523.5 16.8L523.0 17.3M621.5 71.1L622.0 71.5L621.3 73.5L620.9 74.3L620.3 73.3L620.4 72.3L621.0 71.3L621.5 71.1M643.7 136.2L645.4 136.6L647.1 136.4L647.2 137.6L646.4 138.6L645.0 138.9L644.3 137.9L643.7 136.2M438.0 148.0L439.8 147.9L440.0 148.8L442.9 150.0L441.6 150.4L439.3 150.6L436.9 149.8L435.4 148.8L437.3 149.3L438.0 148.0M623.4 106.2L624.9 104.9L626.8 104.3L626.3 104.9L624.4 106.1L623.4 106.2M446.0 85.4L447.0 85.3L446.9 86.0L446.0 86.0L446.0 85.4M382.5 46.0L385.2 46.5L387.1 48.2L385.7 47.9L384.2 47.2L382.5 46.0M676.3 112.3L677.4 112.0L677.0 112.6L676.3 112.3M664.7 110.8L665.3 111.3L665.5 112.3L666.3 113.5L665.5 112.6L664.7 110.8M561.2 27.1L563.0 27.0L562.2 26.5L561.2 27.1M393.3 26.9L398.1 28.3L401.9 28.2L404.8 27.9L407.7 27.4L408.2 25.9L405.3 25.5L404.8 24.0L401.9 23.8L400.0 24.2L396.2 23.7L392.4 24.5L391.4 25.5L394.3 25.7L393.3 26.9M624.2 83.7L625.4 83.9L625.5 85.1L624.9 85.9L624.4 85.1L624.2 83.7M622.0 84.4L623.2 84.7L623.3 86.1L622.5 86.8L622.3 85.6L622.0 84.4M676.1 25.7L677.5 25.9L677.5 25.5L676.5 25.5L676.1 25.7M542.8 101.7L543.1 102.1L542.9 102.3L542.8 101.7M515.8 41.1L517.2 40.7L517.0 41.7L516.0 41.5L515.8 41.1" stroke="#222" stroke-width="0.55" fill="none" stroke-linejoin="round"/>
</g>
<rect x="333.05" y="7.2" width="344.45" height="148.0" stroke="#4a4a4a" stroke-width="0.75" fill="none"/>
<text x="333.75" y="163.10" font-size="7.6" text-anchor="middle" fill="#1a1a1a" >180°</text>
<text x="419.86" y="163.10" font-size="7.6" text-anchor="middle" fill="#1a1a1a" >90°W</text>
<text x="505.97" y="163.10" font-size="7.6" text-anchor="middle" fill="#1a1a1a" >0°</text>
<text x="592.09" y="163.10" font-size="7.6" text-anchor="middle" fill="#1a1a1a" >90°E</text>
<text x="678.20" y="163.10" font-size="7.6" text-anchor="middle" fill="#1a1a1a" >180°</text>
<text x="330.55" y="10.20" font-size="7.6" text-anchor="end" fill="#1a1a1a" >90°N</text>
<text x="330.55" y="54.60" font-size="7.6" text-anchor="end" fill="#1a1a1a" >45°N</text>
<text x="330.55" y="99.00" font-size="7.6" text-anchor="end" fill="#1a1a1a" >0°</text>
<text x="330.55" y="143.40" font-size="7.6" text-anchor="end" fill="#1a1a1a" >45°S</text>
<path d="M333.05 155.2v-3.2M333.05 7.2v3.2M419.16 155.2v-3.2M419.16 7.2v3.2M505.27 155.2v-3.2M505.27 7.2v3.2M591.39 155.2v-3.2M591.39 7.2v3.2M677.50 155.2v-3.2M677.50 7.2v3.2M333.05 7.20h3.2M677.5 7.20h-3.2M333.05 51.60h3.2M677.5 51.60h-3.2M333.05 96.00h3.2M677.5 96.00h-3.2M333.05 140.40h3.2M677.5 140.40h-3.2" stroke="#333" stroke-width="0.7" fill="none"/>
<text x="341.70" y="140.25" font-size="7.85" text-anchor="start" fill="#1a1a1a" >Urban Population Exposure</text>
<text x="341.70" y="149.10" font-size="7.85" text-anchor="start" fill="#1a1a1a" >CDHWs-scPDSI</text>
<ellipse cx="362.6" cy="82.60000000000001" rx="15" ry="15.6" fill="#819fde"/>
<path d="M362.6 82.60000000000001L364.30 67.10A15 15.6 0 0 1 366.23 67.46Z" fill="#4a44c8"/>
<path d="M362.6 82.60000000000001L363.99 67.07A15 15.6 0 0 1 364.30 67.10Z" fill="#70d070"/>
<path d="M362.6 82.60000000000001L363.39 67.02A15 15.6 0 0 1 363.99 67.07Z" fill="#e8d040"/>
<path d="M362.6 82.60000000000001L362.60 67.00A15 15.6 0 0 1 363.39 67.02Z" fill="#e05020"/>
<text x="357.60" y="66.00" font-size="2.6" text-anchor="middle" fill="#555" >1%</text>
<text x="363.60" y="65.60" font-size="2.6" text-anchor="middle" fill="#555" >1%</text>
<text x="368.60" y="66.40" font-size="2.6" text-anchor="middle" fill="#555" >3%</text>
<text x="360.60" y="101.20" font-size="2.6" text-anchor="middle" fill="#555" >94%</text>
<rect x="353.8" y="108.80" width="7.3" height="2.8" fill="#819fde" stroke="#999" stroke-width="0.25"/>
<text x="361.80" y="111.40" font-size="3.5" text-anchor="start" fill="#444" >0-0.4</text>
<rect x="353.8" y="112.84" width="7.3" height="2.8" fill="#3a36c4" stroke="#999" stroke-width="0.25"/>
<text x="361.80" y="115.44" font-size="3.5" text-anchor="start" fill="#444" >0.4-0.8</text>
<rect x="353.8" y="116.88" width="7.3" height="2.8" fill="#80e080" stroke="#999" stroke-width="0.25"/>
<text x="361.80" y="119.48" font-size="3.5" text-anchor="start" fill="#444" >0.8-1.2</text>
<rect x="353.8" y="120.92" width="7.3" height="2.8" fill="#f0f040" stroke="#999" stroke-width="0.25"/>
<text x="361.80" y="123.52" font-size="3.5" text-anchor="start" fill="#444" >1.2-1.6</text>
<rect x="353.8" y="124.96" width="7.3" height="2.8" fill="#f02020" stroke="#999" stroke-width="0.25"/>
<text x="361.80" y="127.56" font-size="3.5" text-anchor="start" fill="#444" >&gt;1.6</text>
<clipPath id="m2"><rect x="333.05" y="179.45" width="344.45" height="148.0"/></clipPath>
<g clip-path="url(#m2)">
<g shape-rendering="crispEdges"><path fill="#d6e2fb" d="M551 212h3v1h-3zM560 213h1v1h-1zM535 214h1v1h-1zM553 214h1v1h-1zM502 215h1v1h-1zM539 215h1v1h-1zM544 215h1v1h-1zM557 215h1v1h-1zM502 216h1v1h-1zM505 216h2v1h-2zM512 216h1v1h-1zM515 216h6v1h-6zM536 216h1v1h-1zM539 216h1v1h-1zM542 216h2v1h-2zM546 216h2v1h-2zM502 217h1v1h-1zM514 217h1v1h-1zM516 217h1v1h-1zM519 217h2v1h-2zM527 217h1v1h-1zM529 217h2v1h-2zM539 217h2v1h-2zM543 217h3v1h-3zM547 217h1v1h-1zM502 218h1v1h-1zM514 218h1v1h-1zM516 218h4v1h-4zM522 218h3v1h-3zM527 218h3v1h-3zM536 218h1v1h-1zM547 218h2v1h-2zM508 219h3v1h-3zM513 219h3v1h-3zM518 219h1v1h-1zM522 219h1v1h-1zM525 219h2v1h-2zM529 219h1v1h-1zM532 219h2v1h-2zM540 219h4v1h-4zM547 219h1v1h-1zM510 220h1v1h-1zM515 220h3v1h-3zM519 220h1v1h-1zM522 220h1v1h-1zM524 220h1v1h-1zM534 220h1v1h-1zM625 220h1v1h-1zM505 221h1v1h-1zM514 221h2v1h-2zM517 221h1v1h-1zM520 221h3v1h-3zM524 221h1v1h-1zM533 221h2v1h-2zM540 221h1v1h-1zM624 221h2v1h-2zM627 221h1v1h-1zM508 222h1v1h-1zM513 222h3v1h-3zM517 222h2v1h-2zM520 222h2v1h-2zM524 222h1v1h-1zM621 222h1v1h-1zM505 223h1v1h-1zM507 223h1v1h-1zM512 223h1v1h-1zM519 223h2v1h-2zM525 223h1v1h-1zM532 223h1v1h-1zM537 223h2v1h-2zM621 223h1v1h-1zM627 223h1v1h-1zM514 224h1v1h-1zM525 224h3v1h-3zM531 224h1v1h-1zM589 224h1v1h-1zM620 224h1v1h-1zM626 224h1v1h-1zM497 225h1v1h-1zM526 225h1v1h-1zM587 225h1v1h-1zM589 225h1v1h-1zM620 225h1v1h-1zM626 225h2v1h-2zM431 226h2v1h-2zM545 226h1v1h-1zM561 226h2v1h-2zM620 226h1v1h-1zM626 226h1v1h-1zM422 227h1v1h-1zM434 227h1v1h-1zM436 227h1v1h-1zM544 227h2v1h-2zM547 227h4v1h-4zM569 227h1v1h-1zM571 227h1v1h-1zM574 227h1v1h-1zM421 228h1v1h-1zM430 228h1v1h-1zM534 228h2v1h-2zM544 228h3v1h-3zM548 228h2v1h-2zM609 228h2v1h-2zM612 228h1v1h-1zM627 228h1v1h-1zM639 228h1v1h-1zM431 229h1v1h-1zM433 229h1v1h-1zM532 229h1v1h-1zM534 229h2v1h-2zM567 229h1v1h-1zM572 229h1v1h-1zM607 229h1v1h-1zM614 229h2v1h-2zM621 229h2v1h-2zM640 229h1v1h-1zM430 230h3v1h-3zM536 230h1v1h-1zM550 230h1v1h-1zM578 230h2v1h-2zM607 230h1v1h-1zM616 230h1v1h-1zM625 230h2v1h-2zM431 231h2v1h-2zM552 231h1v1h-1zM561 231h1v1h-1zM578 231h1v1h-1zM604 231h2v1h-2zM427 232h2v1h-2zM432 232h1v1h-1zM511 232h1v1h-1zM555 232h1v1h-1zM564 232h1v1h-1zM567 232h1v1h-1zM571 232h3v1h-3zM426 233h2v1h-2zM514 233h1v1h-1zM555 233h4v1h-4zM560 233h2v1h-2zM563 233h2v1h-2zM567 233h3v1h-3zM575 233h2v1h-2zM580 233h1v1h-1zM582 233h1v1h-1zM603 233h1v1h-1zM634 233h1v1h-1zM427 234h1v1h-1zM430 234h1v1h-1zM499 234h1v1h-1zM554 234h1v1h-1zM569 234h1v1h-1zM576 234h2v1h-2zM579 234h5v1h-5zM603 234h1v1h-1zM498 235h1v1h-1zM547 235h1v1h-1zM557 235h2v1h-2zM568 235h1v1h-1zM579 235h2v1h-2zM582 235h1v1h-1zM584 235h1v1h-1zM603 235h1v1h-1zM499 236h1v1h-1zM547 236h1v1h-1zM553 236h1v1h-1zM557 236h1v1h-1zM567 236h1v1h-1zM583 236h1v1h-1zM602 236h1v1h-1zM536 237h1v1h-1zM567 237h1v1h-1zM533 238h1v1h-1zM536 238h1v1h-1zM539 238h1v1h-1zM584 238h1v1h-1zM567 239h1v1h-1zM572 239h2v1h-2zM585 239h1v1h-1zM568 240h2v1h-2zM574 240h2v1h-2zM569 241h1v1h-1zM572 241h1v1h-1zM600 241h1v1h-1zM572 242h1v1h-1zM577 242h1v1h-1zM598 242h1v1h-1zM595 243h2v1h-2zM598 243h1v1h-1zM535 244h1v1h-1zM572 244h2v1h-2zM575 244h1v1h-1zM596 244h1v1h-1zM598 244h2v1h-2zM572 245h1v1h-1zM595 245h1v1h-1zM597 245h1v1h-1zM585 246h3v1h-3zM593 246h1v1h-1zM595 246h1v1h-1zM597 246h2v1h-2zM604 246h1v1h-1zM411 247h1v1h-1zM585 247h1v1h-1zM596 247h2v1h-2zM409 248h1v1h-1zM576 248h1v1h-1zM584 248h1v1h-1zM586 248h1v1h-1zM596 248h1v1h-1zM408 249h2v1h-2zM576 249h1v1h-1zM609 249h1v1h-1zM603 250h1v1h-1zM598 251h1v1h-1zM600 251h1v1h-1zM605 251h1v1h-1zM548 252h1v1h-1zM596 252h1v1h-1zM536 253h1v1h-1zM548 253h1v1h-1zM418 254h1v1h-1zM422 254h1v1h-1zM489 254h2v1h-2zM501 254h2v1h-2zM504 254h1v1h-1zM538 254h1v1h-1zM540 254h1v1h-1zM505 255h1v1h-1zM512 255h1v1h-1zM537 255h1v1h-1zM600 255h1v1h-1zM500 256h1v1h-1zM504 256h1v1h-1zM507 256h4v1h-4zM514 256h1v1h-1zM519 256h1v1h-1zM536 256h2v1h-2zM542 256h1v1h-1zM603 256h1v1h-1zM624 256h1v1h-1zM509 257h1v1h-1zM512 257h1v1h-1zM542 257h1v1h-1zM604 257h1v1h-1zM624 257h1v1h-1zM433 258h2v1h-2zM493 258h1v1h-1zM539 258h1v1h-1zM432 259h1v1h-1zM493 259h2v1h-2zM543 259h1v1h-1zM624 259h2v1h-2zM493 260h1v1h-1zM497 260h1v1h-1zM501 260h1v1h-1zM497 261h1v1h-1zM503 261h1v1h-1zM505 261h1v1h-1zM508 261h2v1h-2zM513 261h2v1h-2zM540 261h1v1h-1zM543 261h1v1h-1zM432 262h2v1h-2zM501 262h1v1h-1zM504 262h2v1h-2zM516 262h3v1h-3zM541 262h1v1h-1zM543 262h1v1h-1zM601 262h2v1h-2zM433 263h1v1h-1zM514 263h2v1h-2zM519 263h1v1h-1zM516 264h1v1h-1zM519 264h1v1h-1zM532 266h2v1h-2zM538 266h1v1h-1zM610 266h1v1h-1zM612 266h1v1h-1zM532 267h1v1h-1zM539 267h1v1h-1zM601 267h1v1h-1zM534 268h2v1h-2zM540 268h1v1h-1zM539 269h1v1h-1zM429 270h1v1h-1zM614 270h1v1h-1zM532 271h1v1h-1zM614 271h1v1h-1zM527 273h1v1h-1zM470 274h1v1h-1zM527 274h1v1h-1zM471 275h1v1h-1zM537 275h2v1h-2zM537 276h1v1h-1zM539 276h1v1h-1zM541 276h2v1h-2zM620 276h1v1h-1zM538 277h2v1h-2zM520 278h1v1h-1zM538 278h1v1h-1zM520 279h2v1h-2zM518 280h1v1h-1zM520 281h2v1h-2zM537 281h1v1h-1zM518 282h3v1h-3zM541 283h1v1h-1zM543 283h1v1h-1zM550 284h1v1h-1zM441 285h2v1h-2zM535 285h1v1h-1zM537 285h1v1h-1zM550 285h1v1h-1zM534 286h1v1h-1zM538 286h1v1h-1zM460 287h1v1h-1zM458 288h1v1h-1zM550 288h1v1h-1zM457 289h1v1h-1zM465 289h1v1h-1zM456 291h2v1h-2zM534 291h1v1h-1zM456 292h1v1h-1zM458 292h2v1h-2zM531 292h1v1h-1zM535 292h1v1h-1zM455 293h1v1h-1zM531 293h1v1h-1zM535 293h1v1h-1zM455 294h1v1h-1zM531 294h1v1h-1zM453 295h1v1h-1zM532 295h1v1h-1zM535 295h1v1h-1zM532 296h1v1h-1zM533 299h1v1h-1zM437 300h1v1h-1zM437 303h1v1h-1z"/><path fill="#b5cbfa" d="M554 213h1v1h-1zM558 213h1v1h-1zM503 214h2v1h-2zM504 215h1v1h-1zM533 215h4v1h-4zM559 215h1v1h-1zM511 216h1v1h-1zM531 216h2v1h-2zM534 216h2v1h-2zM537 216h2v1h-2zM505 217h1v1h-1zM512 217h2v1h-2zM515 217h1v1h-1zM517 217h2v1h-2zM531 217h1v1h-1zM534 217h1v1h-1zM536 217h3v1h-3zM546 217h1v1h-1zM507 218h2v1h-2zM511 218h3v1h-3zM515 218h1v1h-1zM521 218h1v1h-1zM530 218h6v1h-6zM537 218h4v1h-4zM543 218h2v1h-2zM546 218h1v1h-1zM512 219h1v1h-1zM520 219h2v1h-2zM523 219h2v1h-2zM527 219h2v1h-2zM530 219h2v1h-2zM534 219h2v1h-2zM539 219h1v1h-1zM544 219h3v1h-3zM520 220h1v1h-1zM523 220h1v1h-1zM525 220h5v1h-5zM531 220h2v1h-2zM535 220h2v1h-2zM539 220h1v1h-1zM545 220h1v1h-1zM519 221h1v1h-1zM525 221h1v1h-1zM527 221h1v1h-1zM535 221h1v1h-1zM623 221h1v1h-1zM526 222h2v1h-2zM531 222h2v1h-2zM536 222h1v1h-1zM623 222h2v1h-2zM513 223h1v1h-1zM516 223h1v1h-1zM526 223h1v1h-1zM531 223h1v1h-1zM622 223h1v1h-1zM515 224h1v1h-1zM528 224h1v1h-1zM530 224h1v1h-1zM587 224h1v1h-1zM621 224h1v1h-1zM588 225h1v1h-1zM625 225h1v1h-1zM642 225h1v1h-1zM419 227h1v1h-1zM430 227h1v1h-1zM433 227h1v1h-1zM572 227h2v1h-2zM620 227h1v1h-1zM625 227h1v1h-1zM431 228h1v1h-1zM433 228h1v1h-1zM532 228h1v1h-1zM568 228h1v1h-1zM626 228h1v1h-1zM432 229h1v1h-1zM496 229h2v1h-2zM533 229h1v1h-1zM568 229h1v1h-1zM608 229h2v1h-2zM612 229h2v1h-2zM627 229h1v1h-1zM608 230h1v1h-1zM615 230h1v1h-1zM640 230h1v1h-1zM562 231h2v1h-2zM606 231h4v1h-4zM626 231h1v1h-1zM628 231h1v1h-1zM429 232h3v1h-3zM510 232h1v1h-1zM514 232h1v1h-1zM562 232h2v1h-2zM604 232h1v1h-1zM626 232h1v1h-1zM628 232h1v1h-1zM637 232h1v1h-1zM428 233h4v1h-4zM570 233h1v1h-1zM573 233h2v1h-2zM608 233h1v1h-1zM626 233h1v1h-1zM639 233h1v1h-1zM428 234h2v1h-2zM555 234h2v1h-2zM631 234h1v1h-1zM633 234h1v1h-1zM556 235h1v1h-1zM569 235h2v1h-2zM577 235h2v1h-2zM581 235h1v1h-1zM604 235h1v1h-1zM554 236h1v1h-1zM556 236h1v1h-1zM569 236h3v1h-3zM573 236h1v1h-1zM580 236h1v1h-1zM582 236h1v1h-1zM539 237h1v1h-1zM555 237h1v1h-1zM568 237h4v1h-4zM582 237h1v1h-1zM602 237h1v1h-1zM567 238h3v1h-3zM572 238h2v1h-2zM583 238h1v1h-1zM602 238h1v1h-1zM535 239h1v1h-1zM569 239h1v1h-1zM571 239h1v1h-1zM574 239h1v1h-1zM602 239h1v1h-1zM535 240h1v1h-1zM572 240h1v1h-1zM589 240h1v1h-1zM602 240h1v1h-1zM535 241h1v1h-1zM591 241h2v1h-2zM597 241h1v1h-1zM577 243h1v1h-1zM597 243h1v1h-1zM599 243h1v1h-1zM571 244h1v1h-1zM576 244h2v1h-2zM581 244h2v1h-2zM600 244h2v1h-2zM621 244h1v1h-1zM573 245h1v1h-1zM577 245h1v1h-1zM584 245h4v1h-4zM593 245h1v1h-1zM596 245h1v1h-1zM603 245h1v1h-1zM576 246h1v1h-1zM584 246h1v1h-1zM596 246h1v1h-1zM576 247h2v1h-2zM583 247h2v1h-2zM586 247h1v1h-1zM577 248h1v1h-1zM583 248h1v1h-1zM410 249h4v1h-4zM436 249h1v1h-1zM575 249h1v1h-1zM577 249h1v1h-1zM583 249h2v1h-2zM576 250h2v1h-2zM581 250h2v1h-2zM584 250h1v1h-1zM596 250h2v1h-2zM621 250h1v1h-1zM601 251h2v1h-2zM547 252h1v1h-1zM600 252h2v1h-2zM605 252h1v1h-1zM546 253h1v1h-1zM605 253h1v1h-1zM536 254h1v1h-1zM548 254h1v1h-1zM600 254h1v1h-1zM604 254h2v1h-2zM609 254h1v1h-1zM621 254h1v1h-1zM501 255h1v1h-1zM503 255h1v1h-1zM536 255h1v1h-1zM538 255h1v1h-1zM541 255h1v1h-1zM602 255h3v1h-3zM606 255h1v1h-1zM502 256h2v1h-2zM512 256h1v1h-1zM604 256h1v1h-1zM606 256h1v1h-1zM538 257h1v1h-1zM607 257h1v1h-1zM622 257h1v1h-1zM433 259h1v1h-1zM432 260h2v1h-2zM498 260h3v1h-3zM543 260h1v1h-1zM624 260h2v1h-2zM432 261h2v1h-2zM501 261h2v1h-2zM511 261h1v1h-1zM515 261h1v1h-1zM541 261h1v1h-1zM624 261h2v1h-2zM499 262h2v1h-2zM516 263h1v1h-1zM601 263h1v1h-1zM597 264h1v1h-1zM517 265h2v1h-2zM602 265h1v1h-1zM537 266h1v1h-1zM601 266h1v1h-1zM611 266h1v1h-1zM533 267h1v1h-1zM624 267h1v1h-1zM532 268h1v1h-1zM539 268h1v1h-1zM601 268h1v1h-1zM541 269h1v1h-1zM601 269h2v1h-2zM532 270h1v1h-1zM615 271h1v1h-1zM534 272h1v1h-1zM605 273h2v1h-2zM470 275h1v1h-1zM539 275h2v1h-2zM542 275h1v1h-1zM471 276h1v1h-1zM619 276h1v1h-1zM471 277h1v1h-1zM519 279h1v1h-1zM538 279h1v1h-1zM519 280h2v1h-2zM519 281h1v1h-1zM537 282h1v1h-1zM537 283h1v1h-1zM539 283h2v1h-2zM542 283h1v1h-1zM537 284h1v1h-1zM539 285h1v1h-1zM461 287h4v1h-4zM459 288h1v1h-1zM464 288h2v1h-2zM458 289h1v1h-1zM457 290h1v1h-1zM464 290h2v1h-2zM458 291h1v1h-1zM532 291h2v1h-2zM532 294h1v1h-1zM533 295h1v1h-1zM533 296h1v1h-1zM531 297h1v1h-1zM533 298h1v1h-1zM437 301h1v1h-1zM437 302h1v1h-1z"/><path fill="#94b1f9" d="M551 213h3v1h-3zM559 213h1v1h-1zM557 214h1v1h-1zM560 214h1v1h-1zM503 215h1v1h-1zM558 215h1v1h-1zM504 216h1v1h-1zM510 216h1v1h-1zM533 216h1v1h-1zM503 217h2v1h-2zM532 217h2v1h-2zM509 218h2v1h-2zM545 218h1v1h-1zM536 219h3v1h-3zM530 220h1v1h-1zM538 220h1v1h-1zM526 221h1v1h-1zM528 221h2v1h-2zM531 221h2v1h-2zM536 221h1v1h-1zM539 221h1v1h-1zM528 222h1v1h-1zM537 222h2v1h-2zM625 222h1v1h-1zM514 223h2v1h-2zM527 223h4v1h-4zM623 223h1v1h-1zM529 224h1v1h-1zM588 224h1v1h-1zM622 224h1v1h-1zM625 224h1v1h-1zM621 225h1v1h-1zM497 226h1v1h-1zM625 226h1v1h-1zM431 227h1v1h-1zM497 227h1v1h-1zM519 227h1v1h-1zM432 228h1v1h-1zM497 228h1v1h-1zM624 228h2v1h-2zM571 229h1v1h-1zM610 229h2v1h-2zM625 229h1v1h-1zM609 230h2v1h-2zM612 230h1v1h-1zM627 230h1v1h-1zM610 231h1v1h-1zM506 232h1v1h-1zM508 232h2v1h-2zM608 232h3v1h-3zM571 233h2v1h-2zM609 233h2v1h-2zM627 233h1v1h-1zM539 234h1v1h-1zM555 235h1v1h-1zM571 235h2v1h-2zM576 235h1v1h-1zM608 235h2v1h-2zM629 235h1v1h-1zM572 236h1v1h-1zM581 236h1v1h-1zM608 236h1v1h-1zM570 238h2v1h-2zM574 238h1v1h-1zM618 238h1v1h-1zM570 239h1v1h-1zM618 239h2v1h-2zM621 239h1v1h-1zM571 240h1v1h-1zM618 240h2v1h-2zM593 241h1v1h-1zM601 241h2v1h-2zM617 241h3v1h-3zM571 242h1v1h-1zM597 242h1v1h-1zM600 242h1v1h-1zM609 242h1v1h-1zM618 242h1v1h-1zM535 243h1v1h-1zM571 243h1v1h-1zM578 243h1v1h-1zM594 243h1v1h-1zM609 243h1v1h-1zM616 243h1v1h-1zM570 244h1v1h-1zM578 244h1v1h-1zM593 244h1v1h-1zM602 244h1v1h-1zM615 244h1v1h-1zM576 245h1v1h-1zM582 245h2v1h-2zM604 245h1v1h-1zM611 245h2v1h-2zM573 246h1v1h-1zM577 246h1v1h-1zM583 246h1v1h-1zM588 246h1v1h-1zM610 247h1v1h-1zM410 248h1v1h-1zM412 248h1v1h-1zM575 248h1v1h-1zM579 248h1v1h-1zM435 249h1v1h-1zM578 249h1v1h-1zM581 249h1v1h-1zM575 250h1v1h-1zM578 250h3v1h-3zM583 250h1v1h-1zM580 251h1v1h-1zM596 251h1v1h-1zM603 251h2v1h-2zM604 252h1v1h-1zM608 252h1v1h-1zM419 253h1v1h-1zM600 253h2v1h-2zM604 253h1v1h-1zM420 254h1v1h-1zM601 254h1v1h-1zM603 254h1v1h-1zM608 254h1v1h-1zM422 255h1v1h-1zM502 255h1v1h-1zM547 255h1v1h-1zM605 255h1v1h-1zM538 256h1v1h-1zM541 256h1v1h-1zM605 256h1v1h-1zM539 257h3v1h-3zM606 257h1v1h-1zM540 258h1v1h-1zM542 258h1v1h-1zM622 258h1v1h-1zM540 260h1v1h-1zM510 261h1v1h-1zM512 261h1v1h-1zM542 261h1v1h-1zM513 262h1v1h-1zM512 263h2v1h-2zM517 263h1v1h-1zM602 263h1v1h-1zM517 264h2v1h-2zM598 264h1v1h-1zM602 264h1v1h-1zM599 265h1v1h-1zM535 266h2v1h-2zM534 267h1v1h-1zM532 269h1v1h-1zM538 269h1v1h-1zM540 269h1v1h-1zM535 271h1v1h-1zM537 271h1v1h-1zM605 272h1v1h-1zM470 276h1v1h-1zM618 276h1v1h-1zM470 277h1v1h-1zM539 284h1v1h-1zM541 284h2v1h-2zM538 285h1v1h-1zM540 285h1v1h-1zM460 288h1v1h-1zM463 288h1v1h-1zM459 291h1v1h-1zM461 291h1v1h-1zM532 292h1v1h-1zM534 292h1v1h-1zM532 293h1v1h-1zM534 293h1v1h-1zM534 294h1v1h-1zM534 295h1v1h-1zM534 296h1v1h-1zM532 297h3v1h-3z"/><path fill="#8496f8" d="M503 216h1v1h-1zM510 217h2v1h-2zM530 221h1v1h-1zM537 221h2v1h-2zM626 222h1v1h-1zM624 223h2v1h-2zM624 224h1v1h-1zM641 225h1v1h-1zM432 227h1v1h-1zM518 227h1v1h-1zM573 228h1v1h-1zM623 228h1v1h-1zM626 229h1v1h-1zM611 230h1v1h-1zM627 231h1v1h-1zM507 232h1v1h-1zM607 232h1v1h-1zM607 233h1v1h-1zM611 233h1v1h-1zM637 233h2v1h-2zM570 234h1v1h-1zM572 234h1v1h-1zM575 234h1v1h-1zM604 234h1v1h-1zM610 234h2v1h-2zM539 235h1v1h-1zM554 235h1v1h-1zM575 235h1v1h-1zM605 235h3v1h-3zM630 235h1v1h-1zM539 236h1v1h-1zM575 236h1v1h-1zM579 236h1v1h-1zM603 236h1v1h-1zM609 236h1v1h-1zM572 237h2v1h-2zM581 237h1v1h-1zM609 237h1v1h-1zM618 237h1v1h-1zM575 238h1v1h-1zM621 238h1v1h-1zM575 239h1v1h-1zM609 239h1v1h-1zM587 240h2v1h-2zM603 240h1v1h-1zM608 240h2v1h-2zM571 241h1v1h-1zM577 241h1v1h-1zM609 241h1v1h-1zM535 242h1v1h-1zM608 242h1v1h-1zM579 243h2v1h-2zM601 243h2v1h-2zM608 243h1v1h-1zM610 243h1v1h-1zM609 244h1v1h-1zM614 244h1v1h-1zM574 245h2v1h-2zM588 245h1v1h-1zM613 245h1v1h-1zM574 246h1v1h-1zM578 246h1v1h-1zM605 246h1v1h-1zM575 247h1v1h-1zM582 247h1v1h-1zM588 247h1v1h-1zM411 248h1v1h-1zM578 248h1v1h-1zM582 248h1v1h-1zM610 248h1v1h-1zM579 249h2v1h-2zM582 249h1v1h-1zM576 251h3v1h-3zM597 251h1v1h-1zM621 251h1v1h-1zM620 252h1v1h-1zM603 253h1v1h-1zM608 253h1v1h-1zM419 254h1v1h-1zM605 257h1v1h-1zM540 259h1v1h-1zM542 259h1v1h-1zM582 259h1v1h-1zM498 261h3v1h-3zM514 262h1v1h-1zM511 263h1v1h-1zM518 263h1v1h-1zM599 264h1v1h-1zM600 266h1v1h-1zM538 267h1v1h-1zM533 268h1v1h-1zM534 269h1v1h-1zM538 280h1v1h-1zM540 284h1v1h-1zM462 289h3v1h-3zM458 290h2v1h-2zM461 290h3v1h-3zM460 291h1v1h-1zM533 292h1v1h-1zM533 293h1v1h-1zM533 294h1v1h-1z"/><path fill="#7070f6" d="M537 220h1v1h-1zM529 222h2v1h-2zM626 223h1v1h-1zM623 224h1v1h-1zM624 225h1v1h-1zM621 226h1v1h-1zM571 228h1v1h-1zM569 229h1v1h-1zM639 229h1v1h-1zM613 230h2v1h-2zM611 231h1v1h-1zM615 231h1v1h-1zM639 231h1v1h-1zM605 232h1v1h-1zM611 232h1v1h-1zM604 233h1v1h-1zM612 233h1v1h-1zM635 233h1v1h-1zM571 234h1v1h-1zM609 234h1v1h-1zM573 235h1v1h-1zM610 235h1v1h-1zM555 236h1v1h-1zM574 236h1v1h-1zM607 236h1v1h-1zM574 237h2v1h-2zM609 238h1v1h-1zM619 238h1v1h-1zM584 239h1v1h-1zM570 240h1v1h-1zM610 240h1v1h-1zM590 241h1v1h-1zM596 241h1v1h-1zM603 241h1v1h-1zM620 241h1v1h-1zM570 242h1v1h-1zM578 242h2v1h-2zM601 242h2v1h-2zM610 242h1v1h-1zM617 242h1v1h-1zM581 243h1v1h-1zM600 243h1v1h-1zM614 243h2v1h-2zM579 244h2v1h-2zM583 244h1v1h-1zM585 244h2v1h-2zM603 244h1v1h-1zM608 244h1v1h-1zM610 244h4v1h-4zM578 245h1v1h-1zM581 245h1v1h-1zM609 245h2v1h-2zM575 246h1v1h-1zM607 246h3v1h-3zM587 247h1v1h-1zM580 248h2v1h-2zM587 248h1v1h-1zM605 248h1v1h-1zM585 249h1v1h-1zM579 251h1v1h-1zM581 251h1v1h-1zM620 251h1v1h-1zM602 252h2v1h-2zM602 253h1v1h-1zM620 253h2v1h-2zM580 254h1v1h-1zM602 254h1v1h-1zM579 255h1v1h-1zM579 256h1v1h-1zM541 258h1v1h-1zM541 260h2v1h-2zM510 262h1v1h-1zM515 262h1v1h-1zM597 263h1v1h-1zM538 268h1v1h-1zM534 271h1v1h-1zM536 271h1v1h-1zM461 288h2v1h-2zM459 289h1v1h-1zM461 289h1v1h-1z"/><path fill="#4162f6" d="M509 217h1v1h-1zM624 226h1v1h-1zM624 227h1v1h-1zM569 228h2v1h-2zM572 228h1v1h-1zM570 229h1v1h-1zM616 231h3v1h-3zM627 232h1v1h-1zM638 232h1v1h-1zM606 233h1v1h-1zM612 234h1v1h-1zM574 235h1v1h-1zM611 235h2v1h-2zM576 236h1v1h-1zM610 236h1v1h-1zM610 237h1v1h-1zM617 237h1v1h-1zM582 238h1v1h-1zM608 239h1v1h-1zM620 239h1v1h-1zM576 240h1v1h-1zM586 240h1v1h-1zM607 240h1v1h-1zM608 241h1v1h-1zM610 241h1v1h-1zM580 242h1v1h-1zM607 242h1v1h-1zM616 242h1v1h-1zM570 243h1v1h-1zM603 243h1v1h-1zM611 243h2v1h-2zM584 244h1v1h-1zM604 244h1v1h-1zM616 244h1v1h-1zM620 244h1v1h-1zM579 245h1v1h-1zM605 245h1v1h-1zM608 245h1v1h-1zM620 245h1v1h-1zM582 246h1v1h-1zM578 247h1v1h-1zM610 249h1v1h-1zM575 251h1v1h-1zM580 252h1v1h-1zM539 255h2v1h-2zM578 255h1v1h-1zM539 256h1v1h-1zM577 256h2v1h-2zM581 256h1v1h-1zM581 257h1v1h-1zM606 258h1v1h-1zM511 262h1v1h-1zM535 267h1v1h-1zM617 276h1v1h-1zM538 282h1v1h-1zM538 284h1v1h-1zM460 289h1v1h-1zM460 290h1v1h-1z"/><path fill="#45a096" d="M558 214h2v1h-2zM622 225h2v1h-2zM622 228h1v1h-1zM612 231h1v1h-1zM606 232h1v1h-1zM612 232h1v1h-1zM639 232h1v1h-1zM636 233h1v1h-1zM613 235h1v1h-1zM611 236h1v1h-1zM580 237h1v1h-1zM608 237h1v1h-1zM610 238h1v1h-1zM617 239h1v1h-1zM570 241h1v1h-1zM595 241h1v1h-1zM603 242h1v1h-1zM611 242h1v1h-1zM582 243h1v1h-1zM607 244h1v1h-1zM580 245h1v1h-1zM607 245h1v1h-1zM579 246h2v1h-2zM611 246h1v1h-1zM581 247h1v1h-1zM605 247h1v1h-1zM577 252h1v1h-1zM579 252h1v1h-1zM581 252h1v1h-1zM547 254h1v1h-1zM578 254h2v1h-2zM580 256h1v1h-1zM512 262h1v1h-1zM600 265h1v1h-1zM536 267h2v1h-2zM534 270h1v1h-1z"/><path fill="#48df38" d="M622 226h1v1h-1zM639 230h1v1h-1zM614 231h1v1h-1zM619 231h1v1h-1zM621 231h1v1h-1zM605 234h3v1h-3zM613 234h1v1h-1zM577 236h1v1h-1zM613 236h1v1h-1zM618 236h1v1h-1zM607 237h1v1h-1zM534 238h1v1h-1zM608 238h1v1h-1zM617 240h1v1h-1zM588 241h1v1h-1zM594 241h1v1h-1zM606 241h2v1h-2zM616 241h1v1h-1zM592 242h1v1h-1zM619 242h1v1h-1zM587 244h1v1h-1zM606 245h1v1h-1zM614 245h1v1h-1zM610 246h1v1h-1zM612 246h1v1h-1zM579 247h1v1h-1zM578 252h1v1h-1zM621 252h1v1h-1zM547 253h1v1h-1zM581 253h1v1h-1zM581 254h1v1h-1zM577 255h1v1h-1zM580 255h1v1h-1zM579 257h1v1h-1zM541 259h1v1h-1zM598 263h1v1h-1zM606 274h1v1h-1zM538 283h1v1h-1z"/><path fill="#76f520" d="M621 227h1v1h-1zM613 231h1v1h-1zM620 231h1v1h-1zM605 233h1v1h-1zM608 234h1v1h-1zM604 236h1v1h-1zM606 236h1v1h-1zM612 236h1v1h-1zM576 237h1v1h-1zM616 237h1v1h-1zM535 238h1v1h-1zM617 238h1v1h-1zM620 238h1v1h-1zM610 239h1v1h-1zM606 240h1v1h-1zM596 242h1v1h-1zM593 243h1v1h-1zM607 243h1v1h-1zM613 243h1v1h-1zM617 243h1v1h-1zM617 244h1v1h-1zM615 245h2v1h-2zM582 251h1v1h-1zM576 252h1v1h-1zM582 252h1v1h-1zM417 253h1v1h-1zM578 253h1v1h-1zM581 255h1v1h-1zM540 256h1v1h-1zM578 257h1v1h-1zM580 257h1v1h-1zM608 274h1v1h-1zM613 276h1v1h-1z"/><path fill="#a0f535" d="M623 227h1v1h-1zM613 232h1v1h-1zM573 234h1v1h-1zM617 236h1v1h-1zM535 237h1v1h-1zM603 237h1v1h-1zM611 237h3v1h-3zM607 238h1v1h-1zM616 238h1v1h-1zM603 239h1v1h-1zM585 240h1v1h-1zM604 240h1v1h-1zM620 240h1v1h-1zM578 241h1v1h-1zM611 241h1v1h-1zM615 241h1v1h-1zM593 242h1v1h-1zM606 242h1v1h-1zM615 242h1v1h-1zM581 246h1v1h-1zM589 246h1v1h-1zM606 246h1v1h-1zM580 247h1v1h-1zM606 248h1v1h-1zM418 253h1v1h-1zM579 253h2v1h-2zM533 269h1v1h-1zM533 271h1v1h-1z"/><path fill="#c8fa4c" d="M618 232h1v1h-1zM578 236h1v1h-1zM534 237h1v1h-1zM603 238h1v1h-1zM583 239h1v1h-1zM611 239h1v1h-1zM616 240h1v1h-1zM589 241h1v1h-1zM591 242h1v1h-1zM604 242h1v1h-1zM614 242h1v1h-1zM605 244h2v1h-2zM583 251h1v1h-1zM577 253h1v1h-1z"/><path fill="#f4fa48" d="M623 226h1v1h-1zM622 227h1v1h-1zM614 232h3v1h-3zM619 233h1v1h-1zM576 239h1v1h-1zM605 240h1v1h-1zM604 241h1v1h-1zM581 242h1v1h-1zM590 242h1v1h-1zM604 243h1v1h-1zM618 243h1v1h-1zM577 254h1v1h-1zM607 275h1v1h-1z"/><path fill="#eec830" d="M620 232h1v1h-1zM574 234h1v1h-1zM614 234h1v1h-1zM619 234h1v1h-1zM614 235h1v1h-1zM605 236h1v1h-1zM614 236h2v1h-2zM621 237h1v1h-1zM612 238h1v1h-1zM611 240h1v1h-1zM605 241h1v1h-1zM605 242h1v1h-1zM588 244h1v1h-1zM578 258h1v1h-1zM580 258h1v1h-1zM533 270h1v1h-1zM607 274h1v1h-1zM608 275h1v1h-1z"/><path fill="#f0a228" d="M618 233h1v1h-1zM619 237h1v1h-1zM576 238h1v1h-1zM581 238h1v1h-1zM607 239h1v1h-1zM612 239h1v1h-1zM613 241h1v1h-1zM595 242h1v1h-1zM613 242h1v1h-1zM584 243h1v1h-1zM592 244h1v1h-1zM590 246h1v1h-1zM607 247h1v1h-1zM582 260h1v1h-1z"/><path fill="#f08020" d="M617 232h1v1h-1zM619 232h1v1h-1zM613 233h1v1h-1zM616 236h1v1h-1zM606 237h1v1h-1zM615 238h1v1h-1zM615 239h1v1h-1zM579 241h1v1h-1zM612 242h1v1h-1zM583 243h1v1h-1zM606 243h1v1h-1zM610 275h1v1h-1z"/><path fill="#fc2010" d="M614 233h4v1h-4zM615 234h4v1h-4zM615 235h6v1h-6zM619 236h2v1h-2zM577 237h3v1h-3zM604 237h2v1h-2zM614 237h2v1h-2zM620 237h1v1h-1zM577 238h4v1h-4zM604 238h3v1h-3zM611 238h1v1h-1zM613 238h2v1h-2zM577 239h6v1h-6zM604 239h3v1h-3zM613 239h2v1h-2zM616 239h1v1h-1zM577 240h8v1h-8zM612 240h4v1h-4zM580 241h8v1h-8zM612 241h1v1h-1zM614 241h1v1h-1zM582 242h8v1h-8zM594 242h1v1h-1zM585 243h8v1h-8zM605 243h1v1h-1zM589 244h3v1h-3zM589 245h4v1h-4zM606 247h1v1h-1zM576 253h1v1h-1zM579 258h1v1h-1zM579 259h1v1h-1zM582 261h1v1h-1zM609 275h1v1h-1zM611 275h3v1h-3zM614 276h2v1h-2z"/></g>
<path d="M426.8 216.1L428.3 216.0L427.3 215.8L426.8 216.1M346.0 215.1L344.7 215.6L343.8 216.0L345.0 215.4L346.0 215.1M342.6 216.2L341.2 216.5L342.1 216.3L342.6 216.2M339.7 216.6L338.0 216.8L339.0 216.5L339.7 216.6M336.9 217.0L335.2 217.2L336.1 216.9L336.9 217.0M670.3 216.0L671.6 216.2L670.8 216.4L670.3 216.0M674.9 216.9L676.5 217.4L675.6 217.0L674.9 216.9M344.5 203.6L345.7 200.9L349.3 200.2L350.8 198.9L355.5 197.9L359.8 198.4L363.7 198.9L368.5 199.2L370.4 199.6L374.2 200.2L377.1 199.7L380.9 199.1L382.8 198.7L385.7 199.2L386.6 199.8L390.5 199.7L393.3 200.2L395.2 201.2L397.2 201.4L400.0 201.2L401.9 201.6L401.9 200.7L404.8 200.7L407.7 201.4L411.5 201.2L413.4 200.9L413.9 199.7L412.9 197.7L414.9 197.2L416.8 198.2L417.2 199.7L418.7 200.7L421.1 200.7L421.6 201.6L423.5 200.2L426.8 199.5L427.3 200.7L426.8 202.1L424.9 202.8L423.0 202.6L422.5 203.6L421.1 204.6L419.2 205.1L417.2 206.3L415.3 207.6L414.9 209.1L414.7 210.2L416.3 210.3L416.8 212.0L419.2 212.0L422.0 213.0L423.9 213.7L426.5 213.9L426.8 216.0L427.8 216.9L428.7 217.6L429.7 217.4L429.7 215.0L429.2 214.0L431.1 213.0L432.1 212.0L431.1 210.5L430.2 210.0L431.1 208.6L430.6 206.8L433.5 206.8L435.4 207.1L436.9 207.9L438.3 208.1L438.8 210.0L440.2 210.5L442.1 210.0L443.1 208.8L444.0 209.5L446.0 211.0L446.4 212.5L447.9 213.7L449.8 214.2L450.7 215.0L451.7 216.4L451.7 217.4L449.3 217.7L447.9 218.6L445.0 218.6L441.6 218.7L439.7 219.9L438.3 221.4L439.3 220.9L442.1 219.7L443.8 220.0L443.1 220.9L443.4 221.9L444.0 222.7L446.0 223.1L446.9 223.6L447.9 222.7L447.6 221.9L446.6 223.0L446.9 223.6L444.5 224.2L442.6 225.3L441.9 224.8L443.6 223.6L441.2 223.8L439.3 224.8L437.8 225.5L437.5 226.3L438.3 227.0L436.9 227.4L434.5 228.2L434.5 229.3L433.2 230.3L432.6 231.7L432.8 233.2L431.6 234.2L429.7 235.4L427.8 236.7L427.5 238.2L428.3 240.3L428.7 242.1L428.3 243.4L427.6 243.4L427.0 242.4L426.1 240.8L426.1 239.6L424.9 238.7L423.5 238.9L422.0 238.3L420.1 238.4L419.6 239.4L418.2 239.3L415.8 238.9L414.4 239.3L412.5 240.6L412.1 242.6L411.7 245.6L412.0 247.0L412.9 249.0L413.9 249.8L415.3 250.3L417.2 249.9L418.2 249.5L418.7 248.0L419.2 247.4L421.1 247.0L422.0 247.2L421.6 249.0L421.1 250.5L420.6 252.0L420.3 252.7L422.0 252.7L423.9 252.6L425.6 253.4L425.4 255.9L425.2 257.4L426.3 259.1L427.8 259.6L429.0 259.0L430.6 259.1L431.3 259.9L431.8 260.4L433.0 257.9L433.7 257.4L435.4 256.9L436.9 256.0L436.9 257.4L436.6 258.9L437.3 258.4L438.3 256.9L438.5 256.2L439.9 257.6L442.1 257.8L443.6 258.2L446.0 257.7L446.4 258.6L447.4 259.9L448.8 260.4L450.3 262.0L452.7 262.4L455.0 263.1L456.0 264.0L457.0 266.3L457.4 267.8L458.9 268.7L459.3 269.5L462.2 269.7L463.2 270.9L465.6 271.1L467.5 271.2L469.4 272.7L471.5 273.4L472.0 275.6L471.6 277.4L469.9 279.1L468.4 281.1L468.0 283.5L468.0 285.8L467.0 288.0L466.0 290.0L465.1 290.9L462.7 291.1L460.8 292.1L459.1 293.7L458.7 295.9L457.4 297.4L455.5 299.8L454.1 301.8L452.7 302.7L450.7 302.3L449.5 301.8L450.5 304.0L450.3 305.7L448.8 306.5L446.0 306.7L445.7 308.5L443.1 308.7L443.1 310.2L444.3 310.2L442.9 311.2L442.6 312.6L440.7 313.6L442.1 315.1L440.7 317.1L439.3 318.1L439.7 319.9L437.8 320.2L437.3 321.3L434.9 320.1L433.5 318.6L433.0 316.1L434.0 314.4L433.0 314.1L434.9 311.7L435.4 309.7L434.5 308.7L434.9 307.2L434.9 305.0L435.9 303.3L436.9 300.8L436.9 297.9L437.3 295.4L437.8 292.9L438.0 289.0L438.0 286.3L436.4 285.0L433.5 283.5L432.3 281.9L431.4 280.1L430.2 277.6L428.9 275.2L427.8 274.2L427.5 272.7L428.4 271.6L428.7 270.7L427.8 270.4L428.3 268.7L428.7 267.5L429.9 266.8L430.2 265.8L431.3 264.5L431.1 262.3L431.3 261.3L430.6 260.9L430.4 260.1L429.2 259.4L428.4 260.1L428.5 260.9L427.8 261.0L427.1 260.4L425.9 260.1L425.2 259.9L425.2 259.1L423.9 258.4L423.2 257.9L423.2 257.2L422.0 255.9L421.6 255.2L420.1 255.0L418.2 254.4L416.8 253.6L415.3 252.5L414.4 252.3L412.9 252.8L411.0 252.2L409.6 251.6L407.7 250.5L406.1 249.8L404.3 248.5L404.5 247.0L403.9 245.6L401.9 243.6L400.7 242.1L399.5 241.1L398.1 239.6L397.2 237.7L395.5 237.0L395.5 238.7L397.2 240.6L398.6 242.6L399.5 244.1L400.5 245.4L399.7 245.6L398.1 243.8L397.8 242.6L396.2 241.6L395.2 240.6L395.9 240.1L394.3 238.2L393.3 236.2L391.9 234.7L390.0 234.2L388.7 232.2L388.1 231.0L386.8 229.3L386.3 228.3L386.4 225.8L386.6 222.9L386.0 220.5L387.6 220.9L387.6 219.9L386.2 218.9L383.8 217.9L382.8 216.4L380.9 214.7L379.9 213.5L378.0 212.0L377.1 210.8L374.7 210.7L373.2 210.0L371.3 209.2L368.5 209.1L365.6 208.3L363.7 208.3L362.2 209.3L360.3 209.7L360.8 208.3L361.8 207.9L359.8 208.6L358.4 209.7L357.4 210.5L355.5 211.7L353.6 213.0L351.2 213.8L348.8 214.3L347.6 214.4L349.3 213.5L351.7 213.0L353.6 211.5L354.6 210.3L353.1 210.4L351.2 210.3L350.3 209.5L348.8 209.2L347.4 208.3L346.9 207.3L347.6 206.4L348.4 205.9L350.8 205.6L351.2 204.6L349.3 204.6L346.9 204.6L346.0 203.9L344.5 203.6M411.5 191.5L414.4 191.4L413.9 190.6L412.0 190.7L411.5 191.5M594.1 254.9L594.3 256.4L593.9 256.8L594.0 255.6L594.1 254.9M443.7 219.1L446.0 219.7L446.1 219.5L443.7 219.1M641.6 278.8L642.6 280.6L642.7 282.4L644.3 283.1L644.5 284.5L645.2 286.8L646.4 287.4L647.8 288.5L648.3 290.0L649.6 290.5L649.8 291.7L651.5 292.9L651.9 294.4L652.2 296.4L651.7 298.3L651.2 300.0L650.0 301.6L649.3 303.3L648.8 305.0L647.8 305.5L646.4 305.7L645.3 306.8L644.0 306.0L642.6 306.5L640.7 306.1L639.2 305.2L638.7 303.8L637.8 303.3L637.6 302.1L637.3 300.8L636.8 301.8L635.4 302.6L634.9 302.5L633.7 300.8L632.1 299.8L630.6 299.3L628.7 299.5L625.8 300.1L623.9 300.8L623.4 301.7L621.0 301.7L619.6 302.2L618.2 302.8L616.7 302.8L615.4 302.1L616.0 300.3L615.8 298.8L615.2 296.9L614.4 295.4L613.7 293.9L614.2 292.4L613.9 291.4L614.2 290.0L614.8 289.8L616.7 288.7L618.7 288.3L620.1 287.9L621.5 287.0L622.3 285.5L623.4 285.3L623.4 284.3L624.9 283.5L625.8 282.3L627.3 282.1L628.0 283.1L629.2 283.0L629.7 281.6L630.4 280.5L631.6 280.3L632.1 279.5L633.0 279.9L634.4 280.3L636.2 280.3L635.4 281.4L634.9 282.9L635.9 283.8L637.3 284.7L638.7 285.6L640.0 285.5L640.7 283.5L640.7 281.6L641.0 280.4L641.6 278.8M422.0 191.0L419.2 191.1L415.3 190.0L414.4 188.8L417.2 188.1L419.2 189.0L422.0 189.8L422.0 191.0M443.1 207.3L439.7 206.8L436.4 206.3L434.5 204.8L431.1 204.8L430.6 204.1L434.5 203.6L434.9 202.6L435.9 201.6L434.0 200.9L431.6 199.7L429.7 199.2L426.8 199.2L423.9 199.2L421.1 198.7L419.6 197.7L419.2 196.2L421.1 195.4L423.9 195.4L426.8 195.5L428.7 196.7L430.6 196.2L433.5 196.7L436.4 197.7L439.3 198.7L441.2 199.7L442.6 201.2L445.0 202.1L446.4 202.6L445.0 203.6L443.1 203.3L440.7 203.6L443.1 204.6L444.5 204.3L443.6 205.8L441.6 206.1L443.1 207.3M430.4 242.0L431.4 242.1L430.8 243.4L430.5 243.6L430.4 242.0M614.8 276.2L616.0 276.4L615.5 276.9L614.8 276.2M606.0 269.8L607.4 270.7L606.9 271.2L606.0 269.8M385.7 197.2L387.6 198.0L390.0 197.7L392.4 196.5L394.8 195.7L392.9 194.9L389.5 194.7L386.2 195.2L385.7 197.2M406.7 194.1L410.6 194.2L412.0 193.5L410.6 192.6L407.7 192.8L406.7 194.1M601.0 191.0L603.8 191.3L605.7 190.8L603.8 190.1L601.0 191.0M397.2 190.9L400.0 190.8L399.5 190.3L397.2 190.4L397.2 190.9M609.6 266.8L610.2 266.3L611.8 265.8L613.4 265.1L614.4 263.8L615.8 262.8L617.0 261.3L617.9 262.1L619.1 263.0L618.4 263.8L617.9 264.8L618.2 266.1L619.1 267.3L617.9 267.6L617.7 269.0L616.7 269.7L616.6 271.5L616.3 272.2L614.9 272.3L613.9 271.5L612.2 271.7L610.7 271.1L610.5 269.7L609.8 268.7L609.6 266.8M653.2 273.7L654.3 274.7L653.8 275.0L653.2 273.7M625.8 271.4L627.0 271.5L626.6 272.0L625.8 271.8L625.8 271.4M427.8 196.0L431.1 196.4L432.1 195.7L429.2 195.5L427.8 196.0M489.2 240.2L489.9 240.1L489.5 240.6L489.2 240.2M490.2 240.5L490.5 240.5L490.4 240.8L490.2 240.5M482.5 253.2L482.9 253.3L482.8 253.5L482.5 253.2M552.2 222.4L554.1 222.1L556.0 222.4L556.2 223.6L554.3 224.3L553.4 224.5L554.1 225.6L555.5 226.1L555.7 227.5L556.8 227.9L556.0 228.8L556.3 229.8L556.9 231.4L555.0 232.0L553.6 231.5L552.2 231.2L552.1 230.3L552.6 228.4L551.7 227.0L550.7 225.8L550.2 224.5L550.0 224.0L550.7 223.3L552.2 222.4M434.3 309.6L434.9 310.0L434.8 311.1L434.1 310.9L434.3 309.6M425.9 206.8L427.8 206.4L428.7 206.6L426.8 207.1L425.9 206.8M546.6 279.6L546.9 279.8L546.7 280.0L546.6 279.6M412.9 194.4L415.8 194.5L415.8 193.8L413.4 193.7L412.9 194.4M513.5 226.3L514.3 225.8L514.4 226.9L513.7 227.3L513.5 226.3M527.8 233.2L530.4 233.5L529.0 233.8L527.8 233.5L527.8 233.2M424.0 246.6L425.9 245.6L427.8 245.5L429.7 246.1L431.6 247.0L433.0 247.8L434.3 248.3L433.5 248.6L431.1 248.6L430.6 247.8L428.7 246.8L426.8 246.2L425.4 246.3L424.0 246.6M536.2 233.7L538.3 233.1L537.5 233.8L536.6 234.0L536.2 233.7M428.3 193.8L426.8 194.7L421.1 194.7L417.2 194.4L417.2 193.0L421.1 192.8L424.9 193.0L428.3 193.8M404.8 191.1L409.6 191.5L411.0 190.5L407.7 190.0L404.8 190.5L404.8 191.1M428.7 193.0L430.6 192.5L432.6 191.3L433.5 190.3L437.3 189.8L441.2 188.3L446.0 187.0L440.2 186.4L430.6 186.3L423.0 187.0L418.2 187.8L421.1 188.8L423.0 190.3L421.1 191.5L423.9 192.0L428.7 193.0M530.0 198.1L532.1 198.2L534.9 198.9L533.0 199.4L536.8 199.8L539.7 200.2L543.5 201.4L544.7 202.3L543.5 202.9L541.6 203.0L537.8 202.4L536.8 202.6L538.8 204.1L538.6 204.7L540.7 205.2L541.6 204.3L544.0 204.5L543.5 203.3L545.5 202.6L547.4 202.9L547.6 201.6L546.9 200.6L549.3 201.0L549.8 202.1L551.2 201.5L556.0 200.9L556.9 201.0L559.8 200.6L562.7 200.5L563.6 199.4L567.0 199.9L569.4 200.4L570.6 200.9L569.4 199.6L569.4 198.2L570.8 196.7L572.3 196.2L574.9 196.4L574.8 198.2L574.2 200.2L575.6 201.2L574.6 202.5L576.1 202.1L575.8 200.7L576.6 198.7L576.1 196.9L577.5 197.0L579.9 197.0L578.9 198.2L581.8 198.7L584.7 199.0L583.7 197.5L582.3 195.7L587.6 195.2L588.5 194.2L592.3 193.6L596.2 193.2L600.0 193.0L601.9 192.3L605.1 191.6L606.7 192.0L608.6 192.6L612.4 192.8L613.9 193.5L612.4 194.7L609.6 195.2L608.6 195.9L610.5 195.4L613.4 195.5L615.3 195.6L619.1 196.2L623.4 195.6L626.8 195.8L628.7 196.7L629.2 198.2L630.6 198.4L632.5 197.7L635.4 197.7L638.3 197.7L639.2 196.7L642.1 196.6L645.9 196.9L648.8 197.5L650.7 198.2L654.5 198.2L657.4 198.5L658.4 199.6L660.3 199.6L663.1 199.7L666.0 199.4L668.4 199.2L667.9 200.2L670.8 199.4L673.7 199.4L676.5 200.2L677.5 200.4M333.0 200.4L335.9 201.0L338.8 202.1L341.2 202.2L342.8 203.0L341.7 203.6L340.2 204.7L337.8 204.3L336.9 203.6L334.5 203.6L334.0 202.8L333.0 204.1M677.5 204.1L676.1 204.6L675.1 204.4L676.5 206.1L677.0 206.8L674.6 206.6L671.8 207.3L669.8 208.1L668.4 209.1L665.1 208.8L663.1 209.2L661.7 210.5L661.2 211.2L660.8 212.8L661.5 213.0L660.3 214.2L658.4 215.0L658.4 216.0L656.9 216.7L655.2 217.9L654.5 216.4L654.2 214.0L654.2 212.0L655.5 211.2L657.4 210.5L659.3 209.1L661.9 208.1L662.2 206.6L660.3 207.4L658.7 207.3L657.9 207.4L655.5 207.6L655.0 208.1L653.1 209.2L653.6 209.8L650.7 210.0L649.8 209.5L647.8 209.3L645.0 209.7L642.1 209.7L639.7 211.0L637.3 212.5L634.9 214.2L636.4 215.0L636.8 215.3L638.7 214.8L640.5 215.8L640.2 216.9L639.7 218.4L639.7 220.4L638.3 221.9L637.3 222.9L635.4 224.3L634.4 225.3L632.5 226.0L631.6 225.6L630.3 226.3L629.4 227.3L629.2 228.3L627.3 229.1L628.0 230.3L629.0 231.7L629.1 233.2L628.7 233.7L627.3 234.0L626.1 234.2L626.3 232.7L626.3 231.2L624.9 230.8L625.2 229.3L624.2 228.8L622.0 229.8L621.2 230.0L622.0 228.3L621.0 227.9L619.1 229.5L617.9 229.8L618.7 230.8L619.1 231.5L620.9 231.0L622.5 231.4L622.5 231.8L620.6 232.5L619.4 233.7L620.4 234.7L621.0 236.2L621.8 237.2L622.0 237.9L621.0 238.2L622.0 238.8L621.5 240.3L620.6 241.6L619.6 243.1L618.2 244.1L616.7 245.6L614.8 246.1L613.9 246.3L612.0 247.0L610.8 247.2L610.5 248.2L610.2 247.0L608.9 246.9L607.7 247.5L606.4 249.5L607.2 250.7L608.9 252.5L609.8 254.9L609.8 256.6L608.1 257.9L607.4 258.0L607.2 258.9L605.7 259.7L605.5 258.4L604.3 257.8L603.3 256.4L601.9 255.7L601.4 254.9L601.0 255.4L600.7 257.4L600.2 259.1L601.1 260.0L601.4 261.1L602.6 261.5L603.3 262.3L604.2 263.5L604.3 265.5L605.0 266.9L604.2 266.9L602.4 265.5L601.4 263.8L601.2 262.3L600.5 261.3L599.3 260.4L599.5 258.9L599.6 256.9L599.2 254.9L598.9 253.4L598.6 252.0L597.6 252.0L596.5 252.7L595.5 252.5L595.7 250.7L594.9 249.0L593.6 247.5L593.1 246.2L591.9 246.2L590.4 246.7L589.0 247.0L588.3 248.0L587.1 248.8L585.6 250.2L584.0 251.8L582.3 252.7L581.9 254.4L582.0 256.4L581.6 258.1L580.9 259.2L580.1 259.6L579.4 260.3L578.5 259.4L577.7 256.9L576.8 255.4L576.4 253.4L575.6 252.0L574.9 249.5L574.8 247.5L574.5 246.7L573.2 247.7L571.6 246.5L572.4 245.7L571.1 245.3L569.9 244.6L569.1 243.8L568.9 243.2L566.5 243.3L564.1 243.5L561.5 243.1L560.1 242.8L559.6 241.6L557.6 242.0L556.0 241.6L554.6 240.8L553.9 239.6L552.9 238.5L552.0 238.4L551.2 238.8L551.7 240.3L553.1 241.9L553.4 242.9L554.1 242.6L554.6 243.3L554.4 244.3L555.5 244.5L556.9 244.4L558.2 243.3L559.0 242.4L559.3 243.8L560.3 244.8L561.3 245.0L562.5 246.1L561.4 248.0L560.6 249.5L559.3 250.5L558.1 251.0L556.5 251.8L555.0 252.9L552.2 254.2L550.7 254.9L548.3 255.6L546.9 255.7L546.6 254.9L546.2 253.0L545.9 251.5L544.5 249.5L542.8 247.2L542.1 245.1L541.0 243.6L540.0 242.1L538.8 240.6L538.6 239.1L538.1 240.6L537.4 240.4L536.8 239.6L536.5 238.7L536.6 239.6L537.3 240.8L538.1 242.6L539.2 244.6L539.5 245.6L540.7 247.0L541.0 249.0L542.1 250.5L543.1 253.0L544.5 253.9L546.4 255.9L546.7 256.9L547.9 257.9L550.2 257.2L552.2 257.1L554.3 256.5L554.1 257.9L553.1 260.4L551.7 262.8L550.2 264.8L548.8 266.3L547.4 267.3L545.9 268.7L545.0 270.0L543.7 271.0L543.1 272.7L542.4 274.5L543.1 275.2L542.9 277.1L544.0 278.6L544.0 281.1L544.2 283.1L543.1 284.5L540.7 285.8L539.7 287.0L538.6 288.0L539.1 290.0L539.2 291.9L536.8 293.4L536.7 294.4L536.4 296.4L534.9 297.9L533.5 299.6L532.1 300.8L530.2 301.6L528.2 301.8L526.3 302.0L524.4 302.6L523.0 302.1L522.8 300.8L522.5 299.8L521.5 297.4L520.1 294.9L519.1 290.9L518.2 289.0L516.8 286.0L516.6 284.0L517.2 281.6L518.4 279.1L517.7 277.1L517.0 274.2L516.8 273.2L515.8 272.0L514.4 270.2L513.9 268.9L514.4 267.3L514.7 265.3L513.9 264.0L512.0 264.0L511.0 264.0L509.6 262.1L507.7 262.0L506.2 262.4L504.3 263.1L502.9 263.4L501.4 263.1L499.5 263.5L498.1 263.9L496.7 263.3L494.8 261.6L493.3 260.9L492.5 259.4L491.4 257.9L490.9 257.4L489.5 256.1L489.2 254.9L488.6 253.7L489.5 252.5L490.0 250.5L489.7 249.2L489.0 247.5L490.0 245.1L491.1 243.1L492.8 240.9L494.8 239.8L495.7 239.1L496.0 237.7L496.4 236.2L498.1 235.0L499.5 233.2L500.2 232.8L502.4 233.5L504.3 233.2L506.2 232.3L508.1 231.9L511.0 231.7L513.4 231.7L514.8 231.4L515.8 231.8L515.3 232.7L515.6 234.2L514.8 234.7L515.8 235.4L517.7 235.8L519.8 236.4L520.6 237.5L522.5 238.2L524.2 237.9L524.4 236.7L525.8 235.8L527.3 236.1L529.2 236.9L531.1 237.4L533.0 237.8L534.9 237.2L536.2 237.5L537.8 237.4L538.5 236.7L538.8 235.7L539.5 234.1L539.6 232.7L539.9 232.0L538.8 232.1L537.8 232.5L536.4 232.6L534.9 231.9L534.5 232.4L533.0 232.2L531.6 231.9L531.1 230.8L530.4 229.6L530.3 228.8L531.6 228.4L533.0 228.2L533.1 227.6L534.9 227.6L537.3 226.8L538.8 226.8L540.2 227.5L541.6 227.8L543.5 227.8L545.0 227.2L545.0 226.1L543.5 225.3L542.1 224.4L541.2 223.8L540.5 223.6L541.6 222.9L542.8 221.8L541.2 221.9L539.1 222.5L539.2 223.5L540.2 223.6L539.0 223.9L537.5 224.4L536.4 223.5L537.4 222.9L535.9 222.4L534.7 222.4L533.7 223.6L532.7 224.8L532.1 226.0L532.1 226.9L533.0 227.6L532.1 227.8L530.9 228.2L530.2 228.5L530.2 228.0L528.7 227.9L528.0 228.6L527.1 228.4L527.1 229.3L527.6 230.0L528.2 230.7L528.2 231.1L527.3 231.2L527.5 232.2L526.8 232.2L526.0 231.9L525.6 231.0L525.4 230.3L524.9 229.5L523.9 228.5L523.9 227.1L523.0 226.3L521.5 225.6L520.1 224.8L519.4 223.8L518.5 223.3L517.1 223.6L517.2 224.6L518.4 225.3L519.1 226.5L520.6 226.9L520.8 227.3L522.5 228.1L523.0 228.7L522.5 228.9L521.5 228.3L521.2 229.1L521.6 229.8L521.1 230.5L520.3 230.9L520.3 230.5L520.6 229.8L520.1 228.8L519.1 228.1L517.7 227.5L516.8 226.8L515.8 226.3L515.1 225.3L514.4 224.5L513.6 224.4L512.5 225.0L511.5 225.6L510.1 225.4L509.1 225.3L508.1 225.8L508.3 226.8L507.4 227.4L506.0 228.1L505.0 229.3L505.3 230.1L504.6 231.1L503.4 231.9L501.0 232.0L500.1 232.6L499.2 232.1L498.6 231.5L496.8 231.7L496.9 230.3L496.3 230.0L496.9 228.3L496.9 226.8L496.5 225.8L497.6 225.1L500.0 225.3L501.9 225.4L503.6 225.4L504.0 224.3L504.2 223.2L503.6 222.4L503.2 221.7L501.9 221.2L500.8 220.9L500.8 220.4L502.4 220.1L503.7 220.3L503.6 219.2L504.1 219.5L505.5 219.4L506.7 218.7L506.9 218.0L508.6 217.5L509.3 216.9L509.9 216.0L511.0 215.6L512.2 215.4L513.4 215.2L513.7 214.5L513.1 213.5L513.0 212.0L514.4 211.8L515.3 211.3L515.3 212.5L514.8 213.5L514.6 214.2L515.6 215.0L516.8 214.8L518.2 214.6L519.0 215.1L520.6 214.7L522.5 214.2L523.2 214.6L524.4 214.6L525.4 213.8L525.4 212.2L526.0 211.4L526.9 211.3L527.8 212.0L528.5 211.8L528.7 210.7L527.8 210.3L527.8 209.8L529.7 209.4L532.1 209.5L534.0 209.1L532.5 208.5L530.6 208.7L528.7 209.1L527.1 209.1L525.7 208.4L525.7 206.6L526.8 205.6L528.7 204.3L529.6 203.8L528.4 203.3L526.6 203.4L525.7 204.6L524.4 205.6L523.0 206.1L522.0 207.1L521.7 208.3L523.0 209.1L523.3 209.5L522.5 210.0L521.3 210.5L521.1 211.8L520.6 212.8L519.1 213.0L518.9 213.6L517.7 213.6L517.4 212.8L516.8 211.7L516.1 210.4L515.4 209.7L515.3 209.2L514.4 210.1L513.1 210.9L512.0 211.0L510.6 210.3L510.1 209.1L510.1 207.6L510.3 206.9L512.0 206.2L513.4 205.6L514.8 205.1L516.1 204.1L517.2 203.1L518.2 202.1L519.4 201.2L521.1 200.5L523.0 199.6L524.9 199.2L527.3 198.7L530.0 198.1M446.9 319.1L449.8 319.0L449.3 319.8L447.4 319.8L446.9 319.1M498.3 206.9L499.1 206.8L498.8 207.3L498.3 206.9M674.9 285.5L676.1 285.4L676.2 286.1L675.0 286.2L674.9 285.5M616.3 276.5L619.1 276.4L623.0 276.4L622.8 276.9L619.1 276.9L616.7 277.0L616.3 276.5M549.3 188.8L552.2 189.1L554.1 188.7L551.2 188.4L549.3 188.8M556.0 189.0L559.8 189.2L562.7 188.7L564.6 189.0L567.5 188.5L561.7 188.1L557.9 188.3L556.0 189.0M417.7 268.5L418.3 268.8L418.0 269.2L417.7 268.5M499.8 218.8L501.9 218.6L503.4 218.3L505.3 218.1L506.6 217.7L505.8 217.4L506.9 216.4L505.6 216.0L505.4 215.4L505.1 214.7L504.0 214.0L503.4 213.1L502.4 213.0L502.9 212.5L503.4 211.4L501.9 211.3L501.4 211.3L502.2 210.4L500.5 210.4L499.7 211.3L499.9 212.5L499.3 212.5L500.0 213.6L500.7 213.5L500.7 214.2L501.9 214.1L502.4 215.0L502.4 215.6L501.0 215.7L501.2 216.4L500.3 217.1L501.9 217.4L502.4 217.6L501.2 217.8L499.8 218.8M522.7 212.0L523.5 211.1L523.3 211.7L522.7 212.0M435.4 191.1L440.2 189.8L443.1 188.8L447.9 187.5L454.6 187.1L462.2 186.6L471.8 185.8L479.4 186.1L484.2 187.0L488.1 187.8L493.3 187.8L489.0 189.3L487.1 190.8L487.1 192.3L486.1 193.8L486.6 194.7L484.2 195.7L483.7 197.0L484.2 198.7L481.4 198.9L483.3 199.5L480.4 200.7L476.6 201.1L473.7 202.1L470.8 203.2L467.5 203.6L466.5 204.8L465.1 206.3L464.1 208.6L463.2 209.1L461.3 208.4L458.9 208.1L457.4 206.6L456.0 205.1L455.0 203.6L454.1 202.1L455.0 200.5L456.5 199.7L453.1 198.9L453.1 197.7L451.7 196.2L450.3 194.7L448.8 193.5L445.0 193.1L441.2 193.3L438.3 192.8L437.3 191.8L435.4 191.1M378.0 215.0L379.3 215.0L379.9 216.7L378.5 216.0L378.0 215.0M609.3 249.2L610.5 248.4L611.5 248.8L610.8 250.0L610.0 250.3L609.3 249.8L609.3 249.2M627.3 266.4L628.2 266.8L628.4 268.0L627.7 269.0L627.4 267.5L627.3 266.4M356.0 248.3L357.0 248.9L356.3 249.6L356.0 248.9L356.0 248.3M355.3 247.6L356.0 247.7L355.6 247.9L355.3 247.6M498.4 210.7L499.2 210.6L498.6 211.2L498.4 210.7M434.1 249.9L435.4 248.6L437.3 248.7L438.8 249.2L439.8 249.9L438.3 250.2L436.9 250.8L435.9 250.3L434.1 249.9M639.5 227.3L640.2 227.0L640.2 226.3L642.3 226.8L644.3 225.6L644.3 224.6L642.6 224.5L641.0 223.5L640.9 224.3L640.6 225.5L639.6 225.6L639.1 226.3L639.5 227.3M630.5 234.8L631.1 234.1L632.5 233.2L634.9 233.1L636.1 231.9L636.6 231.2L637.8 231.3L638.7 230.3L639.2 229.0L639.2 228.1L640.4 227.4L640.7 228.3L641.1 229.3L640.7 230.5L640.2 231.7L640.0 232.7L639.7 233.5L639.0 233.7L638.9 233.2L638.3 233.7L637.8 234.0L636.5 234.1L636.2 234.4L635.4 235.2L634.6 234.9L634.6 234.1L633.5 234.1L632.1 234.5L630.5 234.8M483.7 202.7L485.7 203.5L487.9 203.0L490.0 202.6L491.2 203.1L492.3 203.9L491.4 204.7L489.5 205.3L487.3 205.7L485.7 205.4L483.7 205.2L484.2 204.6L482.3 204.2L484.2 203.7L482.1 203.5L483.3 202.9L483.7 202.7M499.5 216.7L499.3 215.7L499.7 214.5L499.1 213.8L497.4 213.8L497.1 214.6L495.7 214.8L496.2 215.8L495.9 216.6L495.5 217.1L496.2 217.4L497.6 217.1L499.1 216.8L499.5 216.7M430.4 250.2L432.3 250.4L431.4 250.7L430.4 250.2M605.9 275.0L606.9 274.2L607.7 274.2L609.1 274.7L611.0 275.1L611.5 274.7L612.9 275.1L614.8 275.9L614.6 276.7L612.9 276.5L610.5 276.2L608.6 275.9L607.2 275.6L605.9 275.0M626.0 235.4L626.7 235.2L626.4 235.5L626.0 235.4M661.7 210.0L662.8 210.2L662.2 210.7L661.7 210.0M571.1 316.6L572.7 316.7L572.4 317.2L571.3 317.2L571.1 316.6M413.9 200.4L411.5 200.5L410.1 199.9L412.0 199.2L413.9 199.7L413.9 200.4M357.4 211.5L359.4 211.0L359.6 211.7L357.9 212.2L357.4 211.5M551.5 200.2L552.9 200.4L552.6 199.7L551.7 199.8L551.5 200.2M663.6 213.7L664.7 214.2L664.1 213.8L663.6 213.7M636.8 194.5L639.2 194.4L642.1 193.8L640.2 193.3L637.3 193.7L636.8 194.5M645.0 224.3L646.4 223.7L647.6 223.4L646.4 223.9L645.0 224.3M648.8 222.9L649.9 222.3L649.3 222.8L648.8 222.9M653.1 219.6L654.5 218.4L653.9 218.7L653.1 219.6M630.5 234.8L631.3 235.2L631.4 236.2L630.6 237.4L630.1 237.5L629.9 236.7L629.5 236.0L629.3 235.4L630.1 234.9L630.5 234.8M620.7 250.0L622.2 250.0L622.3 251.5L621.5 252.7L621.7 254.2L623.0 254.4L623.9 255.4L623.7 255.7L623.0 255.0L622.0 254.7L621.0 254.7L620.7 254.1L620.2 253.4L620.0 252.2L620.5 251.2L620.7 250.0M639.2 195.8L642.1 196.0L641.1 195.4L639.2 195.8M561.1 224.8L561.2 223.4L562.5 222.4L563.9 222.4L564.3 223.8L563.2 225.0L561.7 225.3L561.1 224.8M398.6 210.4L401.0 209.9L403.4 209.6L401.0 209.5L398.6 210.1L398.6 210.4M604.6 217.4L606.2 217.1L608.1 216.0L609.6 214.5L610.3 213.2L609.6 213.3L608.6 214.7L607.0 216.0L605.3 216.9L604.6 217.4M575.6 223.8L576.6 222.6L578.5 222.2L580.9 222.3L579.9 222.7L577.5 222.9L576.4 223.8L575.6 223.8M425.5 227.0L426.8 227.3L428.7 226.6L429.8 226.0L428.3 226.2L426.8 226.6L425.5 227.0M386.2 203.9L388.5 204.1L390.9 203.3L392.4 202.6L390.5 202.1L388.1 202.8L386.2 203.0L386.2 203.9M393.3 208.1L395.2 208.1L396.7 207.1L399.5 206.3L400.5 206.6L398.1 207.6L396.2 208.2L394.3 208.3L393.3 208.1M424.3 223.0L425.4 222.8L427.3 222.9L428.7 223.8L428.4 224.3L427.3 224.0L427.1 225.5L426.3 225.7L425.2 225.0L425.6 223.8L424.3 223.0M534.8 209.1L535.4 208.1L536.7 207.8L536.8 208.6L535.9 209.0L534.8 209.1M537.8 277.7L538.4 278.6L538.3 280.1L538.8 281.6L539.0 282.5L538.5 282.4L538.1 281.1L537.8 279.6L537.8 277.7M421.3 226.8L421.2 225.3L421.8 223.8L423.0 223.0L424.0 223.1L423.5 224.0L422.6 225.3L422.7 226.5L422.0 227.1L421.3 226.8M428.9 225.5L430.6 225.5L432.3 225.2L432.1 224.6L430.6 224.9L429.4 225.1L428.9 225.5M417.2 222.2L419.2 221.1L421.1 220.1L423.0 220.2L424.1 221.1L424.2 222.3L422.5 222.4L421.1 222.0L419.2 222.3L417.2 222.2M533.2 271.6L533.7 272.7L533.6 274.2L534.5 275.6L534.9 276.8L534.5 276.8L533.6 275.5L533.1 273.7L533.2 271.6M535.6 269.2L535.9 268.1L537.3 267.9L538.1 268.5L537.8 269.7L537.1 270.7L535.9 270.9L535.6 269.2M412.7 218.5L412.9 217.1L412.0 215.8L410.7 215.2L410.6 216.0L411.5 216.9L412.2 218.1L412.7 218.5M398.1 191.9L400.0 191.8L400.0 191.0L397.2 191.0L398.1 191.9M552.4 280.1L553.3 282.1L553.5 283.5L552.8 285.0L552.2 287.0L551.2 290.0L550.2 292.9L548.8 293.4L547.4 292.9L546.9 291.4L546.7 290.0L547.7 288.0L547.4 286.0L547.9 284.2L549.3 283.7L550.7 282.8L551.7 281.4L552.4 280.1M507.6 229.2L508.5 229.0L508.2 229.5L507.6 229.2M428.4 207.4L429.4 207.1L429.0 206.7L428.4 207.4M560.1 288.1L560.6 288.2L560.3 288.5L560.1 288.1M403.9 194.2L400.0 194.7L396.2 194.5L393.3 194.0L395.2 193.0L400.0 193.0L401.9 193.5L403.9 194.2M622.0 261.3L623.4 259.8L625.2 258.7L626.1 259.9L626.3 261.3L625.8 262.1L625.4 262.5L625.2 261.5L623.9 261.8L623.9 260.9L623.0 260.9L622.0 261.3M647.2 273.7L648.8 273.2L650.9 272.4L650.7 273.5L648.8 274.4L647.2 273.7M662.2 288.2L664.6 289.5L665.1 290.3L663.6 289.7L662.2 288.2M448.6 221.3L451.7 221.3L454.1 222.2L454.9 221.3L454.1 220.4L453.8 219.4L451.9 219.0L452.0 217.5L450.7 218.1L449.8 219.6L448.6 220.6L448.6 221.3M649.6 270.8L651.2 271.7L651.7 272.8L651.0 272.2L649.6 270.8M636.4 193.8L640.2 194.3L643.1 194.2L645.0 193.8L642.1 193.3L638.3 193.3L636.4 193.8M630.6 269.0L632.1 268.6L633.5 269.0L633.7 270.7L634.4 271.5L636.4 270.0L638.3 270.2L640.2 270.8L642.1 271.6L643.5 272.0L644.8 273.2L645.9 274.1L646.7 274.9L645.9 275.2L646.9 276.6L648.3 277.7L649.6 278.5L648.3 278.4L646.4 278.1L645.0 276.4L643.5 275.8L642.6 276.4L641.6 277.3L640.2 277.2L638.7 276.1L637.3 276.4L638.1 275.2L637.3 273.7L635.4 272.8L633.0 272.0L632.3 272.2L631.6 271.1L633.0 270.7L632.1 270.4L630.6 269.0M598.3 266.9L598.9 267.7L598.6 267.5L598.3 266.9M554.6 197.7L556.0 198.4L558.9 198.5L560.3 197.7L557.9 196.2L559.3 195.2L561.7 194.2L565.6 193.3L570.8 192.5L568.4 192.3L563.6 193.0L559.8 193.8L557.9 194.7L556.0 195.9L554.6 197.7M670.5 302.2L672.0 303.3L672.6 304.7L673.5 304.5L673.7 305.3L675.6 305.3L676.0 306.2L674.6 307.0L674.6 307.7L673.0 309.3L672.5 309.0L672.9 307.9L671.6 307.0L672.3 306.4L672.5 305.2L671.8 304.1L670.5 302.2M670.5 308.2L672.0 309.2L670.8 310.7L670.6 311.5L669.2 312.0L668.6 313.5L667.0 314.2L665.5 313.8L664.6 313.4L666.3 311.7L668.4 310.7L669.4 309.5L670.5 308.2M353.9 247.0L354.4 247.0L354.2 247.2L353.9 247.0M627.5 242.5L628.0 241.8L627.7 242.3L627.5 242.5M521.0 212.7L521.6 211.7L521.4 212.4L521.0 212.7M617.4 260.0L618.7 258.9L619.6 257.1L619.3 257.9L618.2 259.4L617.4 260.0M431.1 201.8L433.0 201.6L433.0 201.0L431.6 201.0L431.1 201.8M387.6 193.1L391.4 193.5L394.3 192.8L392.4 192.0L389.5 192.3L387.6 193.1M412.5 197.4L410.6 197.9L407.7 196.7L408.6 195.5L411.5 195.4L412.9 196.2L412.5 197.4M441.0 250.0L442.4 250.2L441.6 250.5L441.0 250.0M558.1 289.0L558.7 289.0L558.5 289.4L558.1 289.0M526.3 210.4L527.5 210.4L527.0 210.9L526.3 210.7L526.3 210.4M641.1 214.7L642.1 215.7L642.4 217.4L642.6 218.9L643.5 219.9L642.1 221.4L642.6 222.4L641.6 222.1L641.1 222.9L641.1 221.1L641.3 219.9L641.1 217.9L641.0 215.7L641.1 214.7M339.9 281.6L340.5 281.7L340.2 281.9L339.9 281.6M513.1 227.9L514.6 227.8L514.5 229.6L513.4 229.8L513.1 227.9M627.7 271.2L630.4 271.3L629.7 271.7L627.7 271.6L627.7 271.2M596.2 190.3L600.0 191.3L603.8 190.8L605.7 190.0L601.9 189.3L598.1 188.8L596.2 190.3M468.9 321.5L470.8 321.8L470.5 322.3L468.9 321.7L468.9 321.5M503.8 208.6L504.4 208.5L504.1 209.1L503.8 208.6M632.1 234.8L633.5 234.4L634.2 234.9L633.7 235.4L632.5 235.9L632.0 235.4L632.1 234.8M599.7 269.2L600.3 270.0L599.9 269.8L599.7 269.2M517.2 230.8L520.2 230.6L519.7 232.0L517.2 231.0L517.2 230.8M556.3 255.8L557.4 255.8L556.9 256.1L556.3 255.8M655.0 275.2L656.9 275.8L658.8 277.1L659.8 278.1L658.4 277.6L656.5 276.3L655.0 275.2M418.7 196.5L415.3 197.0L413.9 195.7L415.3 195.1L418.2 195.2L418.7 196.5M428.3 205.4L425.9 205.1L423.0 205.6L421.6 204.6L423.5 203.3L425.4 203.6L427.3 204.6L428.3 205.4M581.6 258.7L582.1 258.8L583.1 259.9L583.6 261.0L583.3 261.9L582.3 262.4L581.8 262.0L581.6 260.9L581.7 259.6L581.6 258.7M619.9 267.8L620.9 267.0L623.0 267.4L624.9 266.7L624.4 267.8L623.0 267.9L621.0 267.9L620.4 269.1L621.5 269.1L623.2 268.9L622.0 270.0L621.5 270.2L622.5 271.7L623.0 272.5L622.7 273.4L621.7 273.0L621.0 271.7L620.9 270.9L620.4 271.2L620.5 273.7L619.6 273.7L619.6 271.7L618.9 270.9L619.4 269.5L619.9 267.8M596.5 262.7L598.6 263.1L599.3 264.1L601.0 265.6L601.7 266.2L603.8 267.6L604.6 268.7L605.3 270.0L606.7 271.2L606.7 274.0L606.0 274.0L605.3 273.7L603.3 272.4L601.9 270.7L601.2 269.1L600.0 267.8L599.5 266.5L598.1 265.3L596.6 263.5L596.5 262.7M619.1 277.5L620.9 278.0L620.1 278.4L619.1 277.9L619.1 277.5M617.0 276.5L619.1 276.4L619.1 276.9L617.2 277.1L617.0 276.5M515.8 190.3L518.7 191.3L519.6 192.3L521.5 192.7L523.5 191.3L525.8 190.8L524.4 189.8L526.3 189.0L522.5 189.1L519.6 189.5L515.8 190.3M523.0 189.5L527.3 190.0L531.1 189.3L528.2 188.8L523.5 189.0L523.0 189.5M621.5 243.4L622.0 243.8L621.3 245.8L620.9 246.5L620.3 245.6L620.4 244.6L621.0 243.6L621.5 243.4M643.7 308.4L645.4 308.8L647.1 308.6L647.2 309.9L646.4 310.9L645.0 311.2L644.3 310.2L643.7 308.4M438.0 320.2L439.8 320.1L440.0 321.0L442.9 322.2L441.6 322.6L439.3 322.8L436.9 322.0L435.4 321.0L437.3 321.5L438.0 320.2M623.4 278.4L624.9 277.1L626.8 276.5L626.3 277.1L624.4 278.3L623.4 278.4M446.0 257.7L447.0 257.6L446.9 258.3L446.0 258.3L446.0 257.7M382.5 218.2L385.2 218.7L387.1 220.5L385.7 220.2L384.2 219.4L382.5 218.2M676.3 284.5L677.4 284.2L677.0 284.8L676.3 284.5M664.7 283.1L665.3 283.5L665.5 284.5L666.3 285.7L665.5 284.8L664.7 283.1M561.2 199.4L563.0 199.3L562.2 198.8L561.2 199.4M393.3 199.2L398.1 200.6L401.9 200.5L404.8 200.2L407.7 199.7L408.2 198.2L405.3 197.7L404.8 196.2L401.9 196.0L400.0 196.4L396.2 195.9L392.4 196.7L391.4 197.7L394.3 197.9L393.3 199.2M624.2 255.9L625.4 256.1L625.5 257.4L624.9 258.2L624.4 257.4L624.2 255.9M622.0 256.6L623.2 256.9L623.3 258.4L622.5 259.1L622.3 257.9L622.0 256.6M676.1 198.0L677.5 198.2L677.5 197.7L676.5 197.7L676.1 198.0M542.8 274.0L543.1 274.4L542.9 274.6L542.8 274.0M515.8 213.4L517.2 213.0L517.0 214.0L516.0 213.8L515.8 213.4" stroke="#222" stroke-width="0.55" fill="none" stroke-linejoin="round"/>
</g>
<rect x="333.05" y="179.45" width="344.45" height="148.0" stroke="#4a4a4a" stroke-width="0.75" fill="none"/>
<text x="333.75" y="335.35" font-size="7.6" text-anchor="middle" fill="#1a1a1a" >180°</text>
<text x="419.86" y="335.35" font-size="7.6" text-anchor="middle" fill="#1a1a1a" >90°W</text>
<text x="505.97" y="335.35" font-size="7.6" text-anchor="middle" fill="#1a1a1a" >0°</text>
<text x="592.09" y="335.35" font-size="7.6" text-anchor="middle" fill="#1a1a1a" >90°E</text>
<text x="678.20" y="335.35" font-size="7.6" text-anchor="middle" fill="#1a1a1a" >180°</text>
<text x="330.55" y="182.45" font-size="7.6" text-anchor="end" fill="#1a1a1a" >90°N</text>
<text x="330.55" y="226.85" font-size="7.6" text-anchor="end" fill="#1a1a1a" >45°N</text>
<text x="330.55" y="271.25" font-size="7.6" text-anchor="end" fill="#1a1a1a" >0°</text>
<text x="330.55" y="315.65" font-size="7.6" text-anchor="end" fill="#1a1a1a" >45°S</text>
<path d="M333.05 327.45v-3.2M333.05 179.45v3.2M419.16 327.45v-3.2M419.16 179.45v3.2M505.27 327.45v-3.2M505.27 179.45v3.2M591.39 327.45v-3.2M591.39 179.45v3.2M677.50 327.45v-3.2M677.50 179.45v3.2M333.05 179.45h3.2M677.5 179.45h-3.2M333.05 223.85h3.2M677.5 223.85h-3.2M333.05 268.25h3.2M677.5 268.25h-3.2M333.05 312.65h3.2M677.5 312.65h-3.2" stroke="#333" stroke-width="0.7" fill="none"/>
<text x="341.70" y="312.50" font-size="7.85" text-anchor="start" fill="#1a1a1a" >Rural Population Exposure</text>
<text x="341.70" y="321.35" font-size="7.85" text-anchor="start" fill="#1a1a1a" >CDHWs-scPDSI</text>
<ellipse cx="362.6" cy="254.85" rx="15" ry="15.6" fill="#819fde"/>
<path d="M362.6 254.85L364.30 239.35A15 15.6 0 0 1 366.23 239.71Z" fill="#4a44c8"/>
<path d="M362.6 254.85L363.99 239.32A15 15.6 0 0 1 364.30 239.35Z" fill="#70d070"/>
<path d="M362.6 254.85L363.39 239.27A15 15.6 0 0 1 363.99 239.32Z" fill="#e8d040"/>
<path d="M362.6 254.85L362.60 239.25A15 15.6 0 0 1 363.39 239.27Z" fill="#e05020"/>
<text x="357.60" y="238.25" font-size="2.6" text-anchor="middle" fill="#555" >1%</text>
<text x="363.60" y="237.85" font-size="2.6" text-anchor="middle" fill="#555" >1%</text>
<text x="368.60" y="238.65" font-size="2.6" text-anchor="middle" fill="#555" >3%</text>
<text x="360.60" y="273.45" font-size="2.6" text-anchor="middle" fill="#555" >94%</text>
<rect x="353.8" y="281.05" width="7.3" height="2.8" fill="#819fde" stroke="#999" stroke-width="0.25"/>
<text x="361.80" y="283.65" font-size="3.5" text-anchor="start" fill="#444" >0-0.4</text>
<rect x="353.8" y="285.09" width="7.3" height="2.8" fill="#3a36c4" stroke="#999" stroke-width="0.25"/>
<text x="361.80" y="287.69" font-size="3.5" text-anchor="start" fill="#444" >0.4-0.8</text>
<rect x="353.8" y="289.13" width="7.3" height="2.8" fill="#80e080" stroke="#999" stroke-width="0.25"/>
<text x="361.80" y="291.73" font-size="3.5" text-anchor="start" fill="#444" >0.8-1.2</text>
<rect x="353.8" y="293.17" width="7.3" height="2.8" fill="#f0f040" stroke="#999" stroke-width="0.25"/>
<text x="361.80" y="295.77" font-size="3.5" text-anchor="start" fill="#444" >1.2-1.6</text>
<rect x="353.8" y="297.21" width="7.3" height="2.8" fill="#f02020" stroke="#999" stroke-width="0.25"/>
<text x="361.80" y="299.81" font-size="3.5" text-anchor="start" fill="#444" >&gt;1.6</text>
<rect x="332.90" y="343.45" width="20.59" height="10.75" fill="#ffffff"/>
<rect x="353.19" y="343.45" width="20.59" height="10.75" fill="#d6e2fb"/>
<rect x="373.48" y="343.45" width="20.59" height="10.75" fill="#b5cbfa"/>
<rect x="393.76" y="343.45" width="20.59" height="10.75" fill="#94b1f9"/>
<rect x="414.05" y="343.45" width="20.59" height="10.75" fill="#8496f8"/>
<rect x="434.34" y="343.45" width="20.59" height="10.75" fill="#7070f6"/>
<rect x="454.63" y="343.45" width="20.59" height="10.75" fill="#4162f6"/>
<rect x="474.92" y="343.45" width="20.59" height="10.75" fill="#45a096"/>
<rect x="495.21" y="343.45" width="20.59" height="10.75" fill="#48df38"/>
<rect x="515.49" y="343.45" width="20.59" height="10.75" fill="#76f520"/>
<rect x="535.78" y="343.45" width="20.59" height="10.75" fill="#a0f535"/>
<rect x="556.07" y="343.45" width="20.59" height="10.75" fill="#c8fa4c"/>
<rect x="576.36" y="343.45" width="20.59" height="10.75" fill="#f4fa48"/>
<rect x="596.65" y="343.45" width="20.59" height="10.75" fill="#eec830"/>
<rect x="616.94" y="343.45" width="20.59" height="10.75" fill="#f0a228"/>
<rect x="637.22" y="343.45" width="20.59" height="10.75" fill="#f08020"/>
<rect x="657.51" y="343.45" width="20.59" height="10.75" fill="#fc2010"/>
<rect x="332.9" y="343.45" width="344.9" height="10.75" stroke="#777" stroke-width="0.7" fill="none"/>
<text x="332.90" y="365.60" font-size="9.0" text-anchor="middle" fill="#1a1a1a" >0</text>
<text x="367.39" y="365.60" font-size="9.0" text-anchor="middle" fill="#1a1a1a" >0.2</text>
<text x="401.88" y="365.60" font-size="9.0" text-anchor="middle" fill="#1a1a1a" >0.4</text>
<text x="436.37" y="365.60" font-size="9.0" text-anchor="middle" fill="#1a1a1a" >0.6</text>
<text x="470.86" y="365.60" font-size="9.0" text-anchor="middle" fill="#1a1a1a" >0.8</text>
<text x="505.35" y="365.60" font-size="9.0" text-anchor="middle" fill="#1a1a1a" >1</text>
<text x="539.84" y="365.60" font-size="9.0" text-anchor="middle" fill="#1a1a1a" >1.2</text>
<text x="574.33" y="365.60" font-size="9.0" text-anchor="middle" fill="#1a1a1a" >1.4</text>
<text x="608.82" y="365.60" font-size="9.0" text-anchor="middle" fill="#1a1a1a" >1.6</text>
<text x="643.31" y="365.60" font-size="9.0" text-anchor="middle" fill="#1a1a1a" >1.8</text>
<text x="677.80" y="365.60" font-size="9.0" text-anchor="middle" fill="#1a1a1a" >2</text></svg></body></html>
